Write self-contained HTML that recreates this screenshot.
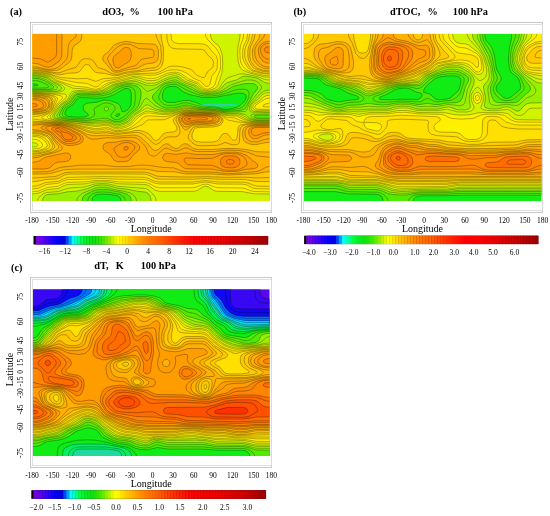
<!DOCTYPE html>
<html><head><meta charset="utf-8"><style>
html,body{margin:0;padding:0;background:#fff;}
svg{display:block;font-family:"Liberation Serif", serif;filter:blur(0.35px);}
</style></head><body>
<svg width="550" height="516" viewBox="0 0 550 516">
<rect width="550" height="516" fill="#fff"/>
<text x="10" y="14.8" font-size="10.3" text-anchor="start" font-weight="bold" fill="#000">(a)</text>
<text x="102.3" y="15" font-size="10.3" text-anchor="start" font-weight="bold" fill="#000">dO3,</text>
<text x="129.5" y="15" font-size="10.3" text-anchor="start" font-weight="bold" fill="#000">%</text>
<text x="157.6" y="15" font-size="10.3" text-anchor="start" font-weight="bold" fill="#000">100 hPa</text>
<rect x="30.5" y="22.5" width="241.0" height="190.0" fill="#fff" stroke="#c8c8c8" stroke-width="1"/>
<rect x="32.5" y="24.5" width="239.0" height="186.0" fill="#fff" stroke="#d8d8d8" stroke-width="0.8"/>
<rect x="32.50" y="33.90" width="237.00" height="167.10" fill="#10ec14"/>
<path fill-rule="evenodd" fill="#50ec00" d="M120.0,114.1 119.6,115.4 118.3,116.8 116.3,116.8 115.6,116.1 115.6,115.1 117.0,113.8 119.3,113.4ZM131.0,90.7 131.6,94.7 131.6,100.7 131.0,105.8 129.6,108.1 127.6,110.1 124.6,111.8 121.6,111.4 120.6,107.1 119.3,104.8 117.6,103.4 110.6,100.7 104.6,100.1 96.9,102.4 87.9,103.1 85.2,104.1 83.6,106.1 83.2,108.4 83.9,110.1 88.6,114.4 88.6,115.4 86.9,116.8 83.6,117.4 70.2,117.1 66.2,116.1 64.5,114.1 64.9,111.4 65.9,109.4 67.9,107.4 72.9,104.8 74.2,103.4 76.2,99.7 78.6,97.7 79.6,97.4 87.9,97.4 93.6,98.1 103.9,97.7 108.6,96.7 114.6,94.4 124.3,88.4 125.6,88.0 128.3,88.4 129.6,89.0ZM162.0,95.1 164.0,89.4 166.0,87.4 171.0,86.0 175.0,86.0 178.4,87.4 182.4,91.0 185.0,92.7 189.7,94.4 203.1,97.4 215.8,97.1 229.1,94.7 235.1,93.1 241.1,92.7 244.8,93.7 246.5,96.1 246.5,97.7 244.8,101.1 238.8,106.8 229.8,109.4 225.1,109.8 214.4,106.8 205.7,106.4 202.7,105.8 196.4,102.7 189.4,100.7 186.4,100.4 182.7,100.7 174.7,102.7 166.7,102.4 164.7,101.4 162.3,98.7ZM32.5,33.9 32.5,83.7 36.8,84.0 38.2,85.0 37.2,86.0 32.5,86.0 32.5,201.0 91.6,201.0 92.6,197.3 94.6,195.3 97.9,194.0 108.6,194.0 116.0,195.0 118.6,196.0 120.6,198.0 121.3,199.3 121.3,201.0 269.5,201.0 269.5,33.9Z"/>
<path fill-rule="evenodd" fill="#98f000" d="M107.3,107.1 105.9,107.1 104.6,107.8 104.3,109.4 104.9,110.4 106.3,110.8 108.3,109.4 108.6,108.4ZM141.0,90.4 141.3,91.7 141.0,98.4 139.3,104.4 138.0,107.1 135.6,109.4 132.6,111.4 130.0,114.1 127.0,118.1 122.3,120.8 119.3,121.8 114.9,121.8 106.6,118.5 100.9,118.5 90.2,120.5 80.9,120.5 80.6,120.1 71.6,119.8 64.2,118.8 60.5,117.4 58.9,115.8 58.9,114.4 62.9,107.1 65.5,104.8 70.2,102.4 72.2,100.1 73.6,97.1 75.6,95.1 78.2,94.1 89.9,94.1 90.2,94.4 101.9,94.1 108.3,92.4 111.6,90.7 116.0,87.4 120.3,85.7 126.0,84.4 130.3,84.4 136.3,85.7 138.6,87.0ZM152.3,98.4 152.3,96.1 153.0,94.7 156.7,91.4 161.7,85.4 165.4,83.4 172.0,81.7 177.4,82.0 199.4,93.1 203.7,94.4 211.4,94.4 218.4,93.4 226.1,90.4 233.4,86.0 246.8,83.0 253.5,83.4 255.8,84.4 257.8,86.7 257.5,89.4 253.5,94.1 251.1,98.7 247.5,104.4 245.5,108.8 243.5,110.1 240.1,110.8 223.8,111.4 217.1,109.4 201.7,108.4 193.1,106.8 188.7,105.4 183.4,105.4 175.4,108.1 166.0,108.4 163.4,107.8 159.3,105.4 155.3,102.4 153.7,100.7ZM32.5,33.9 32.5,78.0 37.5,78.0 44.9,80.4 51.2,84.0 54.2,87.0 54.2,87.7 53.2,88.7 49.5,89.7 32.5,89.7 32.5,201.0 81.9,201.0 82.2,198.0 82.9,196.7 84.9,194.7 93.6,190.3 99.9,189.0 107.3,189.3 115.6,191.3 121.0,192.0 126.3,193.6 128.3,194.7 130.6,197.0 131.6,201.0 269.5,201.0 269.5,118.5 257.8,118.5 254.8,117.8 253.8,116.8 253.8,116.1 255.5,115.1 269.5,114.8 269.5,33.9Z"/>
<path fill-rule="evenodd" fill="#d0f400" d="M269.5,90.4 265.5,90.7 262.2,92.4 251.5,103.1 250.1,105.4 249.5,108.1 249.8,110.4 251.1,111.8 254.1,112.4 269.5,112.4ZM32.5,33.9 32.5,75.7 38.5,75.7 46.9,77.7 50.2,79.7 53.9,82.7 59.9,85.4 61.9,87.4 61.9,89.0 60.2,90.7 55.9,91.7 32.5,91.0 32.5,201.0 42.2,201.0 43.2,197.3 45.2,195.3 48.5,194.0 58.9,193.6 66.5,191.6 77.6,191.0 87.2,188.6 94.9,185.3 100.6,184.6 107.3,185.0 117.0,188.0 127.6,189.0 138.0,191.3 144.7,191.6 146.7,192.3 149.7,195.0 151.0,198.0 151.3,201.0 269.5,201.0 269.5,120.5 258.2,120.5 252.5,119.8 249.1,118.1 246.5,115.4 244.5,114.4 239.5,113.1 236.1,113.1 235.8,112.8 224.4,113.1 218.4,111.1 214.4,110.4 202.7,110.1 189.1,108.1 184.0,108.1 176.7,110.4 172.4,111.1 169.0,111.1 168.7,111.4 162.7,111.1 155.0,109.1 148.0,105.1 145.3,105.4 140.0,110.8 134.6,113.8 132.6,115.8 130.6,119.1 128.3,121.5 119.6,124.8 115.3,124.8 110.6,122.8 106.9,121.8 102.3,121.8 94.3,122.8 88.2,122.8 87.9,122.5 82.6,122.5 66.2,120.8 55.9,118.5 53.9,116.4 54.5,114.1 56.9,111.4 60.2,106.1 62.5,103.7 67.9,100.7 70.2,98.1 71.9,94.1 74.9,92.1 83.9,91.4 84.2,91.7 89.2,91.7 92.3,92.4 98.6,92.4 104.9,90.4 113.6,85.0 125.3,82.0 131.0,81.4 137.0,81.4 139.3,82.0 144.7,84.7 147.3,85.4 153.3,85.4 157.0,84.4 165.0,80.0 172.4,77.3 175.4,77.0 178.7,78.3 182.4,81.4 185.0,82.7 190.7,84.4 195.7,86.7 201.1,91.0 205.1,92.4 209.7,92.4 217.8,90.7 220.1,89.4 223.4,85.4 226.4,82.7 230.8,81.0 236.8,79.7 240.8,77.0 243.5,76.0 247.8,76.0 255.5,77.3 259.5,79.0 263.8,82.0 266.8,83.0 269.5,83.0 269.5,33.9Z"/>
<path fill-rule="evenodd" fill="#fff000" d="M269.5,95.4 266.5,95.7 264.2,96.7 259.2,101.4 254.8,103.7 253.5,105.1 252.8,106.8 253.5,109.1 255.8,110.1 258.5,110.4 269.5,110.4ZM32.5,92.4 32.5,142.5 34.8,142.5 36.8,143.2 38.2,144.5 38.2,145.5 36.5,146.9 32.5,147.2 32.5,193.6 36.2,193.6 38.8,193.0 44.9,190.0 47.2,189.3 55.2,189.0 58.9,188.3 64.2,185.3 68.9,184.0 83.2,184.0 83.6,183.6 86.9,183.6 95.6,181.6 107.9,181.6 117.3,183.6 144.3,184.0 148.0,185.0 154.7,190.0 159.0,191.3 193.7,191.3 195.7,191.0 198.7,189.6 201.4,187.3 203.4,186.3 206.7,186.0 209.1,187.0 213.4,190.3 217.1,191.3 242.8,191.3 253.1,193.6 269.5,194.0 269.5,121.5 253.1,121.5 247.5,120.1 239.1,115.8 236.8,115.1 226.8,115.1 215.8,111.8 200.7,111.1 189.1,109.8 185.0,109.8 180.7,110.8 176.4,112.4 167.7,113.8 163.0,113.8 153.3,112.4 150.0,111.4 145.7,111.4 142.0,113.1 136.6,116.4 133.0,121.1 129.3,124.5 118.6,128.1 114.9,127.8 107.9,124.5 102.3,124.5 98.3,125.5 93.9,125.5 81.9,123.8 79.2,123.8 54.9,120.1 51.2,118.8 49.5,117.1 50.2,115.4 53.9,111.4 58.2,104.1 65.9,97.7 66.2,95.1 64.9,94.1 55.9,94.1 49.9,93.1 39.8,92.7 39.5,92.4ZM240.1,33.9 240.1,38.2 238.5,44.3 237.8,48.6 237.8,58.6 238.5,63.0 240.5,68.0 243.1,70.3 250.5,73.3 256.1,74.3 263.8,76.7 269.5,77.0 269.5,33.9ZM32.5,33.9 32.5,73.7 39.5,74.0 48.9,76.0 50.9,77.0 55.9,81.0 62.5,83.0 71.6,87.7 73.9,88.4 86.6,88.7 94.3,90.4 96.9,90.4 99.6,89.7 102.3,88.4 106.6,85.0 111.9,82.7 119.0,81.4 132.6,77.7 138.0,77.3 146.3,80.4 152.7,80.7 156.7,80.0 164.7,75.7 168.7,74.3 173.4,73.3 176.4,73.3 180.0,74.7 185.4,79.0 197.7,84.0 203.1,89.4 204.7,90.0 209.7,90.0 215.4,88.0 217.8,85.4 221.4,74.7 222.4,70.3 222.8,60.6 222.4,60.3 222.4,56.3 220.4,48.9 218.4,45.6 215.1,43.3 211.8,39.9 210.4,36.2 210.4,33.9Z"/>
<path fill-rule="evenodd" fill="#ffe000" d="M269.5,103.4 267.5,103.4 263.8,104.8 262.8,106.1 264.5,106.8 269.5,106.8ZM32.5,93.7 32.5,136.2 37.5,136.5 41.8,138.2 46.9,142.8 47.5,144.2 47.2,146.9 44.2,148.9 39.2,150.5 32.5,150.9 32.5,189.0 37.8,188.3 44.2,185.0 47.5,184.0 57.9,183.3 64.5,180.3 68.2,179.3 85.2,179.3 93.6,178.3 109.6,178.3 118.3,179.3 145.0,179.3 148.7,180.3 154.0,183.0 158.7,184.0 193.4,184.0 202.4,182.0 208.4,182.0 217.4,184.0 243.8,184.0 246.8,184.6 252.8,188.0 255.1,188.6 269.5,189.0 269.5,122.8 254.5,122.8 254.1,122.5 247.1,122.1 240.5,120.8 235.5,118.1 226.4,117.4 219.1,113.8 215.1,112.8 185.7,111.1 182.4,111.8 174.7,114.8 166.4,116.8 159.0,116.8 150.7,115.8 145.7,116.1 143.7,117.1 139.0,121.8 132.0,127.1 126.3,129.5 120.3,130.8 113.9,130.5 109.6,128.1 106.3,127.1 102.9,127.5 98.6,128.8 94.6,128.8 80.6,125.5 76.9,125.1 69.6,123.5 63.2,122.8 59.2,121.8 52.2,121.1 42.5,118.8 41.5,117.8 42.2,116.4 49.5,113.1 52.2,110.4 53.5,108.1 54.9,104.1 57.5,99.4 57.5,98.1 56.5,97.1 53.9,95.7 50.2,94.7 40.8,93.7ZM247.8,33.9 247.1,39.2 243.8,45.6 242.8,48.9 242.8,58.0 243.5,60.6 244.8,63.3 248.1,68.0 251.5,70.7 262.2,73.7 269.5,74.0 269.5,33.9ZM32.5,33.9 32.5,72.3 38.8,72.3 48.9,74.0 51.9,75.0 55.9,77.7 58.9,79.0 69.6,80.7 77.6,82.7 86.6,83.0 94.3,86.7 97.9,86.4 102.6,82.0 105.6,80.7 110.3,79.7 117.0,79.0 125.0,76.3 134.6,74.3 140.7,74.3 147.0,75.3 153.7,75.3 159.0,74.0 166.0,70.7 171.0,69.7 178.0,69.7 185.0,72.0 188.1,73.7 192.7,77.7 200.4,81.0 204.7,85.7 206.1,86.4 208.4,86.0 209.7,84.4 210.4,79.0 211.4,76.0 216.1,71.0 217.4,67.0 217.4,59.6 216.1,55.6 211.1,50.6 209.4,47.9 207.1,45.6 205.4,44.6 202.7,43.9 176.0,43.6 173.7,42.6 172.0,40.9 171.0,38.6 170.7,33.9Z"/>
<path fill-rule="evenodd" fill="#ffc800" d="M269.5,123.8 245.8,123.8 240.8,124.8 238.5,127.1 237.8,129.5 237.5,137.2 236.5,139.5 235.1,140.5 232.4,140.2 230.8,138.5 228.1,134.5 226.1,133.5 224.4,133.5 222.8,134.2 221.4,135.5 219.4,139.2 217.8,140.8 214.4,142.2 197.7,142.2 194.4,140.8 192.7,139.2 191.7,137.2 191.7,134.5 192.4,131.8 193.4,129.8 194.7,128.5 199.1,127.1 210.4,127.1 216.8,126.5 220.8,124.8 222.1,123.5 223.1,121.1 222.4,118.1 219.4,115.4 214.1,113.8 192.7,112.8 192.4,112.4 185.0,112.4 180.0,114.1 176.7,116.1 173.4,119.1 173.4,121.1 177.0,126.8 177.0,129.8 175.0,131.8 174.0,132.2 167.4,132.5 163.7,133.8 161.3,136.2 160.7,137.5 158.3,139.8 157.0,140.5 155.0,140.5 153.3,139.5 150.7,135.8 147.3,132.8 139.7,130.5 135.6,130.5 129.3,132.2 119.0,133.5 113.6,133.2 107.6,131.2 103.3,131.2 99.3,132.2 93.9,132.2 88.2,130.8 82.6,128.5 72.2,125.5 60.5,123.1 47.2,121.8 32.5,121.5 32.5,133.2 39.8,133.8 46.9,136.5 49.2,138.5 52.9,145.2 52.9,146.9 52.2,148.2 49.5,150.2 39.8,152.9 32.5,153.2 32.5,181.6 37.2,181.3 45.9,179.3 55.9,178.9 59.2,177.9 64.2,174.9 67.9,173.9 96.3,173.9 96.6,173.6 145.3,173.9 149.0,174.9 154.7,178.3 157.3,178.9 194.1,179.3 202.7,178.3 208.4,178.3 216.4,179.3 246.5,179.3 255.1,181.3 269.5,181.6ZM32.5,94.7 32.5,114.4 37.8,114.4 44.2,113.1 48.5,111.4 50.9,109.1 52.2,105.8 52.9,102.4 52.9,99.4 51.2,97.4 49.2,96.4 45.9,95.7ZM252.5,33.9 252.1,38.9 248.8,46.3 247.8,50.6 247.8,56.3 248.1,58.6 249.5,62.3 252.1,66.7 256.1,69.3 262.5,71.3 269.5,71.7 269.5,33.9ZM32.5,33.9 32.5,70.3 33.8,70.7 41.2,71.0 45.2,72.0 51.5,72.7 58.2,74.7 60.9,74.7 68.2,73.0 74.6,73.0 77.9,72.3 80.9,70.0 82.6,67.0 84.6,65.0 87.6,64.3 89.2,65.0 90.9,66.7 92.6,69.7 94.6,71.7 95.9,72.3 98.9,73.0 103.9,73.0 111.9,75.3 117.0,75.7 124.6,73.3 130.0,72.3 140.0,71.7 145.7,70.7 152.7,70.7 156.7,70.0 160.3,67.7 162.3,64.3 163.0,61.6 163.4,47.6 161.0,37.9 161.0,33.9Z"/>
<path fill-rule="evenodd" fill="#ffb000" d="M243.8,128.1 242.8,130.5 242.8,136.5 243.8,140.2 246.1,142.5 252.5,144.5 257.1,144.5 264.5,142.5 269.5,142.2 269.5,125.1 251.8,125.1 246.1,126.5ZM32.5,124.1 32.5,130.8 38.8,131.2 48.2,133.8 51.5,136.5 54.5,141.5 58.2,145.5 58.9,146.9 58.9,147.9 57.5,149.5 52.5,152.2 43.5,154.2 38.5,155.9 32.5,156.2 32.5,173.9 49.9,173.6 53.2,172.9 63.2,169.6 70.2,169.3 70.6,168.9 114.3,168.9 114.6,169.3 145.3,168.9 150.3,169.6 156.3,171.3 174.7,171.6 183.0,173.6 186.4,173.6 186.7,173.9 216.8,173.9 225.4,174.9 234.8,174.9 243.8,173.9 255.5,173.9 259.8,173.3 264.2,171.9 269.5,171.6 269.5,152.2 255.5,151.9 246.8,149.5 240.8,148.9 234.1,148.9 233.8,148.5 224.1,148.5 212.8,149.9 196.1,149.5 192.4,148.2 188.4,144.9 186.4,143.9 183.0,144.2 179.4,147.5 177.4,148.5 173.4,148.2 169.0,144.5 167.7,143.9 165.4,143.9 162.7,145.5 159.7,148.9 157.3,150.5 154.7,150.9 152.7,149.9 150.0,146.2 140.0,136.8 137.3,135.5 132.6,135.2 132.3,135.5 118.6,136.2 118.3,136.5 112.3,136.2 107.3,135.2 100.6,135.8 92.3,135.8 86.9,134.5 80.6,130.8 71.6,127.1 59.5,124.1 49.2,123.8 48.9,123.5ZM178.4,119.1 178.7,121.1 180.0,123.8 182.7,127.8 185.0,129.8 187.1,129.5 191.7,125.8 194.4,124.8 213.4,123.8 217.1,122.8 219.4,120.5 219.4,118.1 218.8,117.1 216.8,115.8 214.4,115.1 209.7,114.4 190.1,113.8 189.7,113.4 184.7,113.8 182.7,114.4 179.0,117.4ZM32.5,96.4 32.5,112.4 36.8,112.4 42.8,111.4 47.2,109.8 49.2,107.8 49.9,105.8 49.9,101.7 49.2,100.1 47.9,98.7 40.8,96.7ZM102.9,57.3 102.9,59.6 103.9,61.6 108.6,66.3 109.9,68.7 112.3,71.0 115.3,72.3 118.3,72.3 126.6,69.7 137.0,68.3 139.7,67.3 142.7,65.0 145.3,63.6 153.7,63.0 155.3,62.3 157.0,60.6 158.0,58.3 158.3,50.6 157.0,46.3 155.7,44.9 152.7,43.9 139.0,43.9 128.6,41.6 124.3,41.6 119.6,42.6 114.3,44.9 112.3,46.9 110.9,49.3 107.6,52.6 103.9,55.3ZM260.2,33.9 259.5,37.9 258.2,40.2 254.8,44.3 252.8,48.6 252.5,50.6 252.8,58.0 255.1,62.6 259.8,66.7 264.8,68.7 269.5,69.0 269.5,33.9ZM32.5,68.0 37.8,68.3 46.9,70.3 56.9,70.3 60.5,69.0 70.6,60.6 71.9,56.3 71.9,50.6 72.6,47.6 74.6,44.9 78.2,42.9 80.2,41.3 81.6,38.2 81.9,33.9 32.5,33.9Z"/>
<path fill-rule="evenodd" fill="#ff9c00" d="M70.6,155.5 68.2,153.2 64.5,153.2 60.2,154.5 45.9,157.2 38.8,161.6 36.2,162.2 32.5,162.2 32.5,168.9 45.5,168.9 48.5,168.2 50.5,167.2 54.5,163.2 56.5,162.2 60.9,161.6 65.9,161.6 68.2,160.9 70.6,158.6ZM257.8,165.6 257.5,164.2 256.1,162.9 252.5,160.9 248.5,156.6 246.5,155.2 239.8,152.9 235.5,152.2 224.8,152.2 214.8,154.5 210.4,154.5 210.1,154.9 194.1,154.5 187.1,152.9 184.7,152.9 178.0,154.5 173.4,154.5 169.7,153.5 165.7,153.5 164.0,154.5 162.7,156.9 163.0,159.2 165.7,161.2 175.0,161.9 177.4,162.6 179.4,163.9 183.0,167.6 187.1,168.9 212.8,168.9 217.1,169.6 223.1,171.3 234.1,171.6 239.1,170.9 244.8,169.3 251.8,168.9 255.5,168.2 257.5,166.6ZM139.7,147.2 138.3,144.5 136.3,142.8 134.3,141.8 129.3,140.5 123.6,140.5 114.9,142.5 106.9,142.8 104.6,143.9 103.6,144.9 102.9,146.5 103.6,149.5 105.9,151.5 108.3,152.5 110.9,155.2 112.6,158.6 114.6,160.6 117.6,161.6 125.6,161.6 128.6,160.6 131.0,158.2 132.6,155.5 139.0,149.9ZM248.8,130.1 248.8,132.8 250.1,136.2 252.1,138.2 254.1,138.8 256.1,138.8 258.2,138.2 261.2,136.2 264.5,134.8 269.5,134.5 269.5,126.5 253.1,126.8 250.1,128.1ZM41.2,127.1 41.2,128.1 41.8,128.8 50.9,132.5 54.9,136.2 55.9,137.8 59.5,141.5 62.5,143.5 67.2,145.5 71.9,145.5 79.6,143.9 82.2,141.8 83.2,139.5 82.2,136.2 79.2,133.5 69.9,128.8 62.2,126.1 57.5,125.1 50.9,125.1 43.2,126.1ZM181.4,120.1 182.0,121.8 184.0,123.8 185.7,124.5 188.1,124.5 194.7,122.5 208.4,122.1 212.4,121.5 215.1,120.5 216.1,118.5 214.1,116.8 209.4,115.8 187.4,114.8 183.0,116.1 181.7,117.4ZM32.5,98.4 32.5,110.4 35.8,110.4 41.5,109.4 44.5,108.1 45.9,106.8 46.2,104.1 45.5,102.7 43.5,100.7 38.5,98.7ZM129.3,48.3 126.6,47.3 123.3,48.3 119.3,52.3 114.3,56.0 112.9,58.6 112.9,61.3 113.9,64.6 115.6,67.3 117.3,68.0 119.0,67.7 124.3,64.0 128.6,62.0 129.6,61.0 131.0,58.0 131.0,51.3ZM269.5,41.3 265.8,41.6 262.2,43.3 259.8,45.6 258.5,48.3 258.5,53.3 260.2,58.0 262.5,61.0 264.5,62.3 266.8,63.0 269.5,63.0ZM32.5,33.9 32.5,63.0 38.8,63.6 45.5,67.0 49.9,67.0 52.2,66.0 58.2,62.0 60.2,60.0 61.2,58.0 61.9,55.0 61.9,33.9Z"/>
<path fill-rule="evenodd" fill="#ff8400" d="M221.1,158.9 220.8,163.9 222.8,166.6 225.4,167.6 227.8,167.9 235.1,167.6 238.1,166.2 239.8,163.2 239.8,160.2 239.1,158.6 237.8,157.2 233.8,155.9 224.8,156.2 223.1,156.9ZM124.3,147.2 124.0,148.9 125.0,149.9 127.0,149.9 128.3,148.2 128.3,147.5 127.0,146.5 125.6,146.5ZM51.9,128.1 51.9,129.5 53.2,130.8 57.2,133.5 63.5,140.2 66.9,141.5 71.9,141.2 75.2,139.8 76.6,138.5 76.6,137.2 75.6,135.8 71.6,133.2 60.5,127.8 58.5,127.1 53.9,127.1ZM184.7,119.8 185.0,120.5 186.4,121.1 190.1,121.1 194.1,120.1 204.7,119.8 207.4,119.1 207.7,118.5 206.7,117.8 201.4,117.1 187.1,116.8 184.7,118.1ZM32.5,103.4 32.5,106.8 35.5,106.8 37.2,106.1 37.5,105.4 36.8,104.4 35.5,103.7ZM269.5,46.6 265.8,47.3 264.5,48.6 264.5,50.6 265.8,52.3 267.5,52.9 269.5,52.9Z"/>
<path fill="none" stroke="#000" stroke-opacity="0.6" stroke-width="0.5" d="M32.5,86.0 37.3,85.7 38.2,85.0 36.2,84.2 32.5,83.9M227.9,109.4 236.5,107.4 240.3,105.4 243.8,102.0 245.6,99.4 246.2,96.7 245.5,94.6 242.8,93.2 237.5,93.1 216.8,97.0 208.1,97.6 202.4,97.4 191.7,95.0 186.0,93.2 183.0,91.6 177.7,87.3 175.7,86.5 173.4,86.2 168.4,86.8 165.5,88.0 163.9,90.0 162.5,94.1 162.2,96.7 162.8,99.1 164.7,101.1 167.4,102.3 174.0,102.5 183.4,100.6 188.4,100.5 195.1,102.2 204.1,105.8 215.1,106.8 223.4,109.2 227.9,109.4M83.8,117.1 87.1,116.4 88.4,115.1 87.9,113.8 84.6,111.1 83.4,109.1 83.3,106.4 84.7,104.4 87.6,103.1 96.3,102.2 103.9,100.1 109.3,100.4 116.6,102.9 118.6,104.1 120.1,105.8 122.0,111.5 123.6,111.7 126.3,110.7 129.3,108.1 131.0,104.7 131.3,94.4 130.5,90.4 129.3,89.1 128.0,88.5 124.6,88.6 112.9,95.2 108.3,96.8 103.6,97.8 96.3,98.2 81.9,97.5 78.9,97.8 76.9,99.2 73.2,104.5 66.9,108.5 65.0,112.1 65.0,114.8 67.5,116.3 74.7,117.1 83.8,117.1M118.3,116.4 119.7,114.8 119.3,113.7 117.0,114.1 115.7,115.4 116.3,116.6 118.3,116.4M121.3,201.0 120.2,197.7 117.3,195.7 109.6,194.4 102.6,194.0 97.8,194.3 94.6,195.6 92.7,197.7 91.9,201.0M32.5,88.1 45.9,87.9 48.2,87.4 48.9,86.4 46.8,84.4 40.3,81.7 36.8,80.8 32.5,80.5M230.0,110.1 239.7,108.4 242.0,107.4 243.6,106.1 247.1,101.0 248.8,97.4 249.1,93.1 247.8,90.4 244.5,89.2 237.8,89.4 234.5,90.1 227.8,92.7 218.8,95.1 210.8,96.0 204.4,96.0 200.1,95.2 191.8,92.4 185.4,89.5 177.7,84.9 175.4,84.2 173.0,84.2 166.7,85.3 163.5,87.0 161.5,89.7 158.7,96.4 159.0,99.1 160.9,101.7 164.0,104.3 167.0,105.4 174.4,105.4 183.0,103.0 187.1,102.8 203.3,107.1 215.4,108.0 225.1,110.3 230.0,110.1M118.7,119.5 121.8,118.1 125.3,115.5 132.6,108.1 134.5,105.1 135.3,99.4 135.1,91.7 133.9,89.0 130.9,87.0 127.3,86.4 123.3,87.0 118.7,89.0 111.3,93.5 103.3,95.6 97.3,96.2 82.2,95.8 77.6,96.4 75.6,97.9 71.9,103.4 65.1,107.8 63.5,110.4 62.3,114.1 62.5,115.4 63.4,116.4 67.4,117.8 82.2,118.8 89.2,118.4 92.4,117.1 94.5,115.1 94.8,113.1 94.0,109.4 94.8,108.1 102.2,103.7 104.9,103.0 107.6,102.9 112.4,104.4 114.2,105.8 115.2,107.4 114.8,109.8 111.0,114.8 111.1,116.8 112.4,118.1 114.6,119.3 116.6,119.7 118.7,119.5M125.4,201.0 124.9,198.7 123.9,197.0 120.0,194.4 108.9,192.3 102.3,191.9 96.6,192.3 92.5,194.0 89.1,197.0 88.2,198.7 87.8,201.0M32.5,89.4 49.2,89.4 52.7,88.7 54.0,87.4 53.2,86.0 51.2,84.4 45.2,80.8 38.8,78.6 32.5,78.1M231.3,111.1 242.1,110.2 245.1,108.8 253.1,94.5 257.4,89.0 257.6,87.0 256.6,85.4 254.8,84.1 252.5,83.5 244.8,83.6 233.4,86.3 226.1,90.4 219.1,93.2 213.4,94.2 206.1,94.6 200.1,93.4 177.7,82.5 175.7,81.8 173.4,81.8 166.0,83.4 162.3,85.2 153.7,94.2 152.5,96.4 152.9,99.1 155.0,101.7 161.2,106.4 165.4,108.0 174.4,107.9 183.0,105.5 186.7,105.1 202.4,108.2 216.4,109.3 224.8,111.3 231.3,111.1M119.4,121.5 123.2,120.1 126.3,118.4 131.1,112.8 136.5,108.4 138.3,106.1 140.7,98.4 141.1,92.7 140.1,89.0 137.1,86.4 131.6,84.8 125.3,84.8 116.6,87.4 108.9,92.2 101.6,94.1 95.6,94.7 80.9,94.1 76.6,94.8 74.3,96.4 70.7,102.1 65.4,105.1 63.5,106.8 59.0,115.1 59.6,116.4 61.2,117.4 68.2,119.2 87.2,120.3 104.6,118.2 107.9,118.8 114.9,121.5 119.4,121.5M106.3,110.8 104.5,110.1 104.2,108.4 105.3,107.3 107.3,107.0 108.4,107.8 108.6,109.1 107.6,110.3 106.3,110.8M269.5,115.1 256.8,115.2 254.8,115.6 253.9,116.4 254.7,117.4 257.1,118.1 269.5,118.2M131.4,201.0 131.0,198.4 130.2,196.7 128.6,195.1 126.4,194.0 120.6,192.2 108.3,189.8 101.9,189.3 94.9,190.1 85.6,194.5 83.0,197.0 82.0,201.0M32.5,90.1 51.5,90.3 56.2,89.4 57.7,88.0 56.7,86.4 46.2,79.6 39.2,77.4 32.5,76.9M119.2,122.8 125.0,120.9 127.8,119.1 132.6,113.1 139.3,108.2 143.7,100.4 145.0,98.9 146.3,98.2 148.0,99.0 152.6,103.4 155.7,105.8 161.0,108.4 165.0,109.5 174.7,109.1 183.0,106.8 186.4,106.5 202.4,108.9 215.8,109.8 225.8,112.1 245.1,111.5 246.8,110.1 248.4,105.4 250.0,102.4 260.5,89.7 261.4,88.0 261.5,86.7 259.5,83.7 255.8,81.0 251.8,80.0 246.1,80.0 230.8,84.9 222.4,90.4 218.9,92.1 214.1,93.1 206.7,93.7 203.7,93.5 200.7,92.5 192.0,87.4 183.7,84.1 177.7,80.7 175.4,79.9 172.4,80.2 164.0,82.8 155.0,88.7 147.7,91.4 146.3,90.9 141.4,86.4 137.6,84.3 132.6,83.5 125.3,83.7 116.0,86.2 108.3,90.9 100.6,93.3 95.3,93.8 80.6,93.1 75.2,94.1 73.3,95.7 69.9,101.2 64.5,104.4 62.5,106.1 56.7,115.4 57.2,116.8 59.0,117.8 67.5,119.8 87.2,121.3 105.6,120.0 108.9,120.6 115.3,122.8 119.2,122.8M269.5,113.9 253.8,114.1 251.5,114.7 250.8,115.8 252.0,117.8 254.8,118.9 269.5,119.2M136.6,201.0 135.9,198.3 134.6,196.3 132.5,194.3 129.6,192.8 123.9,191.3 114.3,189.6 107.6,187.8 101.9,187.3 95.3,188.1 82.5,193.3 78.4,196.7 77.3,198.7 76.7,201.0M32.5,91.0 56.5,91.3 60.2,90.4 61.4,89.4 61.8,88.4 61.4,87.0 60.2,85.9 53.9,82.7 47.2,78.1 39.8,76.2 32.5,75.7M269.5,83.3 264.8,82.5 258.8,78.9 255.6,77.7 247.5,76.3 243.8,76.2 241.5,77.0 236.5,79.9 226.8,82.8 224.4,84.6 220.6,89.0 218.1,90.6 213.8,91.8 207.1,92.6 204.1,92.3 201.7,91.5 194.7,86.4 184.0,82.3 178.0,78.2 175.7,77.4 171.4,78.0 163.7,80.9 156.7,84.5 152.7,85.5 146.0,85.1 136.3,81.5 125.6,82.3 114.3,85.1 106.4,89.7 99.6,92.2 94.9,92.6 80.2,91.7 76.6,92.0 73.9,92.7 72.0,94.4 68.8,100.1 63.2,103.5 60.7,105.8 54.8,114.1 54.1,116.1 54.7,117.4 56.5,118.4 66.2,120.5 87.9,122.5 106.3,121.7 109.3,122.3 115.3,124.5 118.3,124.7 124.6,122.9 128.3,121.1 134.0,114.3 140.5,110.1 145.0,105.5 147.0,104.8 148.7,105.3 155.0,108.8 164.0,111.0 173.7,110.6 183.7,108.1 188.1,108.0 202.4,109.7 215.4,110.5 226.1,113.0 239.1,113.1 245.4,114.8 249.8,118.3 252.8,119.6 257.5,120.1 269.5,120.2M269.5,112.6 252.5,112.2 250.1,111.0 249.4,108.4 249.9,105.8 251.5,103.0 256.7,98.1 260.9,93.4 264.8,90.9 269.5,90.1M151.1,201.0 150.6,197.7 149.6,195.3 147.8,193.3 145.3,192.1 137.0,191.2 129.0,189.5 116.6,187.9 107.3,185.3 101.6,184.9 94.9,185.6 87.2,188.6 77.2,191.1 67.5,191.8 58.5,193.7 47.5,194.5 45.5,195.3 43.8,196.8 42.8,198.7 42.4,201.0M269.5,80.0 265.2,79.6 257.1,76.6 246.1,74.2 242.5,73.8 239.1,74.0 228.8,77.5 226.1,78.9 223.1,82.0 219.6,87.7 217.4,89.5 213.1,90.9 207.1,91.7 202.4,90.7 196.1,85.5 184.7,81.1 178.7,76.7 175.7,75.7 173.4,75.7 170.4,76.5 164.4,78.9 157.3,82.4 153.7,83.3 146.0,83.1 139.0,80.4 136.3,79.8 126.0,81.2 113.0,84.4 102.9,90.0 98.9,91.4 94.9,91.7 86.6,90.8 80.2,90.6 75.2,90.9 72.2,91.7 70.6,93.3 68.2,98.8 59.8,105.1 53.0,114.8 52.4,116.4 53.1,117.8 55.0,118.8 65.2,120.9 92.3,123.5 106.6,122.8 109.6,123.4 115.3,125.8 118.0,126.1 122.6,124.9 128.6,122.4 130.9,120.5 135.0,115.1 146.3,108.1 148.3,108.2 156.3,110.8 165.7,112.2 174.4,111.4 183.4,109.0 187.1,108.7 215.4,111.0 226.4,113.7 237.5,113.8 242.1,115.1 249.1,119.1 252.1,120.1 256.8,120.7 269.5,120.7M32.5,91.5 58.2,92.3 62.8,91.0 64.1,90.0 64.6,88.7 64.0,87.0 62.3,85.4 54.7,82.0 48.0,77.3 39.8,75.4 32.5,74.9M269.5,111.8 254.1,111.4 251.6,110.1 250.8,107.8 251.1,105.8 252.5,103.5 258.1,99.1 262.2,94.7 265.2,93.0 269.5,92.5M156.3,201.0 155.4,197.7 153.1,194.3 149.0,190.3 145.7,188.5 118.3,186.4 108.3,183.9 101.6,183.5 94.9,184.0 84.2,187.0 68.2,188.2 58.2,191.5 46.5,192.5 43.5,193.7 40.4,196.0 38.3,198.3 37.2,201.0M210.5,33.9 210.9,37.2 212.0,39.9 213.8,41.9 218.4,45.6 220.4,48.9 222.3,55.6 222.8,63.6 222.0,72.7 217.8,85.4 215.4,88.1 210.4,89.9 206.7,90.4 203.7,89.7 202.1,88.7 197.4,84.1 186.5,79.7 180.0,74.9 176.0,73.6 172.4,73.8 167.5,75.0 163.7,76.5 157.7,79.7 153.7,80.6 146.3,80.4 138.0,77.7 133.3,77.9 111.6,83.1 106.6,85.3 100.3,89.5 95.6,90.5 86.2,89.0 72.9,88.2 63.4,83.7 55.9,81.0 50.9,77.3 48.5,76.2 39.8,74.4 32.5,74.0M269.5,77.2 264.2,76.8 250.5,73.3 243.1,70.3 240.4,68.0 238.3,62.3 237.6,54.6 237.9,47.3 239.7,38.6 240.1,33.9M32.5,92.3 47.5,92.9 57.5,93.9 64.2,94.0 65.7,94.4 66.5,95.7 66.0,97.7 58.2,104.5 54.4,110.8 50.2,115.8 50.0,117.4 51.7,118.8 54.9,119.8 76.6,123.2 95.6,125.3 106.6,124.2 109.6,125.0 114.9,127.5 118.6,127.8 125.3,125.9 129.3,124.1 131.8,122.1 136.6,116.4 145.7,111.3 148.3,111.1 159.7,113.1 166.4,113.5 174.7,112.5 182.7,110.2 186.7,109.7 214.4,111.6 218.1,112.2 226.1,114.7 236.8,115.1 239.8,116.0 246.6,119.5 252.5,121.1 269.5,121.4M269.5,110.5 255.8,110.2 253.5,109.1 252.7,107.4 253.1,105.8 254.1,104.3 259.6,100.7 263.8,96.8 266.2,95.7 269.5,95.3M32.5,147.1 36.8,146.5 38.1,145.2 37.8,144.2 36.5,143.3 32.5,142.6M269.5,194.0 254.5,193.8 242.1,191.6 216.8,191.3 213.8,190.5 208.6,187.0 205.7,186.2 203.1,186.7 197.7,190.3 194.1,191.3 159.7,191.4 155.3,190.3 149.0,185.8 145.0,184.4 119.0,183.8 108.3,182.0 101.6,181.7 94.9,182.0 84.9,183.9 67.9,184.4 64.9,185.3 58.2,188.5 47.2,189.6 38.2,193.2 32.5,194.0M205.3,33.9 205.8,36.6 207.3,39.2 215.8,48.1 218.1,51.3 219.8,55.1 220.5,59.3 220.6,66.0 220.1,70.3 216.6,78.7 215.1,84.5 213.2,87.0 209.1,88.9 206.4,89.2 204.1,88.5 198.1,82.8 189.0,79.0 180.5,73.3 176.0,72.2 172.0,72.3 166.7,73.4 157.3,77.6 153.7,78.4 147.0,78.3 138.0,76.2 132.6,76.6 108.3,82.8 104.6,84.5 99.7,88.4 95.9,89.3 93.2,89.0 86.2,87.2 75.6,86.4 57.1,80.4 51.5,76.6 48.9,75.4 39.5,73.6 32.5,73.3M269.5,75.9 263.5,75.4 251.1,72.3 245.8,69.3 242.3,65.6 240.9,62.6 240.2,59.6 239.8,50.6 240.5,45.6 243.2,38.2 243.7,33.9M32.5,92.8 50.5,93.8 60.2,95.6 62.4,96.7 62.3,98.4 57.2,103.8 53.1,111.1 47.5,116.4 47.3,117.4 48.4,118.5 54.8,120.5 94.6,126.5 97.6,126.6 103.6,125.4 106.6,125.3 109.3,126.1 114.9,128.8 119.6,129.0 126.3,127.1 130.0,125.4 132.8,123.1 138.6,117.1 142.6,114.4 145.3,113.3 148.7,112.9 161.3,114.5 166.4,114.6 174.4,113.4 182.7,110.8 186.7,110.3 216.1,112.3 226.1,115.5 236.5,116.2 243.8,119.6 251.1,121.5 269.5,121.9M269.5,109.5 257.5,109.1 255.5,108.4 254.6,107.1 255.8,105.0 264.5,99.4 266.8,98.4 269.5,98.0M32.5,149.1 39.5,148.2 41.8,146.9 42.7,145.2 41.7,142.8 39.2,140.7 36.5,139.6 32.5,139.2M269.5,191.8 254.1,191.5 250.8,190.7 245.1,188.5 242.1,188.0 217.4,187.7 214.8,187.1 209.1,184.7 206.1,184.1 202.4,184.5 196.1,187.2 192.7,187.8 159.7,187.8 155.7,187.0 149.0,183.4 145.0,182.3 118.6,181.9 108.3,180.6 101.6,180.4 94.9,180.6 85.2,181.9 67.5,182.4 64.5,183.2 57.5,186.4 47.5,187.4 38.5,191.1 32.5,191.8M170.9,33.9 171.6,39.6 172.7,41.4 174.4,42.7 178.7,43.6 200.4,43.7 204.7,44.3 208.4,46.6 211.9,51.3 215.9,55.3 216.9,57.3 217.5,60.0 217.2,68.3 215.9,71.3 211.6,76.3 210.1,83.7 208.7,85.8 207.1,86.5 205.4,86.2 200.5,81.4 193.2,78.0 187.0,73.3 181.4,70.8 176.4,69.8 172.0,69.9 167.4,70.6 158.0,74.5 154.7,75.2 148.0,75.4 137.3,74.5 130.5,75.3 118.0,78.8 104.9,81.2 102.0,82.7 98.3,86.2 95.9,87.0 93.6,86.5 86.9,83.4 76.9,82.6 58.9,79.0 56.5,78.1 51.9,75.3 48.9,74.3 39.2,72.7 32.5,72.4M269.5,74.3 262.5,73.7 251.8,70.8 248.1,68.0 244.2,62.3 242.7,57.6 242.7,49.6 243.6,45.9 246.8,39.5 247.5,33.9M32.5,93.5 40.5,93.7 50.2,94.7 54.8,96.1 57.6,98.1 57.5,99.7 52.2,110.6 48.9,113.5 42.1,116.8 41.6,117.8 42.3,118.5 50.9,120.6 70.9,123.7 94.9,128.6 98.3,128.6 106.3,127.1 108.6,127.7 114.9,130.5 118.0,130.7 121.3,130.3 128.0,128.7 131.4,127.1 138.2,122.1 143.2,117.4 146.0,116.0 149.0,115.7 161.7,116.6 166.0,116.5 175.0,114.4 182.7,111.6 186.7,111.0 215.8,112.9 219.4,113.9 226.4,117.1 234.8,117.9 241.1,120.7 247.0,121.8 254.5,122.5 269.5,122.5M269.5,107.1 264.2,106.8 263.1,106.4 262.7,105.8 265.2,104.0 269.5,103.2M32.5,150.7 38.2,150.4 42.6,149.2 46.5,147.2 47.5,145.2 45.7,141.8 41.5,138.3 37.8,136.8 32.5,136.4M269.5,189.0 255.1,188.7 252.1,187.7 246.8,185.0 242.8,184.2 217.8,184.0 205.4,182.0 192.7,184.0 159.7,184.0 155.3,183.4 148.0,180.3 144.3,179.5 118.6,179.3 101.6,178.4 85.6,179.3 67.9,179.6 64.9,180.4 57.9,183.3 46.5,184.5 38.2,188.3 32.5,189.0M166.8,33.9 167.1,39.2 167.9,42.9 169.4,45.8 171.4,47.6 173.7,48.5 177.0,48.9 202.4,49.4 204.6,50.6 207.9,55.3 212.2,59.0 213.4,62.0 213.0,66.3 211.9,68.0 207.6,71.7 204.6,77.3 202.7,77.6 197.7,75.7 195.9,74.3 192.7,70.7 189.7,68.8 182.0,66.8 176.0,66.1 171.7,66.2 168.7,66.8 160.0,71.7 156.0,73.1 133.0,73.8 125.6,75.2 117.0,77.7 103.3,78.6 95.9,81.4 86.9,78.4 76.9,78.8 59.9,77.5 49.5,73.7 38.8,72.0 32.5,71.7M269.5,73.3 262.5,72.8 253.0,70.0 249.8,67.4 246.3,61.6 244.8,57.0 244.8,50.3 245.6,46.9 248.8,39.9 249.6,33.9M32.5,94.0 40.8,94.2 49.9,95.4 53.9,97.1 54.9,98.1 55.4,99.4 52.7,108.1 51.5,110.2 49.9,111.9 46.9,113.5 39.2,115.9 32.5,116.8M32.5,119.0 58.9,122.2 69.6,124.0 94.6,130.0 98.3,130.0 106.3,128.7 113.6,131.2 117.3,131.8 123.6,131.0 131.0,129.3 142.7,124.5 146.7,120.7 148.3,119.9 164.4,119.7 181.4,112.6 186.4,111.6 216.1,113.4 220.7,115.1 228.1,120.1 237.8,122.0 252.5,122.9 269.5,123.0M32.5,151.8 39.2,151.3 46.2,149.3 49.2,147.6 50.0,145.5 48.2,141.5 44.4,137.8 39.2,135.6 32.5,135.0M269.5,186.4 256.1,186.1 248.1,183.0 243.5,182.2 217.8,182.0 205.4,180.6 192.7,182.0 159.7,182.0 155.0,181.3 147.7,178.1 144.0,177.3 101.6,176.6 68.2,177.4 65.2,178.2 57.9,181.4 45.9,182.5 37.5,185.7 32.5,186.4M161.1,33.9 161.4,38.6 163.5,48.6 163.3,60.3 162.5,64.0 161.2,66.7 159.0,68.9 156.3,70.1 131.3,72.5 125.3,73.5 118.0,75.5 114.3,75.8 105.3,73.5 98.3,72.9 95.6,72.3 93.3,70.6 89.9,65.8 88.6,64.9 86.9,64.6 85.2,64.9 83.9,65.7 80.4,70.7 77.9,72.4 75.2,72.9 67.5,73.4 60.9,74.7 57.9,74.6 51.2,72.9 39.5,71.1 32.5,70.6M269.5,72.0 262.5,71.3 254.8,68.8 251.8,66.3 249.2,61.6 247.9,57.0 247.8,50.3 248.7,46.6 251.7,39.2 252.4,33.9M32.5,94.7 40.5,95.0 48.9,96.3 52.2,98.1 53.1,100.4 51.6,107.8 50.5,109.8 48.9,111.3 46.2,112.5 40.8,113.9 32.5,114.7M32.5,121.2 47.2,121.8 60.5,123.1 71.2,125.2 80.7,127.8 89.2,130.8 94.9,131.9 98.6,131.9 106.3,130.9 113.9,132.9 118.3,133.2 128.0,132.1 136.0,130.4 140.0,130.5 144.3,131.6 147.9,133.2 149.9,134.8 153.3,139.2 154.9,140.2 156.3,140.4 158.9,139.2 162.3,134.9 164.4,133.3 167.0,132.5 173.7,131.9 176.0,130.8 176.9,129.1 176.9,127.1 173.4,121.5 173.2,119.5 175.7,116.8 182.0,113.2 188.1,112.2 209.4,113.3 216.1,114.1 220.1,115.8 222.5,118.1 223.2,120.5 222.3,123.1 219.8,125.5 214.1,126.9 197.7,127.6 195.4,128.3 193.7,129.8 191.9,135.2 192.0,137.2 192.7,138.8 194.4,140.5 196.3,141.5 202.1,142.2 212.1,142.1 216.1,141.5 218.8,139.6 222.1,134.6 223.4,133.8 225.1,133.4 226.8,133.7 228.4,134.7 232.3,139.8 234.8,140.4 236.1,139.6 237.0,137.8 238.3,127.5 239.3,125.8 240.7,124.8 246.8,123.7 269.5,123.6M32.5,153.2 39.2,152.7 48.5,150.3 51.7,148.5 52.7,146.2 52.2,144.2 50.2,140.5 48.6,138.2 46.9,136.7 39.8,134.1 32.5,133.5M269.5,181.6 256.5,181.5 244.5,179.5 218.4,179.3 206.4,178.5 192.4,179.3 159.7,179.2 155.3,178.5 148.7,175.1 144.7,174.2 101.6,173.9 68.2,174.2 64.5,175.1 59.3,177.9 56.5,178.9 45.5,179.6 37.2,181.3 32.5,181.6M155.8,33.9 156.6,37.2 160.7,45.9 161.4,54.6 161.1,59.6 160.0,63.3 158.0,66.1 155.3,67.6 146.7,68.5 139.0,70.4 126.0,72.1 118.3,74.2 114.6,74.3 110.9,73.1 104.9,69.7 98.3,67.7 96.8,66.3 94.3,62.1 92.6,60.3 89.9,59.0 86.6,58.6 83.2,59.1 80.9,60.5 76.9,66.3 75.2,67.7 67.5,69.7 60.2,72.6 56.5,72.8 38.5,70.1 32.5,69.8M269.5,70.9 263.1,70.3 256.9,68.0 253.5,65.4 250.8,61.0 249.7,56.3 249.9,49.3 250.8,45.9 254.2,38.9 255.0,33.9M32.5,95.3 40.5,95.6 48.2,97.1 50.9,98.7 51.8,101.7 50.8,107.4 49.6,109.4 48.1,110.8 45.5,111.9 40.5,113.1 32.5,113.8M32.5,122.3 47.9,122.5 60.5,123.6 71.0,125.8 80.2,128.8 87.6,131.9 94.3,133.3 98.3,133.4 106.3,132.6 113.9,134.1 118.0,134.3 135.0,132.4 138.3,132.5 141.3,133.4 144.5,135.2 153.0,143.1 154.7,144.1 156.3,144.4 159.0,143.2 164.0,138.7 166.4,137.3 169.0,136.8 175.4,136.8 177.4,136.2 178.8,135.2 179.9,132.8 179.9,129.1 178.9,126.1 176.4,121.5 176.0,119.5 177.6,116.8 181.4,114.1 185.0,113.0 189.7,112.8 211.8,113.9 215.8,114.6 218.4,115.6 220.7,117.4 221.6,119.8 220.8,122.1 218.8,124.0 213.1,125.4 195.7,126.4 192.8,127.8 190.7,130.5 188.1,136.2 188.2,137.8 189.1,139.5 192.1,142.6 195.1,144.7 197.7,145.5 202.1,145.7 216.8,145.4 220.2,144.5 225.1,142.4 231.8,144.7 236.8,144.7 238.5,143.7 239.3,142.2 240.0,129.8 240.8,127.5 242.1,126.1 245.1,124.9 250.1,124.3 269.5,124.1M32.5,154.3 38.8,153.8 49.9,151.1 53.3,149.2 54.4,147.9 54.7,146.5 54.1,144.5 50.8,138.8 48.0,135.8 40.2,133.1 32.5,132.4M269.5,177.6 256.1,177.9 245.1,177.2 226.4,177.4 206.4,176.7 189.1,177.1 160.7,176.5 156.3,176.0 149.3,173.0 144.3,172.1 74.6,172.0 65.2,172.6 57.5,175.9 54.5,176.6 32.5,178.0M81.9,33.9 81.6,38.2 80.5,40.9 78.9,42.6 74.6,45.2 72.9,47.6 72.2,50.3 71.7,57.6 70.6,60.6 69.2,62.3 60.9,68.8 57.2,70.3 51.5,70.6 45.9,70.2 37.2,68.5 32.5,68.3M269.5,69.1 264.2,68.6 259.8,66.7 255.1,62.7 252.9,58.6 252.4,53.3 252.9,48.3 254.4,44.9 258.9,38.6 259.9,33.9M118.3,72.3 114.6,72.2 111.7,70.7 107.3,65.0 103.8,61.6 102.7,59.0 102.9,57.0 103.9,55.3 109.2,50.9 112.8,46.3 114.6,44.7 121.0,42.2 127.0,41.4 138.3,43.5 153.0,43.9 155.3,44.7 157.0,46.3 158.3,49.9 158.4,56.3 157.5,60.0 155.7,62.1 153.3,63.0 145.0,64.1 137.3,68.3 126.6,69.9 118.3,72.3M32.5,96.2 40.2,96.6 46.9,98.2 49.3,100.1 50.1,103.7 49.2,107.8 46.8,110.1 39.8,112.1 32.5,112.6M186.4,129.9 184.7,129.8 183.4,128.7 179.8,123.5 178.4,120.5 178.5,118.5 179.4,116.8 181.4,115.1 183.5,114.1 189.1,113.4 211.8,114.6 217.1,115.9 218.8,117.1 219.6,118.5 219.7,119.8 219.1,121.2 216.1,123.2 209.7,124.2 194.7,125.0 191.4,126.3 186.4,129.9M32.5,123.9 48.9,123.5 60.5,124.3 70.8,126.8 80.6,130.8 87.2,134.3 92.6,135.6 97.6,135.7 106.3,135.1 117.3,136.2 133.3,135.1 137.0,135.4 140.7,137.3 148.3,144.3 152.7,149.5 155.0,150.6 158.0,149.9 163.4,144.9 165.7,143.8 168.4,144.0 173.0,147.7 176.0,148.5 178.4,147.9 182.7,144.3 185.0,143.6 187.7,144.3 193.4,148.4 197.4,149.4 212.4,149.5 225.1,148.5 236.5,148.6 246.5,149.5 256.8,151.7 269.5,152.0M269.5,142.4 265.2,142.7 255.8,144.7 252.1,144.5 248.5,143.6 245.5,142.1 243.8,140.3 242.9,137.5 242.6,133.2 242.8,130.5 243.5,128.5 244.8,127.1 247.5,126.0 254.1,124.9 269.5,124.8M32.5,156.1 38.2,155.6 51.9,152.1 57.2,149.5 58.2,148.5 58.7,147.2 58.0,145.5 54.5,141.5 51.5,136.8 49.2,134.7 46.5,133.5 40.2,131.7 32.5,131.0M269.5,171.7 265.2,172.0 255.5,173.9 227.4,175.0 212.4,174.0 185.7,173.9 174.0,171.8 157.3,171.4 149.3,169.7 144.7,169.2 75.9,169.2 63.9,169.8 53.2,172.9 48.9,173.8 32.5,174.1M76.5,33.9 75.6,37.3 70.9,40.8 69.1,43.6 68.2,47.6 67.7,56.0 66.8,58.6 64.5,61.6 59.1,66.7 55.0,68.7 49.2,69.5 44.9,69.0 37.5,67.1 32.5,66.8M269.5,67.2 264.5,66.6 260.8,64.6 256.7,60.3 255.0,55.6 254.8,50.6 255.7,46.9 257.7,43.9 263.4,37.6 265.0,33.9M119.0,70.7 115.6,70.8 112.9,69.3 108.2,61.0 107.6,58.6 108.0,57.0 109.5,55.0 115.6,48.6 119.1,45.9 123.6,44.1 128.0,43.9 131.6,44.9 139.0,48.6 151.0,49.2 152.7,49.7 153.7,50.8 154.2,54.6 153.7,56.3 152.7,57.3 142.3,59.1 140.0,60.6 136.8,64.3 135.0,65.7 126.0,68.1 119.0,70.7M32.5,96.9 39.8,97.4 45.5,99.1 47.9,101.1 48.8,104.4 47.9,107.8 45.5,109.6 39.5,111.3 32.5,111.8M187.1,126.9 185.0,126.9 183.0,125.5 180.8,122.8 179.7,120.1 179.7,118.5 180.6,116.8 182.1,115.4 184.4,114.4 189.7,114.0 210.8,115.1 216.1,116.3 217.4,117.1 218.3,118.5 218.3,119.8 217.7,120.8 214.7,122.5 208.1,123.4 195.1,124.0 191.9,124.8 187.1,126.9M32.5,125.2 50.5,124.1 56.9,124.3 61.5,125.1 69.6,127.2 79.6,131.7 82.7,133.5 88.6,138.0 91.9,139.1 96.3,139.1 106.3,137.6 116.3,138.1 130.3,137.3 135.6,137.8 138.6,139.4 143.3,143.9 145.9,147.2 148.8,153.9 150.7,155.4 152.7,156.1 154.7,155.9 156.7,155.0 163.4,149.3 165.4,148.2 167.4,148.3 172.5,150.5 176.0,151.1 179.0,150.6 184.0,148.2 185.7,147.9 187.4,148.2 193.1,150.8 197.7,151.6 213.8,151.5 226.4,150.1 238.1,150.4 247.6,152.2 257.1,156.0 269.5,157.3M269.5,138.7 264.8,139.3 257.1,142.0 251.9,141.8 248.7,140.5 246.5,138.5 245.4,136.2 245.0,132.5 245.3,130.1 246.2,128.5 247.9,127.1 250.1,126.2 255.5,125.5 269.5,125.4M32.5,157.9 37.8,157.4 44.9,155.0 56.0,152.2 60.9,150.2 62.0,149.2 62.5,147.9 61.4,145.9 56.2,141.3 52.1,135.8 49.8,133.8 46.9,132.5 39.5,130.4 32.5,129.6M269.5,166.5 266.2,167.2 260.2,170.5 256.6,171.6 233.4,173.5 224.4,173.4 212.8,172.1 186.0,171.9 182.0,171.1 173.7,167.9 162.3,167.4 150.0,165.5 143.0,165.1 137.6,165.3 128.3,166.5 121.6,166.7 114.3,166.5 102.9,165.1 79.6,165.2 59.9,167.4 51.5,170.9 48.2,171.7 32.5,172.1M62.0,33.9 61.8,55.3 61.0,58.6 59.2,61.2 51.9,66.3 48.5,67.3 44.9,66.8 38.2,63.8 32.5,63.2M269.5,63.3 265.2,62.6 261.8,60.3 259.2,56.0 258.2,50.6 259.0,46.9 261.5,43.8 264.8,41.8 269.5,41.2M118.0,68.0 115.6,67.4 114.1,65.3 112.8,60.3 113.4,57.3 114.9,55.3 119.3,52.0 123.3,48.2 126.0,47.3 128.6,47.8 130.3,49.4 131.2,51.9 131.2,56.6 130.3,60.0 128.2,62.3 124.0,64.5 119.9,67.3 118.0,68.0M32.5,98.3 37.8,98.6 41.8,99.8 45.1,102.1 46.4,105.1 45.4,107.4 42.6,109.1 38.2,110.2 32.5,110.5M188.1,124.5 186.0,124.6 184.4,124.0 181.7,121.1 181.2,119.5 181.5,117.8 184.0,115.5 189.1,114.7 207.1,115.5 213.8,116.7 215.4,117.4 216.1,118.5 216.1,119.5 215.4,120.3 212.1,121.6 206.7,122.3 195.1,122.7 188.1,124.5M71.9,145.5 67.2,145.5 62.9,143.7 57.9,140.2 51.5,133.2 48.9,131.7 42.4,129.1 41.1,128.1 40.9,127.5 42.8,126.2 46.7,125.5 54.2,125.0 59.2,125.4 69.2,128.5 80.7,134.5 82.3,136.2 83.2,138.2 83.1,140.2 82.2,141.9 78.9,144.1 71.9,145.5M269.5,134.7 264.2,135.2 257.5,138.5 254.1,138.9 252.1,138.2 250.3,136.5 249.1,134.2 248.6,131.5 248.9,129.8 249.7,128.5 253.1,126.8 257.5,126.4 269.5,126.4M125.6,161.6 118.3,161.7 116.0,161.2 114.1,160.2 109.6,153.9 104.9,150.9 103.6,149.5 102.9,146.9 103.8,144.5 105.3,143.4 107.3,142.7 115.6,142.1 125.6,140.3 132.0,141.0 137.0,143.3 138.6,144.9 139.5,146.5 139.7,148.2 139.1,149.9 133.6,154.7 129.6,159.9 128.0,160.9 125.6,161.6M234.1,171.6 224.1,171.4 212.4,169.2 186.0,168.8 183.0,167.6 179.0,163.9 176.7,162.6 167.4,161.6 164.8,160.9 163.0,159.2 162.6,156.9 164.4,154.2 167.0,153.2 176.0,154.4 186.0,152.8 195.7,154.4 210.4,154.5 215.1,154.2 224.8,152.2 235.5,152.2 241.1,153.2 246.8,155.4 252.1,160.4 256.6,163.2 257.8,164.9 257.4,166.9 254.8,168.5 245.8,169.4 238.5,171.1 234.1,171.6M32.5,162.2 38.5,161.4 44.2,157.9 46.9,156.8 65.2,153.0 67.2,153.0 68.9,153.5 70.1,154.5 70.8,156.2 70.4,158.9 68.6,160.7 65.9,161.6 58.9,162.0 56.2,162.6 54.0,163.9 50.5,167.3 48.2,168.4 44.2,169.0 32.5,168.9M56.7,33.9 56.6,53.6 56.1,56.0 55.0,57.6 48.9,61.7 47.2,62.2 40.2,58.8 32.5,58.1M269.5,59.2 266.2,58.7 263.5,57.1 261.2,53.6 260.4,49.9 261.2,47.1 263.1,44.9 265.8,43.8 269.5,43.4M32.5,99.7 37.2,100.0 40.2,101.1 42.7,103.1 43.7,105.4 42.8,107.1 40.5,108.4 37.2,109.2 32.5,109.5M188.4,123.2 185.4,123.0 183.0,121.1 182.5,118.5 184.0,116.4 186.0,115.7 188.7,115.4 205.1,116.0 211.1,116.9 213.7,118.5 213.0,119.8 209.1,121.0 195.1,121.8 188.4,123.2M71.9,143.5 67.2,143.7 62.9,142.1 59.5,139.5 53.6,133.5 46.6,129.1 45.7,127.8 47.1,126.8 51.9,125.9 55.9,125.7 59.5,126.1 68.7,129.5 79.4,135.5 80.8,138.2 79.9,140.6 77.2,142.3 71.9,143.5M269.5,132.5 263.5,133.0 257.1,135.4 255.1,135.7 253.8,135.3 252.4,134.2 251.4,132.5 251.1,130.8 252.0,128.8 254.8,127.6 269.5,127.4M125.0,157.2 120.6,157.2 117.5,155.9 114.5,150.9 113.9,149.2 114.0,148.2 118.6,144.9 123.1,142.8 127.3,142.4 131.4,143.5 134.4,145.9 134.9,147.2 134.5,148.9 129.0,155.0 127.0,156.5 125.0,157.2M233.1,170.3 226.8,170.2 222.8,169.7 214.4,166.1 211.4,165.3 188.7,164.8 187.1,164.2 185.7,163.0 184.4,160.9 184.1,159.2 185.2,158.2 187.4,157.9 197.1,158.5 211.4,158.4 214.1,157.7 221.4,154.4 227.1,153.4 237.1,153.9 240.4,154.9 243.3,156.6 245.0,158.2 246.3,160.6 247.1,163.2 246.8,164.9 244.7,166.6 240.2,168.9 236.8,169.9 233.1,170.3M269.5,53.2 265.8,52.3 264.5,50.9 264.2,49.6 264.7,48.3 265.8,47.3 269.5,46.5M32.5,103.4 36.2,104.0 37.6,105.4 36.2,106.6 32.5,107.1M190.1,121.2 187.4,121.4 185.7,121.0 184.6,119.8 184.7,118.1 186.4,116.9 189.7,116.5 204.4,117.3 206.8,117.8 207.9,118.5 207.5,119.1 205.1,119.8 195.7,120.2 190.1,121.2M70.2,141.5 66.5,141.5 63.2,140.0 58.5,134.8 52.4,130.1 51.6,129.1 51.7,128.1 52.9,127.4 55.2,126.9 59.8,127.5 69.9,132.2 75.9,136.2 76.7,137.8 76.1,139.2 73.9,140.5 70.2,141.5M127.0,149.9 125.6,150.1 124.3,149.5 123.8,148.2 124.6,146.9 126.6,146.4 128.1,147.2 128.3,148.5 127.0,149.9M232.8,167.9 225.8,167.7 222.1,166.1 221.0,164.6 220.5,162.2 220.7,159.9 221.8,157.9 224.7,156.2 229.1,155.7 234.8,156.0 238.3,157.6 239.3,158.9 239.9,160.9 239.9,163.2 239.3,164.9 237.1,166.9 232.8,167.9M189.7,119.2 188.4,119.3 187.7,118.8 188.7,118.3 190.4,118.5 190.6,118.8 189.7,119.2M69.6,139.9 66.9,139.9 64.5,138.8 62.9,136.8 61.2,132.9 56.2,130.6 55.3,129.5 55.5,128.8 56.9,128.4 58.8,128.8 62.2,131.7 67.9,133.1 71.0,134.8 72.6,136.5 72.8,137.8 71.6,139.2 69.6,139.9M232.4,163.9 229.8,164.2 227.4,163.7 226.4,162.6 226.5,160.9 227.4,160.0 228.8,159.5 232.8,159.9 233.8,160.7 234.1,161.9 233.6,163.2 232.4,163.9"/>
<ellipse cx="219" cy="105" rx="19" ry="1.5" fill="#30d0b0" opacity="0.85"/>
<text x="22.7" y="41.8" font-size="7.5" text-anchor="middle" font-weight="normal" fill="#000" transform="rotate(-90 22.7 41.8)">75</text>
<text x="22.7" y="66.6" font-size="7.5" text-anchor="middle" font-weight="normal" fill="#000" transform="rotate(-90 22.7 66.6)">60</text>
<text x="22.7" y="85.4" font-size="7.5" text-anchor="middle" font-weight="normal" fill="#000" transform="rotate(-90 22.7 85.4)">45</text>
<text x="22.7" y="96.2" font-size="7.5" text-anchor="middle" font-weight="normal" fill="#000" transform="rotate(-90 22.7 96.2)">30</text>
<text x="22.7" y="107.5" font-size="7.5" text-anchor="middle" font-weight="normal" fill="#000" transform="rotate(-90 22.7 107.5)">15</text>
<text x="22.7" y="116.9" font-size="7.5" text-anchor="middle" font-weight="normal" fill="#000" transform="rotate(-90 22.7 116.9)">0</text>
<text x="22.7" y="126.5" font-size="7.5" text-anchor="middle" font-weight="normal" fill="#000" transform="rotate(-90 22.7 126.5)">-15</text>
<text x="22.7" y="138.3" font-size="7.5" text-anchor="middle" font-weight="normal" fill="#000" transform="rotate(-90 22.7 138.3)">-30</text>
<text x="22.7" y="154.4" font-size="7.5" text-anchor="middle" font-weight="normal" fill="#000" transform="rotate(-90 22.7 154.4)">-45</text>
<text x="22.7" y="172.4" font-size="7.5" text-anchor="middle" font-weight="normal" fill="#000" transform="rotate(-90 22.7 172.4)">-60</text>
<text x="22.7" y="198.1" font-size="7.5" text-anchor="middle" font-weight="normal" fill="#000" transform="rotate(-90 22.7 198.1)">-75</text>
<text x="13" y="114.2" font-size="10" text-anchor="middle" font-weight="normal" fill="#000" transform="rotate(-90 13 114.2)">Latitude</text>
<text x="32" y="223" font-size="7.5" text-anchor="middle" font-weight="normal" fill="#000">-180</text>
<text x="52.6" y="223" font-size="7.5" text-anchor="middle" font-weight="normal" fill="#000">-150</text>
<text x="72.5" y="223" font-size="7.5" text-anchor="middle" font-weight="normal" fill="#000">-120</text>
<text x="91" y="223" font-size="7.5" text-anchor="middle" font-weight="normal" fill="#000">-90</text>
<text x="110.5" y="223" font-size="7.5" text-anchor="middle" font-weight="normal" fill="#000">-60</text>
<text x="130" y="223" font-size="7.5" text-anchor="middle" font-weight="normal" fill="#000">-30</text>
<text x="152.7" y="223" font-size="7.5" text-anchor="middle" font-weight="normal" fill="#000">0</text>
<text x="173" y="223" font-size="7.5" text-anchor="middle" font-weight="normal" fill="#000">30</text>
<text x="193.8" y="223" font-size="7.5" text-anchor="middle" font-weight="normal" fill="#000">60</text>
<text x="213" y="223" font-size="7.5" text-anchor="middle" font-weight="normal" fill="#000">90</text>
<text x="232.7" y="223" font-size="7.5" text-anchor="middle" font-weight="normal" fill="#000">120</text>
<text x="253.5" y="223" font-size="7.5" text-anchor="middle" font-weight="normal" fill="#000">150</text>
<text x="271.3" y="223" font-size="7.5" text-anchor="middle" font-weight="normal" fill="#000">180</text>
<text x="151.2" y="232.4" font-size="10" text-anchor="middle" font-weight="normal" fill="#000">Longitude</text>
<rect x="33.5" y="236" width="234.5" height="8.5" fill="#000"/>
<rect x="35.70" y="236" width="3.28" height="8.5" fill="#7a00e2"/>
<rect x="38.68" y="236" width="3.28" height="8.5" fill="#6a00e7"/>
<rect x="41.66" y="236" width="3.28" height="8.5" fill="#5a00ed"/>
<rect x="44.63" y="236" width="3.28" height="8.5" fill="#4800f2"/>
<rect x="47.61" y="236" width="3.28" height="8.5" fill="#3400f9"/>
<rect x="50.59" y="236" width="3.28" height="8.5" fill="#2000ff"/>
<rect x="53.57" y="236" width="3.28" height="8.5" fill="#1000ff"/>
<rect x="56.55" y="236" width="3.28" height="8.5" fill="#0000ff"/>
<rect x="59.53" y="236" width="3.28" height="8.5" fill="#0000ef"/>
<rect x="62.50" y="236" width="3.28" height="8.5" fill="#0000e0"/>
<rect x="65.48" y="236" width="3.28" height="8.5" fill="#0047f7"/>
<rect x="68.46" y="236" width="3.28" height="8.5" fill="#009eff"/>
<rect x="71.44" y="236" width="3.28" height="8.5" fill="#00fdff"/>
<rect x="74.42" y="236" width="3.28" height="8.5" fill="#00ffc8"/>
<rect x="77.39" y="236" width="3.28" height="8.5" fill="#00ff8b"/>
<rect x="80.37" y="236" width="3.28" height="8.5" fill="#00ff43"/>
<rect x="83.35" y="236" width="3.28" height="8.5" fill="#00f62e"/>
<rect x="86.33" y="236" width="3.28" height="8.5" fill="#02ee1e"/>
<rect x="89.31" y="236" width="3.28" height="8.5" fill="#08e818"/>
<rect x="92.29" y="236" width="3.28" height="8.5" fill="#0ee212"/>
<rect x="95.26" y="236" width="3.28" height="8.5" fill="#1ce20c"/>
<rect x="98.24" y="236" width="3.28" height="8.5" fill="#30e505"/>
<rect x="101.22" y="236" width="3.28" height="8.5" fill="#48e900"/>
<rect x="104.20" y="236" width="3.28" height="8.5" fill="#67ed00"/>
<rect x="107.18" y="236" width="3.28" height="8.5" fill="#8bf000"/>
<rect x="110.16" y="236" width="3.28" height="8.5" fill="#baf000"/>
<rect x="113.13" y="236" width="3.28" height="8.5" fill="#dcf700"/>
<rect x="116.11" y="236" width="3.28" height="8.5" fill="#fbfe00"/>
<rect x="119.09" y="236" width="3.28" height="8.5" fill="#fff200"/>
<rect x="122.07" y="236" width="3.28" height="8.5" fill="#ffe200"/>
<rect x="125.05" y="236" width="3.28" height="8.5" fill="#ffd400"/>
<rect x="128.02" y="236" width="3.28" height="8.5" fill="#ffc600"/>
<rect x="131.00" y="236" width="3.28" height="8.5" fill="#ffba00"/>
<rect x="133.98" y="236" width="3.28" height="8.5" fill="#ffae00"/>
<rect x="136.96" y="236" width="3.28" height="8.5" fill="#ffa000"/>
<rect x="139.94" y="236" width="3.28" height="8.5" fill="#ff9300"/>
<rect x="142.92" y="236" width="3.28" height="8.5" fill="#ff8900"/>
<rect x="145.89" y="236" width="3.28" height="8.5" fill="#ff8000"/>
<rect x="148.87" y="236" width="3.28" height="8.5" fill="#ff7700"/>
<rect x="151.85" y="236" width="3.28" height="8.5" fill="#ff7000"/>
<rect x="154.83" y="236" width="3.28" height="8.5" fill="#ff6900"/>
<rect x="157.81" y="236" width="3.28" height="8.5" fill="#ff6200"/>
<rect x="160.78" y="236" width="3.28" height="8.5" fill="#ff5900"/>
<rect x="163.76" y="236" width="3.28" height="8.5" fill="#ff4f00"/>
<rect x="166.74" y="236" width="3.28" height="8.5" fill="#ff4600"/>
<rect x="169.72" y="236" width="3.28" height="8.5" fill="#ff3d00"/>
<rect x="172.70" y="236" width="3.28" height="8.5" fill="#ff3500"/>
<rect x="175.68" y="236" width="3.28" height="8.5" fill="#ff2d00"/>
<rect x="178.65" y="236" width="3.28" height="8.5" fill="#ff2500"/>
<rect x="181.63" y="236" width="3.28" height="8.5" fill="#ff1d00"/>
<rect x="184.61" y="236" width="3.28" height="8.5" fill="#ff1600"/>
<rect x="187.59" y="236" width="3.28" height="8.5" fill="#ff0f00"/>
<rect x="190.57" y="236" width="3.28" height="8.5" fill="#ff0700"/>
<rect x="193.54" y="236" width="3.28" height="8.5" fill="#ff0000"/>
<rect x="196.52" y="236" width="3.28" height="8.5" fill="#fd0000"/>
<rect x="199.50" y="236" width="3.28" height="8.5" fill="#fb0000"/>
<rect x="202.48" y="236" width="3.28" height="8.5" fill="#f90000"/>
<rect x="205.46" y="236" width="3.28" height="8.5" fill="#f70000"/>
<rect x="208.44" y="236" width="3.28" height="8.5" fill="#f50000"/>
<rect x="211.41" y="236" width="3.28" height="8.5" fill="#f20000"/>
<rect x="214.39" y="236" width="3.28" height="8.5" fill="#f00000"/>
<rect x="217.37" y="236" width="3.28" height="8.5" fill="#ed0000"/>
<rect x="220.35" y="236" width="3.28" height="8.5" fill="#eb0000"/>
<rect x="223.33" y="236" width="3.28" height="8.5" fill="#e80000"/>
<rect x="226.31" y="236" width="3.28" height="8.5" fill="#e40000"/>
<rect x="229.28" y="236" width="3.28" height="8.5" fill="#e00000"/>
<rect x="232.26" y="236" width="3.28" height="8.5" fill="#dc0000"/>
<rect x="235.24" y="236" width="3.28" height="8.5" fill="#d70000"/>
<rect x="238.22" y="236" width="3.28" height="8.5" fill="#d30000"/>
<rect x="241.20" y="236" width="3.28" height="8.5" fill="#cf0000"/>
<rect x="244.17" y="236" width="3.28" height="8.5" fill="#c90000"/>
<rect x="247.15" y="236" width="3.28" height="8.5" fill="#c40000"/>
<rect x="250.13" y="236" width="3.28" height="8.5" fill="#be0000"/>
<rect x="253.11" y="236" width="3.28" height="8.5" fill="#b90000"/>
<rect x="256.09" y="236" width="3.28" height="8.5" fill="#b20000"/>
<rect x="259.07" y="236" width="3.28" height="8.5" fill="#ab0000"/>
<rect x="262.04" y="236" width="3.28" height="8.5" fill="#a40000"/>
<rect x="265.02" y="236" width="3.28" height="8.5" fill="#a00000"/>
<text x="44.4" y="254.3" font-size="7.5" text-anchor="middle" font-weight="normal" fill="#000">&#8722;16</text>
<text x="65.2" y="254.3" font-size="7.5" text-anchor="middle" font-weight="normal" fill="#000">&#8722;12</text>
<text x="86.3" y="254.3" font-size="7.5" text-anchor="middle" font-weight="normal" fill="#000">&#8722;8</text>
<text x="106.3" y="254.3" font-size="7.5" text-anchor="middle" font-weight="normal" fill="#000">&#8722;4</text>
<text x="127" y="254.3" font-size="7.5" text-anchor="middle" font-weight="normal" fill="#000">0</text>
<text x="148" y="254.3" font-size="7.5" text-anchor="middle" font-weight="normal" fill="#000">4</text>
<text x="169" y="254.3" font-size="7.5" text-anchor="middle" font-weight="normal" fill="#000">8</text>
<text x="189" y="254.3" font-size="7.5" text-anchor="middle" font-weight="normal" fill="#000">12</text>
<text x="210" y="254.3" font-size="7.5" text-anchor="middle" font-weight="normal" fill="#000">16</text>
<text x="232.7" y="254.3" font-size="7.5" text-anchor="middle" font-weight="normal" fill="#000">20</text>
<text x="255" y="254.3" font-size="7.5" text-anchor="middle" font-weight="normal" fill="#000">24</text>
<text x="293.6" y="14.8" font-size="10.3" text-anchor="start" font-weight="bold" fill="#000">(b)</text>
<text x="390" y="15" font-size="10.3" text-anchor="start" font-weight="bold" fill="#000">dTOC,</text>
<text x="427.5" y="15" font-size="10.3" text-anchor="start" font-weight="bold" fill="#000">%</text>
<text x="452.8" y="15" font-size="10.3" text-anchor="start" font-weight="bold" fill="#000">100 hPa</text>
<rect x="301.5" y="22.5" width="241.0" height="190.0" fill="#fff" stroke="#c8c8c8" stroke-width="1"/>
<rect x="303.5" y="24.5" width="239.0" height="186.0" fill="#fff" stroke="#d8d8d8" stroke-width="0.8"/>
<rect x="304.00" y="33.90" width="237.50" height="167.10" fill="#10ec14"/>
<path fill-rule="evenodd" fill="#50ec00" d="M378.8,98.7 378.8,98.1 379.8,97.1 383.5,95.7 395.9,89.0 400.2,88.0 409.9,88.4 416.6,92.1 420.6,92.7 422.2,93.7 422.2,95.7 421.6,97.1 419.6,99.1 417.9,99.7 394.5,99.4 390.5,100.1 382.2,100.1 379.5,99.4ZM461.3,80.0 460.3,86.4 459.0,90.0 451.6,97.4 449.3,98.7 441.0,100.1 436.6,99.7 434.6,98.7 429.6,94.1 426.3,93.1 424.6,93.1 423.3,92.1 423.6,89.7 425.3,86.7 433.6,79.4 437.9,77.0 446.0,75.7 456.0,75.7 459.3,77.0 460.7,78.3ZM304.0,33.9 304.0,77.7 315.0,78.0 318.4,78.7 320.4,79.7 324.7,84.0 327.4,85.4 333.1,87.0 340.1,88.4 348.4,93.1 357.1,95.7 359.1,97.4 359.1,98.4 357.4,99.7 347.4,100.4 340.7,102.1 336.4,102.1 330.7,100.7 326.0,98.7 321.7,94.4 319.4,93.1 313.0,91.0 304.0,90.4 304.0,191.3 335.7,191.3 340.4,192.0 346.8,193.6 376.8,194.0 380.5,195.3 382.2,197.0 383.2,199.0 383.2,201.0 412.9,201.0 413.9,198.3 415.2,197.0 419.2,195.7 449.0,195.7 454.7,195.0 541.5,195.0 541.5,33.9 512.1,33.9 511.8,38.9 510.1,44.6 508.8,53.3 508.8,58.0 508.4,58.3 508.8,58.6 509.1,66.0 510.1,70.3 511.4,72.7 512.8,74.0 517.1,76.7 518.8,78.7 520.8,84.4 520.8,88.4 520.1,89.7 517.8,92.1 514.4,94.1 511.4,97.1 509.1,98.4 507.1,98.7 505.1,98.4 502.8,97.1 496.1,90.4 495.7,87.0 496.7,85.0 500.7,80.4 501.1,77.0 500.4,75.3 498.1,72.7 496.1,69.0 494.4,56.3 492.4,48.9 490.7,45.9 486.0,40.9 484.7,37.2 484.7,33.9Z"/>
<path fill-rule="evenodd" fill="#98f000" d="M304.0,33.9 304.0,75.0 311.7,75.0 319.7,76.0 323.7,77.7 331.7,83.0 335.4,84.4 339.7,85.0 353.1,88.7 358.8,91.0 366.5,95.4 368.1,95.7 370.8,95.4 373.8,94.1 380.8,92.1 387.5,88.4 395.2,86.0 404.2,85.0 418.2,85.7 421.2,84.4 427.6,78.0 436.6,73.7 447.6,71.0 458.3,71.3 465.0,74.3 468.7,78.0 468.7,81.0 465.7,86.4 463.0,97.1 461.7,99.7 459.7,101.7 457.3,102.7 446.6,103.1 439.3,104.8 434.3,104.8 430.3,103.7 425.3,103.7 421.2,104.8 416.6,104.8 409.2,103.1 396.9,103.1 387.5,105.1 376.8,105.1 371.1,103.7 367.5,103.4 360.1,105.1 348.1,105.4 340.1,108.1 337.1,108.1 324.4,103.4 320.0,101.1 316.4,99.7 311.0,96.4 309.0,95.7 304.0,95.4 304.0,185.6 337.7,185.6 348.4,189.0 377.5,189.3 381.2,190.3 388.5,193.6 397.5,195.0 405.5,195.0 416.2,192.6 450.6,192.3 457.0,191.3 541.5,191.3 541.5,33.9 519.5,33.9 519.1,38.9 514.8,46.9 512.4,55.6 512.8,63.0 514.1,67.3 515.4,69.7 523.1,77.3 525.5,81.0 529.5,85.4 530.5,87.0 530.8,88.7 530.1,90.7 528.1,92.7 525.8,94.1 519.1,101.1 516.8,102.4 513.4,103.1 497.4,102.7 494.4,101.4 492.1,98.1 490.1,90.7 490.4,86.7 493.7,78.7 493.7,76.3 492.4,71.3 492.1,67.3 489.1,56.0 485.0,49.6 480.7,40.9 479.7,37.2 479.7,33.9Z"/>
<path fill-rule="evenodd" fill="#d0f400" d="M524.5,33.9 524.5,36.2 523.8,38.9 519.1,47.6 516.1,55.6 515.8,60.0 516.8,63.3 520.1,70.0 523.5,73.7 526.8,76.0 529.8,77.3 536.2,82.0 539.8,83.0 541.5,83.0 541.5,33.9ZM304.0,33.9 304.0,73.0 310.3,73.0 320.7,74.3 328.7,77.7 333.4,81.0 336.1,82.4 357.8,86.7 366.5,91.7 367.8,92.1 371.8,91.7 378.2,89.7 386.8,86.0 389.8,85.7 396.2,84.0 405.9,83.0 417.2,82.7 420.6,81.0 424.3,77.0 427.6,75.0 430.9,74.0 440.0,69.3 445.0,67.7 449.0,67.0 457.0,66.7 460.3,67.3 462.7,68.3 469.3,72.3 472.7,75.7 474.4,79.0 474.0,84.4 470.7,91.4 469.3,97.1 469.3,99.4 470.7,104.8 470.7,107.1 469.0,109.1 466.3,110.1 457.7,110.1 455.0,109.4 449.6,107.1 445.6,107.1 441.0,108.8 437.3,109.4 418.9,109.4 415.2,108.8 412.2,107.4 408.2,106.4 397.9,106.4 389.5,109.1 387.2,109.4 365.5,109.4 362.1,110.1 347.4,109.8 342.1,111.1 335.1,111.1 327.7,109.4 318.0,105.4 310.0,103.4 304.0,103.1 304.0,182.6 336.7,182.6 341.4,183.3 349.1,185.3 376.2,185.3 380.5,186.0 390.8,190.0 398.2,191.3 407.9,191.3 420.6,190.0 449.3,190.0 457.7,188.3 541.5,188.3 541.5,103.1 527.8,103.4 524.8,105.1 522.5,108.1 519.8,110.8 518.5,111.4 515.8,111.1 510.8,107.8 508.8,107.1 504.4,107.1 498.1,109.1 488.7,109.1 485.0,107.8 484.0,106.1 485.0,101.1 485.0,95.1 483.7,91.0 483.0,87.0 484.0,84.7 487.4,81.4 489.1,77.3 488.7,69.0 488.1,66.0 484.4,56.0 478.4,45.9 473.7,40.2 472.4,36.6 472.4,33.9Z"/>
<path fill-rule="evenodd" fill="#fff000" d="M318.4,136.2 319.4,135.2 322.0,134.2 329.7,133.8 331.7,134.5 333.4,136.2 333.4,137.8 332.1,139.5 330.7,140.2 325.4,140.5 319.7,138.5 318.4,137.2ZM304.0,110.4 304.0,180.3 337.1,180.3 348.8,182.6 376.8,182.6 383.8,184.0 397.5,188.0 445.6,187.6 450.6,187.0 457.0,185.3 541.5,185.3 541.5,120.1 517.8,120.1 513.8,118.8 508.4,114.1 504.4,112.8 478.4,112.8 469.3,115.1 460.3,115.4 453.6,114.8 445.6,112.8 417.9,112.8 408.6,110.8 401.5,110.4 401.2,110.8 397.5,110.8 388.2,112.8 368.1,112.8 360.5,114.4 356.4,114.4 351.1,113.1 335.4,113.8 328.7,112.8 320.0,112.8 312.4,110.8ZM476.7,92.4 475.4,93.1 474.0,94.7 473.4,96.7 473.4,99.1 474.0,101.1 475.4,102.7 476.7,103.4 478.0,103.4 480.4,101.4 481.4,98.7 481.4,97.1 480.0,93.7 478.0,92.4ZM532.1,33.9 531.1,37.9 529.1,40.2 524.5,44.3 522.8,46.9 519.5,57.3 519.8,61.3 522.5,68.3 525.5,71.7 528.1,73.0 535.8,75.0 541.5,75.3 541.5,33.9ZM304.0,33.9 304.0,71.0 308.7,71.0 320.7,72.7 329.4,75.7 332.1,77.0 336.1,80.0 338.7,81.0 346.4,82.7 359.5,84.4 362.8,85.7 366.5,88.0 369.1,88.7 383.2,85.0 388.5,84.4 396.9,82.4 410.6,81.0 415.9,80.0 419.2,78.3 424.3,74.3 431.3,71.7 436.9,67.3 440.6,65.6 445.3,64.6 453.3,63.6 460.7,63.6 463.7,64.3 468.3,66.3 475.0,73.0 477.7,74.3 479.7,74.3 481.7,73.3 483.0,71.7 483.7,69.7 483.7,66.7 481.7,58.0 480.0,54.6 477.4,51.9 473.7,49.6 469.3,45.6 466.7,44.3 459.0,43.6 456.0,42.3 454.0,40.2 453.0,38.2 452.3,33.9Z"/>
<path fill-rule="evenodd" fill="#ffe000" d="M304.0,115.4 304.0,132.2 309.3,131.8 316.4,129.8 320.4,129.8 325.7,130.8 331.1,130.8 336.4,131.5 338.1,132.2 339.7,133.8 340.4,135.5 340.1,137.8 338.1,140.2 334.4,142.2 330.7,143.2 324.0,143.2 319.7,142.5 314.7,141.2 310.0,139.2 307.0,138.5 304.0,138.5 304.0,177.9 337.4,177.6 349.1,180.3 376.8,180.3 398.9,184.6 444.0,184.6 444.3,184.3 448.6,184.3 457.7,182.6 541.5,182.6 541.5,125.1 515.4,125.1 510.8,124.1 506.1,122.5 504.1,121.1 501.1,118.1 498.1,116.8 496.1,116.4 486.4,116.8 484.4,117.8 482.7,120.1 482.4,133.5 481.0,137.2 479.0,138.8 477.4,139.5 469.3,139.8 467.3,139.5 464.3,138.2 460.0,133.8 457.7,132.8 441.6,132.5 438.3,132.2 435.9,131.2 433.9,128.8 433.6,127.8 433.9,125.8 436.3,123.1 438.6,121.8 440.3,119.8 440.3,118.8 439.0,117.4 436.9,116.8 416.9,116.4 409.9,115.4 396.2,115.4 389.2,116.4 368.1,117.1 366.5,117.8 364.8,119.5 364.1,122.1 364.8,122.5 377.2,122.5 379.8,123.5 381.8,125.8 381.8,127.8 380.2,130.1 378.5,131.2 374.8,131.2 369.5,129.8 365.8,128.1 364.1,125.8 363.5,122.8 359.1,122.5 356.8,121.8 352.1,118.1 348.8,116.8 338.4,117.1 338.1,116.8 328.7,116.4 324.0,118.1 320.0,121.1 317.4,121.5 315.4,120.5 311.7,116.8 308.0,115.4ZM541.5,41.3 536.2,41.9 529.8,44.9 526.5,47.6 524.5,51.3 522.8,56.3 522.8,60.6 525.5,67.0 528.5,69.3 533.8,70.3 541.5,70.7ZM304.0,33.9 304.0,68.3 311.3,69.0 321.7,71.3 325.7,73.0 331.1,74.3 338.1,78.3 346.4,80.7 360.5,82.0 368.8,84.7 379.2,84.0 389.8,82.7 395.9,81.0 407.9,79.0 414.2,77.3 424.6,72.0 429.9,70.0 436.9,64.0 441.3,62.6 452.0,61.3 457.7,59.6 462.0,59.6 468.0,60.6 471.7,62.3 476.0,67.0 477.7,67.3 478.4,66.3 478.0,59.6 475.7,56.6 467.0,54.0 459.7,53.6 455.7,51.9 444.3,40.6 443.0,37.6 442.6,33.9Z"/>
<path fill-rule="evenodd" fill="#ffc800" d="M304.0,142.5 304.0,175.3 320.7,174.6 329.4,173.6 336.4,173.6 341.7,174.6 346.1,176.6 349.1,177.3 377.5,177.6 387.8,180.3 400.2,181.6 444.3,181.6 457.0,180.3 541.5,180.3 541.5,139.8 526.8,139.8 516.1,142.2 491.1,142.2 490.7,142.5 487.4,142.5 478.4,144.5 466.3,144.5 457.3,142.5 448.3,142.2 440.0,140.2 427.3,139.8 420.6,138.8 408.6,138.5 405.5,137.5 400.9,133.8 397.2,132.5 388.8,132.8 386.2,134.2 381.8,137.8 378.8,139.2 375.1,138.8 371.5,136.5 367.1,134.8 365.8,134.8 358.8,132.8 351.4,132.5 349.8,132.8 347.4,134.5 345.1,140.5 342.7,143.2 337.1,145.2 330.1,146.2 326.7,146.2 318.0,145.2 309.0,142.5ZM541.5,46.6 538.2,46.6 534.5,47.9 528.5,54.0 526.8,57.3 526.8,59.3 527.5,61.0 528.8,62.3 530.5,63.0 541.5,63.3ZM304.0,43.9 304.0,63.0 309.7,64.0 316.4,67.7 320.7,69.0 325.7,71.3 332.7,73.0 338.7,75.7 349.1,78.3 360.5,78.7 375.1,81.7 386.2,81.7 390.8,81.0 416.6,73.3 427.9,68.3 436.9,60.6 440.6,59.3 447.0,58.3 448.6,57.0 448.6,55.6 443.6,50.9 441.6,47.6 436.6,41.6 435.3,38.2 434.9,33.9 370.8,33.9 370.8,38.2 368.8,48.9 367.8,50.9 365.8,52.9 364.8,53.3 360.5,53.3 359.1,52.6 357.1,50.6 356.1,48.6 353.8,39.2 353.4,33.9 314.0,33.9 313.7,37.2 312.0,40.6 308.3,43.3Z"/>
<path fill-rule="evenodd" fill="#ffb000" d="M304.0,145.5 304.0,172.6 314.4,172.3 321.4,171.3 329.4,169.3 340.1,169.3 348.8,171.3 367.8,171.6 379.8,174.3 387.2,177.3 395.5,178.3 447.6,178.3 454.0,177.6 541.5,177.6 541.5,144.9 536.5,144.9 536.2,144.5 526.5,144.9 520.1,147.2 513.8,148.2 502.4,148.2 502.1,148.5 494.4,148.5 494.1,148.9 465.7,148.9 461.0,148.2 447.3,147.9 438.3,144.9 428.3,144.5 418.9,142.5 407.6,142.2 399.2,139.5 393.9,139.2 387.2,140.5 380.5,143.9 378.2,144.5 374.5,146.5 370.5,150.9 368.1,151.9 365.8,152.2 358.4,151.9 350.8,149.9 328.1,149.9 317.4,148.2 309.7,145.9ZM315.4,47.6 314.0,51.3 314.0,56.0 314.7,58.3 316.0,60.6 322.4,67.0 324.7,68.7 328.7,70.3 337.1,72.3 342.1,73.0 349.4,72.3 352.1,70.3 353.1,68.0 353.4,65.6 353.1,58.3 350.4,47.6 349.1,45.3 347.1,43.6 342.7,41.9 336.4,41.6 328.4,43.6 319.7,44.3 317.7,45.3ZM370.1,70.7 371.1,74.0 372.1,75.7 373.8,77.3 375.8,78.3 382.2,79.7 389.2,79.7 392.5,78.7 395.9,77.0 412.6,71.7 417.6,69.7 428.3,64.3 432.6,60.3 434.9,55.6 434.6,48.6 430.3,38.6 429.9,33.9 422.9,33.9 422.9,35.2 421.9,37.9 419.6,39.9 415.9,39.6 413.9,37.6 412.9,33.9 375.8,33.9 375.5,38.2 372.8,45.3 371.5,53.3 369.8,59.6Z"/>
<path fill-rule="evenodd" fill="#ff9c00" d="M304.0,170.3 310.0,170.3 320.4,167.9 324.4,165.9 328.4,162.9 331.1,161.9 348.8,161.2 351.1,159.6 351.4,157.6 350.4,156.2 348.1,155.2 331.7,154.9 320.4,151.2 314.7,150.5 309.3,149.2 304.0,149.2ZM375.1,164.9 375.1,165.9 376.8,168.2 383.2,171.6 387.2,173.3 395.2,174.6 411.2,174.6 411.6,174.3 421.9,173.9 422.2,173.6 476.7,173.6 485.7,174.6 528.5,174.6 528.8,174.3 541.5,173.6 541.5,149.9 525.8,149.2 518.1,150.9 508.1,150.9 496.7,152.2 467.3,152.2 456.3,150.9 446.3,150.9 436.3,148.9 427.9,148.9 424.6,148.2 418.9,146.2 408.2,145.5 400.9,143.2 394.9,142.8 387.8,144.9 384.8,146.5 382.5,148.9 380.5,152.9 379.2,158.9ZM341.4,48.3 338.7,47.3 336.7,47.6 335.4,48.3 330.7,52.6 327.4,54.3 325.4,56.3 324.7,58.6 325.0,61.3 326.0,64.3 328.4,67.0 334.7,68.7 339.7,68.7 342.1,67.3 342.7,66.3 343.4,63.3 343.4,53.6 342.7,50.3ZM373.8,69.3 375.1,72.3 377.2,74.3 380.5,76.0 384.8,77.3 389.2,77.3 394.5,75.0 401.5,73.0 410.6,68.7 418.6,63.0 424.9,61.0 427.6,59.6 429.3,57.6 429.9,55.3 429.9,50.6 429.3,47.9 426.6,45.3 418.6,45.9 415.9,45.3 409.9,42.3 406.9,41.3 396.9,39.6 393.9,37.2 392.9,33.9 383.5,33.9 382.5,37.9 376.8,43.6 375.1,46.9 373.5,57.6Z"/>
<path fill-rule="evenodd" fill="#ff8400" d="M304.0,167.6 309.3,167.2 312.0,166.6 320.7,162.9 323.4,160.6 324.4,157.9 323.7,156.2 322.4,154.9 318.7,153.5 309.0,152.2 304.0,152.2ZM383.5,157.6 383.8,165.2 386.5,168.2 392.5,170.6 399.2,171.6 410.2,171.3 416.2,169.6 421.2,168.9 425.6,168.9 425.9,169.3 475.0,168.9 485.0,171.3 488.7,171.3 489.1,171.6 525.5,171.6 530.8,170.9 536.8,169.3 541.5,168.9 541.5,154.5 537.2,154.5 529.5,152.5 523.5,152.5 520.1,153.2 513.1,153.2 512.8,153.5 505.4,153.5 496.4,155.5 469.7,155.9 459.0,153.5 444.3,153.2 437.9,152.2 418.9,152.2 408.2,149.9 401.2,146.9 397.2,146.2 393.5,147.2 387.8,150.2 386.2,151.5 384.5,153.9ZM409.6,47.3 403.9,44.9 393.9,43.3 390.8,42.3 386.8,42.3 380.8,45.3 378.5,47.6 377.2,52.3 376.8,65.3 378.2,69.3 380.8,71.7 386.2,74.0 389.5,74.0 399.2,71.3 402.9,69.3 410.6,61.0 412.6,57.0 412.9,54.6 412.6,51.3 411.9,49.6Z"/>
<path fill-rule="evenodd" fill="#ff6c00" d="M531.5,160.2 530.8,158.6 529.5,157.2 526.8,156.2 508.4,156.6 505.4,157.2 497.7,161.9 487.1,162.9 485.7,163.6 485.0,165.2 486.7,166.9 490.1,167.6 524.5,167.9 528.8,166.9 530.5,165.6 531.5,163.6ZM425.3,158.2 425.3,159.2 425.9,160.2 429.6,161.6 455.0,161.6 458.0,160.9 459.3,159.6 459.3,158.9 457.0,157.2 444.6,156.9 440.3,156.2 428.9,156.2 426.6,156.9ZM304.0,161.6 310.3,160.9 315.0,159.2 316.0,157.9 312.7,156.6 304.0,156.2ZM387.8,156.9 387.8,159.6 389.5,162.6 393.2,165.9 396.9,167.6 406.2,167.9 409.2,167.2 411.9,165.2 412.6,163.6 412.6,159.2 411.9,157.6 409.9,155.5 400.9,151.2 399.5,150.9 395.2,151.2 390.2,153.9ZM386.8,47.3 385.5,47.9 383.5,49.9 381.8,54.0 381.5,61.3 383.5,67.0 385.2,68.7 387.2,69.7 389.2,70.0 393.9,69.3 398.5,67.7 400.5,65.3 402.5,58.6 402.9,53.6 401.9,50.3 400.2,48.6 397.5,47.6 393.9,46.9Z"/>
<path fill-rule="evenodd" fill="#ff5000" d="M396.2,157.6 396.2,158.6 397.9,159.9 399.2,159.9 400.2,159.2 400.2,157.6 398.9,156.6 397.5,156.6ZM388.8,56.0 387.5,57.3 387.5,59.3 388.8,61.0 389.8,61.0 391.2,60.0 391.5,58.0 390.2,56.0Z"/>
<path fill="none" stroke="#000" stroke-opacity="0.6" stroke-width="0.5" d="M484.8,33.9 485.1,37.6 486.0,40.5 490.8,45.9 492.5,49.3 494.3,55.3 496.4,69.0 501.1,77.0 501.2,79.0 500.6,80.7 496.3,86.4 496.1,89.7 497.6,92.1 503.1,97.1 505.0,98.1 507.1,98.4 510.5,97.4 518.2,91.4 520.0,89.4 520.8,87.0 520.2,83.4 518.7,79.0 517.1,77.0 511.4,72.7 510.1,70.3 509.3,67.0 508.5,60.6 508.6,55.3 509.7,46.6 511.5,38.2 511.8,33.9M441.2,99.7 447.0,99.0 450.1,98.1 457.8,91.4 459.4,88.4 461.0,81.7 460.9,79.4 459.7,77.5 457.0,76.2 452.6,75.8 446.0,76.0 438.6,77.1 434.0,79.4 425.6,86.7 423.7,90.0 423.7,92.4 429.9,94.2 435.9,99.2 438.3,99.8 441.2,99.7M304.0,90.3 311.3,90.7 317.7,92.4 321.4,94.1 325.6,98.1 327.7,99.4 337.1,101.9 340.1,101.9 348.1,100.3 356.1,99.7 358.3,99.1 359.0,98.1 358.6,97.1 357.1,96.1 347.4,92.7 340.7,88.9 326.0,84.9 323.8,83.4 320.4,80.0 318.6,79.0 314.4,78.3 304.0,78.0M390.6,99.7 400.5,99.2 417.6,99.5 419.6,98.8 420.9,97.7 421.8,96.1 422.2,94.1 421.6,93.3 416.2,92.0 409.6,88.6 405.9,88.1 400.1,88.4 394.9,89.7 387.5,93.9 379.7,97.4 378.9,98.4 379.8,99.2 382.2,99.7 390.6,99.7M383.2,201.0 382.6,198.3 381.3,196.3 379.2,194.9 376.2,194.2 348.8,193.9 335.1,191.6 304.0,191.6M541.5,195.1 461.3,195.1 446.6,195.7 420.9,195.8 417.6,196.3 415.2,197.3 413.9,198.7 413.2,201.0M482.6,33.9 483.0,38.2 483.9,41.3 489.5,49.9 491.7,54.6 494.6,70.0 497.2,77.0 497.0,79.7 493.5,87.0 493.3,89.4 493.9,91.7 496.1,95.4 499.4,98.4 503.0,100.1 507.1,100.6 511.4,100.0 515.2,98.1 522.1,91.8 523.7,89.7 524.2,88.0 523.8,85.4 520.5,77.9 518.5,75.5 513.9,72.0 512.4,70.0 510.6,63.3 510.2,58.3 510.7,52.9 512.2,45.6 515.0,38.2 515.5,33.9M389.1,102.1 401.5,100.9 418.6,101.9 421.2,101.3 425.9,98.9 427.6,98.5 429.6,99.0 434.3,101.3 437.3,101.9 451.8,100.1 456.3,97.6 460.2,93.1 464.0,81.4 464.1,78.7 463.1,77.0 461.3,75.6 456.3,73.8 448.3,73.7 439.3,75.1 435.3,76.4 430.1,79.4 422.2,86.6 419.6,88.3 416.6,88.6 410.9,87.1 407.2,86.7 396.5,87.5 390.3,89.7 382.5,93.7 375.7,96.1 373.7,97.4 372.9,98.7 373.8,100.4 377.2,101.9 382.2,102.3 389.1,102.1M304.0,92.5 309.3,92.7 313.4,93.7 317.7,95.8 326.4,101.3 337.7,104.9 340.4,104.7 347.8,102.7 359.8,101.8 362.9,100.4 364.0,98.7 362.6,96.4 359.1,94.2 342.5,87.7 333.7,85.6 329.3,84.0 326.4,82.6 322.1,79.0 319.7,77.8 314.7,76.9 304.0,76.6M388.3,201.0 387.0,198.0 384.4,195.3 381.2,193.3 377.5,192.2 349.1,191.7 345.1,191.0 338.8,189.0 335.4,188.5 304.0,188.5M541.5,193.4 461.3,193.4 446.6,194.2 419.6,194.3 415.3,195.0 412.1,196.3 409.3,198.7 408.0,201.0M479.8,33.9 480.1,37.6 480.8,40.6 489.1,55.9 491.7,65.3 493.8,77.3 493.5,80.0 490.9,86.0 490.4,88.7 490.7,92.7 492.3,98.1 494.1,100.8 496.7,102.3 500.1,102.7 508.8,102.8 515.1,102.6 518.3,101.4 524.5,95.1 529.1,91.6 530.5,89.0 530.3,87.4 529.2,85.4 521.7,76.0 515.1,69.3 513.8,66.6 512.6,62.3 512.2,57.6 512.9,52.9 514.9,46.6 518.7,39.2 519.4,33.9M304.0,95.3 310.7,96.2 316.7,99.6 326.0,103.9 334.7,107.2 337.7,107.9 341.1,107.6 348.4,105.3 359.5,104.9 368.1,103.4 380.8,105.0 387.2,104.8 395.9,103.2 401.9,102.8 409.2,103.1 418.2,104.6 427.6,103.4 434.9,104.5 438.3,104.6 446.6,103.1 456.7,102.6 460.3,101.1 462.4,97.7 465.4,87.0 468.3,81.4 468.7,79.4 468.1,77.3 466.5,75.7 459.7,72.0 454.7,71.1 446.6,71.5 437.3,73.8 429.3,77.3 426.6,79.1 421.9,83.9 418.9,85.6 416.2,85.9 406.2,85.3 395.9,86.2 387.3,88.7 380.2,92.3 371.1,95.3 368.5,95.8 365.5,95.0 358.8,91.4 352.1,88.6 333.1,83.6 329.1,81.6 323.1,77.7 320.4,76.5 314.7,75.5 304.0,75.2M541.5,191.5 459.7,191.5 446.6,192.6 418.6,192.8 407.2,194.8 399.2,195.0 389.2,193.9 380.5,190.3 376.5,189.5 349.8,189.2 346.1,188.5 339.8,186.3 336.1,185.8 304.0,185.7M477.2,33.9 477.5,37.2 478.3,39.9 487.2,56.6 490.6,67.3 491.9,75.3 491.9,78.3 491.1,81.2 488.3,86.7 487.8,89.4 489.4,101.6 490.2,103.4 491.4,104.5 496.1,105.6 506.4,104.3 515.4,105.5 517.4,105.3 519.8,104.0 526.5,98.1 533.5,95.0 535.6,92.4 535.8,89.7 534.3,86.7 518.0,70.3 515.7,66.7 514.0,62.0 513.6,58.3 514.2,54.3 516.7,47.3 520.6,39.6 521.5,33.9M304.0,98.0 309.3,98.7 328.1,106.6 334.2,108.8 337.7,109.4 341.1,109.2 350.4,107.1 359.1,107.1 368.5,106.3 378.5,106.8 386.5,106.8 395.9,104.6 400.5,104.2 408.9,104.4 419.6,106.6 427.6,106.2 436.9,106.6 448.3,104.4 460.0,105.8 463.2,104.8 464.9,102.7 467.3,89.7 470.7,82.4 471.1,79.7 470.6,77.3 468.7,75.0 460.7,70.5 455.7,69.3 448.0,69.5 437.9,72.3 427.9,76.7 425.4,78.3 421.3,82.7 418.6,84.2 415.6,84.6 405.2,84.5 395.9,85.4 386.7,87.7 378.2,91.6 371.5,93.7 368.5,94.1 365.1,93.2 358.8,89.6 354.0,87.7 334.4,83.1 324.6,77.3 320.7,75.7 314.4,74.7 304.0,74.3M541.5,190.2 460.3,190.2 447.3,191.5 419.2,191.7 407.2,193.2 399.5,193.3 389.5,192.0 380.5,188.5 376.5,187.7 350.1,187.4 346.8,186.9 340.4,185.0 336.1,184.4 304.0,184.4M472.4,33.9 472.8,37.2 473.8,39.9 479.0,46.8 484.3,55.6 488.6,68.3 489.2,75.0 488.9,78.3 487.6,81.0 484.1,85.0 483.4,87.0 485.3,96.7 485.2,100.1 484.3,105.4 485.0,107.4 488.4,108.7 495.1,109.0 499.1,108.6 505.1,106.9 507.8,106.9 510.8,107.8 515.4,110.7 517.8,111.2 520.1,110.3 524.4,105.4 527.5,103.5 531.1,102.9 541.5,102.8M541.5,83.1 538.2,82.8 535.8,81.9 523.8,74.0 519.7,69.3 516.4,62.3 515.7,58.6 516.1,55.3 519.5,46.6 523.5,38.9 524.3,33.9M304.0,102.8 311.0,103.6 319.4,105.8 327.4,109.0 337.7,111.1 349.4,109.6 358.4,110.0 368.5,109.2 386.8,109.2 390.2,108.6 396.9,106.5 402.2,106.1 408.9,106.5 415.9,108.6 419.6,109.2 437.3,109.1 448.0,106.9 450.6,107.3 457.4,109.8 465.7,109.9 469.0,108.9 470.4,107.1 469.3,99.4 469.5,95.4 470.6,91.4 473.7,84.4 474.3,80.7 473.6,77.7 471.4,74.5 468.3,71.9 463.3,69.0 460.3,67.7 457.3,67.0 448.7,67.3 444.6,68.1 439.6,69.8 426.6,75.8 424.2,77.3 420.2,81.3 417.9,82.5 395.5,84.5 385.8,86.6 373.1,91.4 368.5,92.2 365.5,91.4 360.2,88.0 357.1,86.8 336.1,82.4 328.2,77.7 321.0,74.7 313.4,73.6 304.0,73.2M541.5,188.4 460.7,188.4 446.6,190.2 419.2,190.3 407.6,191.3 400.5,191.4 392.5,190.4 380.8,186.4 376.8,185.7 350.1,185.4 340.1,183.3 336.1,182.9 304.0,182.9M467.2,33.9 467.8,36.6 469.2,39.2 478.4,49.3 481.9,54.0 483.4,57.3 486.2,66.0 486.9,71.0 486.0,76.2 484.2,78.7 480.7,80.5 478.7,80.3 470.4,71.5 464.7,67.6 458.7,65.6 450.6,65.8 444.6,66.7 438.6,68.7 431.9,72.7 424.9,75.7 419.9,80.0 417.2,81.5 395.5,83.8 384.9,86.0 372.5,90.2 368.8,90.8 365.8,90.0 361.1,87.1 358.1,85.9 336.7,81.7 329.1,77.1 321.4,74.1 312.7,72.8 304.0,72.4M541.5,79.5 536.2,78.5 524.5,73.0 520.9,69.0 517.9,62.0 517.3,58.3 517.9,55.0 521.3,45.9 526.0,38.2 526.9,33.9M304.0,106.3 314.4,107.2 325.7,110.4 337.7,112.1 348.8,111.1 358.4,111.9 368.8,110.8 386.8,110.7 390.8,110.1 397.5,108.2 402.9,107.8 408.2,108.1 415.2,110.1 418.9,110.6 437.6,110.7 447.6,109.2 457.0,111.9 467.0,112.0 471.5,110.8 474.0,108.4 474.0,106.8 471.3,100.4 471.2,95.7 472.1,93.1 473.7,90.4 476.0,88.0 477.7,87.3 479.0,87.9 480.7,89.8 483.2,94.7 483.4,100.1 480.8,107.4 481.6,108.8 483.7,109.9 487.7,110.5 495.7,110.7 507.4,109.3 510.1,110.4 515.8,114.7 519.5,115.5 521.8,115.1 524.1,113.9 527.7,109.8 529.5,108.6 532.5,108.2 541.5,108.1M541.5,187.1 461.0,187.1 446.3,189.2 419.2,189.3 400.9,190.1 394.5,189.4 381.5,185.2 377.2,184.4 350.1,184.2 336.1,181.9 304.0,181.9M452.6,33.9 453.4,38.6 456.0,41.9 459.0,43.3 465.3,43.9 468.3,44.9 478.0,52.4 480.0,54.6 481.9,58.6 483.8,67.7 483.2,71.3 481.4,73.7 479.0,74.5 476.4,73.9 473.7,71.9 468.5,66.7 462.7,64.4 456.7,63.7 446.3,64.8 441.6,65.7 437.9,67.0 431.9,71.3 424.2,74.7 418.6,78.9 415.9,80.1 396.5,82.7 383.8,85.2 369.1,88.7 366.8,88.2 362.1,85.7 359.1,84.6 345.8,82.6 338.1,80.9 335.5,79.7 330.3,76.3 321.0,73.1 311.3,71.6 304.0,71.2M541.5,75.6 534.8,74.8 528.1,73.0 525.5,71.7 522.5,68.3 519.7,61.0 519.6,56.3 522.6,47.3 524.8,43.8 530.6,38.2 531.5,36.2 531.9,33.9M478.0,103.4 476.4,103.3 475.0,102.4 473.8,100.7 473.2,98.4 473.4,96.4 474.1,94.4 475.4,93.0 477.0,92.3 478.4,92.5 479.7,93.4 480.9,95.1 481.4,97.1 481.3,99.1 480.7,101.1 479.4,102.7 478.0,103.4M304.0,110.2 311.0,110.5 320.7,112.5 338.1,113.6 349.4,112.9 358.4,114.3 368.8,112.7 388.5,112.4 397.5,110.7 402.2,110.4 407.9,110.7 418.6,112.5 445.6,112.8 454.7,114.7 460.0,115.1 469.0,114.8 479.7,112.6 503.1,112.7 507.8,113.7 513.4,118.3 517.1,119.7 541.5,120.0M329.8,140.2 332.4,138.9 333.4,137.2 332.7,135.5 330.7,134.4 327.4,133.9 323.4,134.2 320.0,135.2 318.5,136.5 319.2,137.8 322.7,139.5 326.7,140.4 329.8,140.2M541.5,185.3 460.7,185.4 456.3,185.7 445.6,187.6 401.5,188.3 395.9,187.7 381.8,183.7 377.5,183.0 350.1,182.7 335.7,180.5 304.0,180.5M448.5,33.9 448.9,37.2 450.1,39.9 452.5,42.9 455.7,45.7 459.0,47.3 465.0,47.9 467.7,48.7 476.4,53.5 478.7,55.4 480.5,58.6 481.8,65.6 481.6,69.0 480.4,71.1 478.4,72.1 476.0,71.5 474.0,70.0 469.7,65.1 467.3,63.9 463.3,62.9 457.0,62.3 445.0,63.9 437.6,65.8 430.9,70.9 423.9,73.9 417.9,77.7 414.6,79.2 369.5,87.0 367.1,86.6 359.8,83.7 346.4,81.9 339.1,80.2 336.4,79.1 330.7,75.6 320.4,72.2 310.3,70.6 304.0,70.3M541.5,73.5 533.1,72.7 528.5,71.7 526.1,70.6 524.5,69.1 523.2,67.0 520.8,59.6 521.3,55.0 524.5,46.6 526.8,44.1 534.4,38.6 536.2,36.2 537.0,33.9M478.0,100.5 476.4,100.4 475.2,98.4 475.6,96.1 477.0,95.0 478.4,95.4 479.4,97.1 479.3,99.1 478.0,100.5M304.0,112.2 311.0,112.8 318.7,115.4 327.4,114.2 338.4,114.7 348.1,114.3 351.4,114.7 358.4,116.6 368.8,114.1 387.5,113.9 398.5,112.4 405.9,112.3 417.9,113.8 440.3,114.3 444.0,115.1 451.3,118.3 460.7,119.1 472.7,118.5 480.8,115.1 484.4,114.3 497.1,114.0 504.1,115.3 511.8,120.3 515.8,121.8 520.8,122.1 541.5,122.2M329.5,141.5 332.9,140.5 335.4,138.5 336.0,136.2 334.3,134.2 329.4,132.7 320.7,132.7 315.7,133.8 314.2,134.8 313.6,135.8 313.6,136.8 314.4,137.8 317.7,139.7 324.7,141.4 329.5,141.5M541.5,184.2 460.7,184.2 456.0,184.6 445.3,186.4 401.9,186.8 396.5,186.3 377.5,182.0 349.8,181.7 335.7,179.5 304.0,179.5M442.8,33.9 443.3,37.9 444.6,40.6 456.0,51.9 459.3,53.2 469.7,54.5 474.4,56.0 476.6,57.3 477.8,59.0 478.5,61.6 478.6,65.0 478.0,67.0 477.0,67.5 476.0,67.1 472.4,63.1 469.0,61.2 461.7,59.9 457.0,60.1 437.9,63.8 435.4,65.3 429.6,70.2 423.3,72.9 416.6,76.4 411.9,78.1 389.5,82.8 370.5,84.8 367.5,84.5 359.8,82.2 344.1,80.2 338.1,78.4 331.1,74.7 320.7,71.4 310.0,69.1 304.0,68.6M541.5,70.7 531.8,70.1 527.1,68.7 525.5,67.0 524.1,64.6 522.9,61.3 522.5,58.3 523.0,55.3 524.5,51.2 525.8,48.5 527.4,46.6 530.3,44.6 535.2,42.2 541.5,41.2M304.0,115.2 308.0,115.4 310.5,116.1 312.4,117.2 315.7,120.4 318.0,121.3 320.4,120.7 325.4,117.3 328.4,116.5 349.1,116.8 351.6,117.8 357.1,121.6 363.5,122.6 364.7,126.5 367.1,128.7 376.8,131.1 379.2,130.5 381.1,128.8 381.7,126.5 380.8,124.6 379.2,123.4 376.5,122.7 364.1,122.3 364.3,120.5 365.6,118.5 367.5,117.3 370.1,116.7 387.8,116.2 400.2,115.2 436.6,116.7 439.5,117.8 440.4,119.5 439.5,121.1 435.6,123.9 434.2,125.8 434.1,128.5 435.8,130.8 440.0,132.1 454.0,132.3 457.7,132.8 460.3,134.0 465.3,138.5 467.7,139.3 470.7,139.6 477.4,139.2 479.7,138.2 481.0,136.8 482.1,133.5 482.7,120.1 484.2,117.8 487.1,116.6 493.4,116.3 498.4,116.8 500.7,117.9 506.1,122.1 514.4,124.7 520.1,125.1 541.5,125.1M304.0,138.3 309.3,138.9 319.4,142.1 329.1,143.1 333.1,142.3 337.2,140.5 339.4,138.5 340.2,136.2 339.7,134.2 338.6,132.8 336.7,131.9 333.7,131.4 317.7,130.0 308.3,132.0 304.0,132.4M541.5,182.8 460.7,182.8 445.0,184.6 401.5,184.8 396.2,184.3 377.2,180.6 349.8,180.4 339.4,178.2 335.4,177.8 304.0,178.0M439.1,33.9 439.5,37.6 440.9,40.6 454.1,54.6 455.1,56.3 454.9,57.6 453.4,59.0 450.3,60.3 437.6,62.7 434.9,64.3 428.6,69.7 416.2,75.2 408.8,77.7 388.8,82.3 377.8,83.2 369.5,83.2 360.1,81.1 344.9,79.4 338.7,77.4 331.7,74.1 320.4,70.5 309.3,67.5 304.0,67.0M541.5,68.1 532.1,67.8 528.1,66.7 526.5,65.2 525.1,63.1 524.0,58.3 524.4,55.6 525.5,52.8 527.1,49.9 529.1,47.7 535.2,44.2 541.5,43.3M304.0,140.3 309.7,140.8 319.4,143.4 327.4,144.2 334.1,143.4 338.1,142.0 340.4,140.7 342.1,138.5 342.9,135.2 342.5,131.2 341.1,128.9 339.1,128.4 332.4,129.6 327.4,129.6 323.1,128.5 320.9,126.8 320.8,125.8 321.2,124.8 324.7,121.1 327.4,119.3 330.4,118.7 346.8,120.5 352.2,124.8 358.8,127.3 364.1,130.5 377.5,134.5 380.8,133.5 385.3,129.1 387.1,125.8 387.4,121.1 389.0,120.1 394.3,119.5 402.9,119.2 426.5,120.1 427.9,120.6 428.6,121.5 427.9,127.1 428.4,130.8 429.6,132.8 431.6,134.3 437.3,135.7 455.7,136.7 458.0,137.4 464.0,140.8 469.3,141.7 479.0,141.2 482.4,139.9 485.0,137.8 486.5,135.8 487.3,133.5 487.9,122.1 488.9,120.8 490.5,120.1 493.4,120.0 495.7,120.5 501.4,125.9 503.8,127.0 507.8,128.0 517.4,129.0 541.5,129.1M304.0,119.2 306.3,119.6 308.1,120.5 309.6,122.5 310.4,124.8 309.9,125.8 308.7,126.4 304.0,126.9M541.5,181.8 460.7,181.9 444.6,183.3 401.2,183.4 394.9,182.8 377.2,179.6 348.8,179.2 336.7,176.4 304.0,176.9M304.0,43.7 308.3,43.0 311.3,41.0 313.2,37.9 313.8,33.9M353.5,33.9 354.1,39.6 357.0,49.9 359.1,52.4 362.8,53.3 366.1,52.4 368.1,49.9 370.2,40.2 370.7,33.9M435.2,33.9 435.6,38.2 436.7,41.3 444.0,51.0 448.5,55.3 448.9,56.3 448.6,57.3 446.6,58.4 440.0,59.8 437.3,60.8 434.6,62.6 428.5,68.0 418.6,72.6 410.2,75.5 390.5,81.1 384.8,81.8 375.5,81.7 361.1,79.1 346.9,78.0 325.4,71.2 315.5,67.3 309.0,64.0 304.0,63.3M541.5,63.3 532.8,63.3 529.8,62.8 527.5,61.0 526.6,58.3 527.0,56.3 527.9,54.6 533.5,48.6 536.8,46.8 541.5,46.3M304.0,142.2 309.7,142.6 318.0,144.9 324.4,145.7 330.4,145.8 336.4,145.0 340.8,143.9 343.6,142.2 345.0,140.2 346.9,135.2 348.4,133.5 350.4,132.6 353.4,132.4 358.4,132.7 368.1,135.1 370.8,136.1 374.8,138.5 377.5,139.0 381.2,138.0 386.2,134.2 388.5,132.9 391.9,132.3 396.5,132.4 400.2,133.4 405.5,137.2 408.9,138.3 439.0,140.0 448.0,141.8 456.7,142.4 468.7,144.4 478.7,144.2 490.1,142.2 515.1,142.0 527.1,139.8 541.5,139.7M541.5,180.5 461.0,180.5 444.6,181.6 400.5,181.6 388.2,180.4 376.5,177.8 349.4,177.3 346.1,176.6 340.4,174.5 336.7,173.9 329.4,173.9 304.0,175.3M304.0,48.9 308.3,47.5 313.4,43.4 317.7,38.2 319.0,33.9M348.3,33.9 348.9,36.9 352.6,43.9 355.8,53.5 359.1,57.2 360.8,58.1 362.8,58.4 364.5,58.1 366.1,57.0 369.2,52.6 372.4,39.2 372.9,33.9M433.1,33.9 434.0,40.2 438.3,48.3 439.8,52.9 440.1,55.3 439.1,57.0 429.6,65.6 425.9,68.0 413.0,73.3 389.5,80.7 384.5,81.0 376.8,80.7 372.4,79.7 366.1,76.8 363.1,75.9 359.5,75.7 349.4,76.5 338.7,74.4 324.4,70.0 316.2,65.6 308.3,59.5 304.0,58.2M541.5,58.0 536.4,57.6 535.2,57.0 534.9,56.3 535.8,54.0 537.5,51.7 539.2,50.8 541.5,50.4M304.0,143.5 309.7,143.9 321.0,146.7 328.4,147.3 334.1,147.1 341.4,146.3 345.4,145.0 348.0,143.2 350.8,138.9 353.0,137.8 357.4,137.7 363.8,138.5 371.5,141.2 376.2,141.6 380.8,140.6 388.5,136.5 393.9,135.7 398.5,136.3 405.0,139.2 408.6,140.1 437.9,142.1 448.6,144.9 467.7,146.2 514.1,145.1 517.4,144.6 526.5,142.1 541.5,141.8M541.5,179.4 461.0,179.4 444.6,180.3 400.2,180.4 388.2,179.3 379.5,176.8 375.5,176.2 349.8,175.4 341.4,172.8 337.1,172.1 329.7,172.1 313.7,173.9 304.0,174.2M430.0,33.9 430.7,38.9 434.3,47.3 435.1,51.9 434.5,57.3 431.5,61.6 426.9,65.1 415.2,70.7 391.2,79.2 385.8,80.0 378.5,79.2 374.5,77.8 371.8,75.3 370.2,71.3 369.6,65.6 369.9,58.6 372.7,45.6 375.2,37.9 375.7,33.9M413.1,33.9 413.6,36.4 414.6,38.2 416.2,39.5 418.2,39.9 419.9,39.5 421.5,38.2 422.3,36.6 422.7,33.9M345.1,73.0 338.7,72.7 328.7,70.3 325.2,69.0 322.0,66.7 316.2,61.0 314.4,57.6 313.9,54.6 314.1,50.9 314.7,48.6 316.0,46.6 318.0,45.0 320.4,44.1 328.1,43.3 337.4,41.5 343.8,42.2 346.4,43.2 348.4,44.5 350.6,47.9 352.9,57.3 353.5,61.6 353.4,66.7 352.5,69.7 351.1,71.5 348.8,72.6 345.1,73.0M304.0,145.4 309.3,145.7 317.4,147.9 328.4,149.6 348.8,149.6 358.8,151.6 363.5,152.0 367.1,151.7 369.8,151.0 375.5,145.8 386.2,140.9 389.8,139.7 394.9,139.1 399.2,139.4 408.2,142.0 418.6,142.5 427.9,144.2 437.9,144.8 448.0,147.7 467.7,148.6 495.4,148.5 514.8,147.8 518.8,147.3 527.1,144.7 541.5,144.5M541.5,177.8 461.0,177.8 444.6,178.3 397.5,178.4 387.5,177.4 378.8,174.3 367.8,171.9 350.4,171.5 341.4,169.7 336.1,169.3 329.4,169.5 321.4,171.3 312.7,172.5 304.0,172.8M407.9,33.9 408.7,36.2 410.5,38.6 413.2,40.8 415.9,42.1 418.2,42.6 420.2,42.4 426.3,39.9 427.3,40.0 428.6,41.0 431.3,44.9 432.7,48.9 433.0,54.6 432.1,58.3 430.5,60.6 427.9,62.7 413.1,70.0 390.8,78.4 386.5,79.1 380.5,78.2 375.8,76.5 373.2,73.7 371.8,69.7 371.5,59.6 373.2,48.3 374.5,44.0 377.7,37.6 378.3,33.9M341.4,71.4 337.4,71.2 329.1,69.4 326.3,68.3 324.2,66.7 319.9,60.3 318.6,57.3 318.6,52.6 320.0,49.6 321.9,48.6 327.7,47.3 334.0,44.6 337.1,43.9 342.1,44.3 344.4,45.3 346.4,46.8 347.9,49.3 348.7,52.6 349.4,60.3 349.1,66.0 348.3,68.0 346.7,69.7 344.4,70.8 341.4,71.4M304.0,146.8 309.7,147.3 329.7,151.5 349.8,152.0 353.7,153.2 360.1,156.6 364.1,157.2 369.1,156.7 373.1,155.1 375.1,153.2 378.6,147.5 384.2,143.7 389.2,141.8 395.5,140.8 399.5,141.0 408.2,143.3 419.2,143.9 427.9,146.0 437.6,146.6 447.0,149.0 468.0,150.1 495.1,150.1 515.1,149.2 519.1,148.7 527.8,146.6 541.5,146.7M541.5,176.3 395.9,176.8 386.8,175.6 373.5,170.7 366.8,167.1 362.5,166.4 349.8,167.5 338.7,166.8 331.4,166.8 319.0,170.4 311.0,171.6 304.0,171.9M393.1,33.9 394.2,37.3 397.2,39.4 407.9,41.5 417.6,45.5 420.2,45.7 425.3,45.1 427.3,45.5 428.6,46.8 429.6,48.9 429.9,55.3 429.1,58.0 427.3,59.9 418.2,63.5 410.0,69.0 401.2,73.2 389.8,77.2 386.8,77.6 382.2,76.7 376.7,74.0 374.4,71.0 373.4,66.7 373.5,57.6 375.1,46.9 376.8,43.6 382.0,38.2 382.9,36.2 383.3,33.9M339.7,68.7 334.7,68.7 328.4,67.0 326.0,64.4 324.7,59.6 325.0,57.0 326.4,55.0 331.3,51.9 335.4,48.2 338.1,47.3 340.1,47.5 341.8,48.6 342.9,50.3 343.4,52.9 343.1,65.3 342.1,67.4 339.7,68.7M541.5,173.8 523.5,174.7 488.7,174.7 467.7,173.8 421.2,173.9 407.9,174.8 397.2,174.7 390.2,174.0 385.5,172.7 377.2,168.6 375.7,167.2 375.1,165.6 375.7,163.6 378.7,159.2 381.0,151.5 383.2,147.9 385.2,146.2 387.8,144.8 395.9,142.7 399.9,142.9 408.6,145.3 418.2,146.0 427.3,148.5 437.6,149.0 447.3,150.6 458.3,151.0 468.3,151.9 496.4,151.9 506.1,151.0 517.8,150.6 528.1,149.0 541.5,149.7M304.0,148.9 309.7,149.2 321.0,151.3 331.1,154.5 347.8,155.1 350.5,156.2 351.6,158.2 350.8,160.1 348.4,161.3 331.1,162.2 328.7,163.0 323.0,166.7 319.7,168.1 311.3,170.1 304.0,170.5M389.5,76.0 387.2,76.3 384.8,76.0 378.2,73.0 375.8,70.3 374.7,66.3 374.8,56.3 375.6,49.9 376.4,46.9 378.8,43.7 386.2,38.5 387.5,37.8 388.8,37.7 395.5,41.1 408.2,43.6 411.6,45.0 418.6,49.0 423.9,50.1 425.3,51.0 425.8,53.6 424.9,56.0 418.2,59.4 407.6,68.3 401.5,72.0 389.5,76.0M336.1,65.0 333.7,65.1 331.5,64.3 330.4,63.1 330.0,61.3 330.4,59.9 331.5,58.6 336.4,56.4 337.1,56.7 337.7,57.9 338.1,61.6 337.5,64.0 336.1,65.0M541.5,172.0 523.5,173.4 488.7,173.4 476.7,172.1 469.3,172.0 421.2,172.1 408.6,173.3 398.5,173.4 391.5,172.6 385.8,171.0 381.0,167.9 380.0,166.6 379.6,165.2 382.1,154.2 384.2,150.0 386.2,148.0 388.8,146.5 393.2,144.7 396.5,144.1 400.5,144.4 408.2,146.9 416.9,147.9 425.6,149.9 437.3,150.4 447.3,151.7 458.7,152.0 469.0,153.3 495.7,153.2 505.8,152.0 517.4,151.7 527.5,150.5 541.5,151.7M304.0,150.3 310.3,150.6 321.7,152.6 326.2,154.9 328.0,156.6 328.5,157.9 328.0,159.6 325.9,161.9 320.6,165.9 311.7,168.8 304.0,169.4M389.5,74.1 386.2,74.1 382.5,72.7 379.2,70.6 377.4,68.0 376.7,63.6 376.8,55.6 377.5,49.9 378.9,46.9 380.8,45.2 384.2,43.3 388.8,42.0 402.9,44.6 407.6,46.2 410.2,47.7 412.1,49.9 412.9,53.3 412.5,57.3 410.8,60.6 404.3,68.0 401.9,70.1 398.9,71.4 389.5,74.1M541.5,169.2 536.8,169.5 528.8,171.3 523.8,171.6 488.4,171.6 484.0,171.1 476.7,169.4 470.4,169.1 420.9,169.3 408.9,171.4 398.9,171.6 392.4,170.6 386.5,168.2 384.0,165.6 383.3,161.2 383.9,155.5 385.8,151.9 388.2,150.0 392.5,147.6 397.5,146.2 400.9,146.7 407.9,149.5 418.6,151.8 436.3,152.1 446.6,153.1 457.3,153.4 470.0,155.6 495.1,155.4 506.4,153.4 526.5,152.3 530.1,152.6 537.5,154.3 541.5,154.5M304.0,152.1 311.0,152.4 320.0,153.8 323.3,155.5 324.4,157.9 323.1,160.9 319.4,163.6 311.0,166.9 304.0,167.6M390.5,72.4 387.5,72.6 384.5,71.7 381.3,69.7 379.5,67.3 378.7,64.0 378.5,58.0 379.0,52.3 380.0,48.9 381.3,47.3 383.6,45.6 388.5,44.0 399.5,45.4 404.6,47.3 407.2,49.3 408.5,51.9 408.6,56.0 407.3,59.6 403.1,66.7 401.0,69.0 397.9,70.5 390.5,72.4M541.5,165.2 537.8,166.0 530.5,169.4 524.5,170.3 487.4,170.1 482.7,169.0 475.7,165.7 471.4,165.1 456.0,166.6 429.9,166.7 419.9,166.1 409.9,169.8 399.9,170.3 393.9,169.3 388.3,166.6 385.8,163.5 385.0,158.9 385.6,155.2 387.6,152.5 394.2,148.9 397.9,148.0 400.9,148.6 417.6,155.0 425.3,153.7 430.3,153.4 456.7,154.5 461.3,155.4 468.0,158.4 471.4,159.1 475.7,159.1 485.4,157.8 495.7,157.4 507.1,154.5 525.8,153.7 530.8,154.4 538.2,157.8 541.5,158.5M304.0,153.4 311.0,153.7 318.4,154.7 321.0,156.0 322.0,157.9 321.0,160.2 318.4,161.9 310.0,165.1 304.0,165.8M389.5,70.0 387.2,69.7 385.1,68.7 383.5,67.0 382.3,64.6 381.3,58.0 381.7,54.3 382.7,51.3 385.0,48.3 388.5,46.7 393.9,46.9 399.7,48.3 402.0,50.3 402.9,53.6 402.5,59.0 400.5,65.3 399.2,67.2 397.5,68.3 389.5,70.0M406.2,167.9 398.2,167.9 395.5,167.2 393.2,165.9 389.8,163.0 388.2,160.6 387.7,157.9 388.5,155.4 390.1,153.9 393.2,152.0 395.9,151.0 398.2,150.7 401.8,151.5 410.0,155.5 411.6,156.9 412.5,158.9 412.9,161.6 412.5,163.9 410.5,166.6 406.2,167.9M304.0,156.0 312.8,156.6 315.3,157.2 316.1,158.2 315.0,159.2 310.7,160.8 304.0,161.7M455.0,161.6 429.9,161.6 426.3,160.6 425.4,159.6 425.2,158.6 425.6,157.6 427.3,156.6 432.6,156.0 454.8,156.9 457.3,157.3 459.0,158.2 459.4,159.2 458.7,160.5 455.0,161.6M524.5,167.9 489.9,167.6 486.4,166.8 485.3,165.9 485.0,164.9 485.7,163.6 487.7,162.6 495.7,162.0 498.4,161.4 503.8,157.9 506.8,156.8 523.8,156.0 527.5,156.3 529.6,157.2 531.1,158.9 531.7,160.9 531.5,163.6 530.8,165.2 529.4,166.6 527.1,167.5 524.5,167.9M390.8,67.3 387.8,66.9 385.7,65.3 384.0,62.3 383.4,58.6 383.9,55.0 385.5,51.8 387.7,49.9 390.5,49.3 394.6,49.9 397.1,51.3 398.3,53.3 398.6,56.6 398.2,61.6 396.9,64.8 394.5,66.5 390.8,67.3M402.9,165.6 397.5,165.3 393.5,162.9 391.5,160.7 390.6,158.9 390.6,157.2 391.5,155.5 394.9,153.3 398.2,152.6 401.8,153.5 405.9,156.2 408.0,159.2 408.0,162.6 406.3,164.6 402.9,165.6M522.5,164.3 509.5,164.2 507.2,163.6 506.7,162.6 507.8,160.9 510.6,159.9 521.8,159.6 524.9,160.2 525.8,161.5 525.5,162.9 524.5,163.8 522.5,164.3M389.8,61.0 388.2,60.6 387.3,59.0 387.7,57.0 389.2,55.8 390.7,56.3 391.6,58.0 391.2,60.0 389.8,61.0M399.2,160.0 397.9,160.0 396.5,159.1 396.1,157.9 396.7,156.9 398.5,156.4 400.0,157.2 400.4,158.9 399.2,160.0"/>
<text x="295.0" y="41.8" font-size="7.5" text-anchor="middle" font-weight="normal" fill="#000" transform="rotate(-90 295.0 41.8)">75</text>
<text x="295.0" y="66.6" font-size="7.5" text-anchor="middle" font-weight="normal" fill="#000" transform="rotate(-90 295.0 66.6)">60</text>
<text x="295.0" y="85.4" font-size="7.5" text-anchor="middle" font-weight="normal" fill="#000" transform="rotate(-90 295.0 85.4)">45</text>
<text x="295.0" y="96.2" font-size="7.5" text-anchor="middle" font-weight="normal" fill="#000" transform="rotate(-90 295.0 96.2)">30</text>
<text x="295.0" y="107.5" font-size="7.5" text-anchor="middle" font-weight="normal" fill="#000" transform="rotate(-90 295.0 107.5)">15</text>
<text x="295.0" y="116.9" font-size="7.5" text-anchor="middle" font-weight="normal" fill="#000" transform="rotate(-90 295.0 116.9)">0</text>
<text x="295.0" y="126.5" font-size="7.5" text-anchor="middle" font-weight="normal" fill="#000" transform="rotate(-90 295.0 126.5)">-15</text>
<text x="295.0" y="138.3" font-size="7.5" text-anchor="middle" font-weight="normal" fill="#000" transform="rotate(-90 295.0 138.3)">-30</text>
<text x="295.0" y="154.4" font-size="7.5" text-anchor="middle" font-weight="normal" fill="#000" transform="rotate(-90 295.0 154.4)">-45</text>
<text x="295.0" y="172.4" font-size="7.5" text-anchor="middle" font-weight="normal" fill="#000" transform="rotate(-90 295.0 172.4)">-60</text>
<text x="295.0" y="198.1" font-size="7.5" text-anchor="middle" font-weight="normal" fill="#000" transform="rotate(-90 295.0 198.1)">-75</text>
<text x="285" y="113.6" font-size="10" text-anchor="middle" font-weight="normal" fill="#000" transform="rotate(-90 285 113.6)">Latitude</text>
<text x="303.3" y="223" font-size="7.5" text-anchor="middle" font-weight="normal" fill="#000">-180</text>
<text x="323.90000000000003" y="223" font-size="7.5" text-anchor="middle" font-weight="normal" fill="#000">-150</text>
<text x="343.8" y="223" font-size="7.5" text-anchor="middle" font-weight="normal" fill="#000">-120</text>
<text x="362.3" y="223" font-size="7.5" text-anchor="middle" font-weight="normal" fill="#000">-90</text>
<text x="381.8" y="223" font-size="7.5" text-anchor="middle" font-weight="normal" fill="#000">-60</text>
<text x="401.3" y="223" font-size="7.5" text-anchor="middle" font-weight="normal" fill="#000">-30</text>
<text x="424.0" y="223" font-size="7.5" text-anchor="middle" font-weight="normal" fill="#000">0</text>
<text x="444.3" y="223" font-size="7.5" text-anchor="middle" font-weight="normal" fill="#000">30</text>
<text x="465.1" y="223" font-size="7.5" text-anchor="middle" font-weight="normal" fill="#000">60</text>
<text x="484.3" y="223" font-size="7.5" text-anchor="middle" font-weight="normal" fill="#000">90</text>
<text x="504.0" y="223" font-size="7.5" text-anchor="middle" font-weight="normal" fill="#000">120</text>
<text x="524.8" y="223" font-size="7.5" text-anchor="middle" font-weight="normal" fill="#000">150</text>
<text x="542.6" y="223" font-size="7.5" text-anchor="middle" font-weight="normal" fill="#000">180</text>
<text x="422.5" y="232.4" font-size="10" text-anchor="middle" font-weight="normal" fill="#000">Longitude</text>
<rect x="304.1" y="235.7" width="234.10000000000002" height="8.400000000000006" fill="#000"/>
<rect x="306.30" y="235.7" width="3.27" height="8.400000000000006" fill="#7a00e2"/>
<rect x="309.27" y="235.7" width="3.27" height="8.400000000000006" fill="#6a00e7"/>
<rect x="312.25" y="235.7" width="3.27" height="8.400000000000006" fill="#5a00ed"/>
<rect x="315.22" y="235.7" width="3.27" height="8.400000000000006" fill="#4800f2"/>
<rect x="318.19" y="235.7" width="3.27" height="8.400000000000006" fill="#3400f9"/>
<rect x="321.17" y="235.7" width="3.27" height="8.400000000000006" fill="#2000ff"/>
<rect x="324.14" y="235.7" width="3.27" height="8.400000000000006" fill="#1000ff"/>
<rect x="327.11" y="235.7" width="3.27" height="8.400000000000006" fill="#0000ff"/>
<rect x="330.08" y="235.7" width="3.27" height="8.400000000000006" fill="#0000ef"/>
<rect x="333.06" y="235.7" width="3.27" height="8.400000000000006" fill="#0000e0"/>
<rect x="336.03" y="235.7" width="3.27" height="8.400000000000006" fill="#0047f7"/>
<rect x="339.00" y="235.7" width="3.27" height="8.400000000000006" fill="#009eff"/>
<rect x="341.98" y="235.7" width="3.27" height="8.400000000000006" fill="#00fdff"/>
<rect x="344.95" y="235.7" width="3.27" height="8.400000000000006" fill="#00ffc8"/>
<rect x="347.92" y="235.7" width="3.27" height="8.400000000000006" fill="#00ff8b"/>
<rect x="350.90" y="235.7" width="3.27" height="8.400000000000006" fill="#00ff43"/>
<rect x="353.87" y="235.7" width="3.27" height="8.400000000000006" fill="#00f62e"/>
<rect x="356.84" y="235.7" width="3.27" height="8.400000000000006" fill="#02ee1e"/>
<rect x="359.82" y="235.7" width="3.27" height="8.400000000000006" fill="#08e818"/>
<rect x="362.79" y="235.7" width="3.27" height="8.400000000000006" fill="#0ee212"/>
<rect x="365.76" y="235.7" width="3.27" height="8.400000000000006" fill="#1ce20c"/>
<rect x="368.73" y="235.7" width="3.27" height="8.400000000000006" fill="#30e505"/>
<rect x="371.71" y="235.7" width="3.27" height="8.400000000000006" fill="#48e900"/>
<rect x="374.68" y="235.7" width="3.27" height="8.400000000000006" fill="#67ed00"/>
<rect x="377.65" y="235.7" width="3.27" height="8.400000000000006" fill="#8bf000"/>
<rect x="380.63" y="235.7" width="3.27" height="8.400000000000006" fill="#baf000"/>
<rect x="383.60" y="235.7" width="3.27" height="8.400000000000006" fill="#dcf700"/>
<rect x="386.57" y="235.7" width="3.27" height="8.400000000000006" fill="#fbfe00"/>
<rect x="389.55" y="235.7" width="3.27" height="8.400000000000006" fill="#fff200"/>
<rect x="392.52" y="235.7" width="3.27" height="8.400000000000006" fill="#ffe200"/>
<rect x="395.49" y="235.7" width="3.27" height="8.400000000000006" fill="#ffd400"/>
<rect x="398.47" y="235.7" width="3.27" height="8.400000000000006" fill="#ffc600"/>
<rect x="401.44" y="235.7" width="3.27" height="8.400000000000006" fill="#ffba00"/>
<rect x="404.41" y="235.7" width="3.27" height="8.400000000000006" fill="#ffae00"/>
<rect x="407.38" y="235.7" width="3.27" height="8.400000000000006" fill="#ffa000"/>
<rect x="410.36" y="235.7" width="3.27" height="8.400000000000006" fill="#ff9300"/>
<rect x="413.33" y="235.7" width="3.27" height="8.400000000000006" fill="#ff8900"/>
<rect x="416.30" y="235.7" width="3.27" height="8.400000000000006" fill="#ff8000"/>
<rect x="419.28" y="235.7" width="3.27" height="8.400000000000006" fill="#ff7700"/>
<rect x="422.25" y="235.7" width="3.27" height="8.400000000000006" fill="#ff7000"/>
<rect x="425.22" y="235.7" width="3.27" height="8.400000000000006" fill="#ff6900"/>
<rect x="428.20" y="235.7" width="3.27" height="8.400000000000006" fill="#ff6200"/>
<rect x="431.17" y="235.7" width="3.27" height="8.400000000000006" fill="#ff5900"/>
<rect x="434.14" y="235.7" width="3.27" height="8.400000000000006" fill="#ff4f00"/>
<rect x="437.12" y="235.7" width="3.27" height="8.400000000000006" fill="#ff4600"/>
<rect x="440.09" y="235.7" width="3.27" height="8.400000000000006" fill="#ff3d00"/>
<rect x="443.06" y="235.7" width="3.27" height="8.400000000000006" fill="#ff3500"/>
<rect x="446.03" y="235.7" width="3.27" height="8.400000000000006" fill="#ff2d00"/>
<rect x="449.01" y="235.7" width="3.27" height="8.400000000000006" fill="#ff2500"/>
<rect x="451.98" y="235.7" width="3.27" height="8.400000000000006" fill="#ff1d00"/>
<rect x="454.95" y="235.7" width="3.27" height="8.400000000000006" fill="#ff1600"/>
<rect x="457.93" y="235.7" width="3.27" height="8.400000000000006" fill="#ff0f00"/>
<rect x="460.90" y="235.7" width="3.27" height="8.400000000000006" fill="#ff0700"/>
<rect x="463.87" y="235.7" width="3.27" height="8.400000000000006" fill="#ff0000"/>
<rect x="466.85" y="235.7" width="3.27" height="8.400000000000006" fill="#fd0000"/>
<rect x="469.82" y="235.7" width="3.27" height="8.400000000000006" fill="#fb0000"/>
<rect x="472.79" y="235.7" width="3.27" height="8.400000000000006" fill="#f90000"/>
<rect x="475.77" y="235.7" width="3.27" height="8.400000000000006" fill="#f70000"/>
<rect x="478.74" y="235.7" width="3.27" height="8.400000000000006" fill="#f50000"/>
<rect x="481.71" y="235.7" width="3.27" height="8.400000000000006" fill="#f20000"/>
<rect x="484.68" y="235.7" width="3.27" height="8.400000000000006" fill="#f00000"/>
<rect x="487.66" y="235.7" width="3.27" height="8.400000000000006" fill="#ed0000"/>
<rect x="490.63" y="235.7" width="3.27" height="8.400000000000006" fill="#eb0000"/>
<rect x="493.60" y="235.7" width="3.27" height="8.400000000000006" fill="#e80000"/>
<rect x="496.58" y="235.7" width="3.27" height="8.400000000000006" fill="#e40000"/>
<rect x="499.55" y="235.7" width="3.27" height="8.400000000000006" fill="#e00000"/>
<rect x="502.52" y="235.7" width="3.27" height="8.400000000000006" fill="#dc0000"/>
<rect x="505.50" y="235.7" width="3.27" height="8.400000000000006" fill="#d70000"/>
<rect x="508.47" y="235.7" width="3.27" height="8.400000000000006" fill="#d30000"/>
<rect x="511.44" y="235.7" width="3.27" height="8.400000000000006" fill="#cf0000"/>
<rect x="514.42" y="235.7" width="3.27" height="8.400000000000006" fill="#c90000"/>
<rect x="517.39" y="235.7" width="3.27" height="8.400000000000006" fill="#c40000"/>
<rect x="520.36" y="235.7" width="3.27" height="8.400000000000006" fill="#be0000"/>
<rect x="523.33" y="235.7" width="3.27" height="8.400000000000006" fill="#b90000"/>
<rect x="526.31" y="235.7" width="3.27" height="8.400000000000006" fill="#b20000"/>
<rect x="529.28" y="235.7" width="3.27" height="8.400000000000006" fill="#ab0000"/>
<rect x="532.25" y="235.7" width="3.27" height="8.400000000000006" fill="#a40000"/>
<rect x="535.23" y="235.7" width="3.27" height="8.400000000000006" fill="#a00000"/>
<text x="308.9" y="255.3" font-size="7.5" text-anchor="middle" font-weight="normal" fill="#000">&#8722;4.0</text>
<text x="330" y="255.3" font-size="7.5" text-anchor="middle" font-weight="normal" fill="#000">&#8722;3.0</text>
<text x="351.7" y="255.3" font-size="7.5" text-anchor="middle" font-weight="normal" fill="#000">&#8722;2.0</text>
<text x="373.4" y="255.3" font-size="7.5" text-anchor="middle" font-weight="normal" fill="#000">&#8722;1.0</text>
<text x="393.4" y="255.3" font-size="7.5" text-anchor="middle" font-weight="normal" fill="#000">0.0</text>
<text x="414.7" y="255.3" font-size="7.5" text-anchor="middle" font-weight="normal" fill="#000">1.0</text>
<text x="433.4" y="255.3" font-size="7.5" text-anchor="middle" font-weight="normal" fill="#000">2.0</text>
<text x="454.2" y="255.3" font-size="7.5" text-anchor="middle" font-weight="normal" fill="#000">3.0</text>
<text x="473.7" y="255.3" font-size="7.5" text-anchor="middle" font-weight="normal" fill="#000">4.0</text>
<text x="493" y="255.3" font-size="7.5" text-anchor="middle" font-weight="normal" fill="#000">5.0</text>
<text x="514.5" y="255.3" font-size="7.5" text-anchor="middle" font-weight="normal" fill="#000">6.0</text>
<text x="11" y="271.3" font-size="10.3" text-anchor="start" font-weight="bold" fill="#000">(c)</text>
<text x="94.2" y="269" font-size="10.3" text-anchor="start" font-weight="bold" fill="#000">dT,</text>
<text x="115.7" y="269" font-size="10.3" text-anchor="start" font-weight="bold" fill="#000">K</text>
<text x="140.7" y="269" font-size="10.3" text-anchor="start" font-weight="bold" fill="#000">100 hPa</text>
<rect x="30.5" y="277.5" width="241.0" height="190.0" fill="#fff" stroke="#c8c8c8" stroke-width="1"/>
<rect x="32.5" y="279.5" width="239.0" height="186.0" fill="#fff" stroke="#d8d8d8" stroke-width="0.8"/>
<rect x="33.00" y="289.40" width="236.50" height="166.60" fill="#5808ee"/>
<path fill-rule="evenodd" fill="#3808f4" d="M33.0,289.4 33.0,456.0 269.5,456.0 269.5,299.4 264.2,298.7 261.2,296.4 259.8,292.7 259.8,289.4Z"/>
<path fill-rule="evenodd" fill="#1008f0" d="M33.0,306.4 33.0,456.0 269.5,456.0 269.5,309.1 239.8,309.1 235.8,308.4 233.8,307.4 231.8,305.4 230.5,302.8 230.1,289.4 62.7,289.4 62.0,293.7 60.7,296.1 58.4,298.1 55.3,299.1 47.0,299.7 45.0,300.8 41.0,304.4 38.7,305.8 36.0,306.4Z"/>
<path fill-rule="evenodd" fill="#0070ff" d="M33.0,311.1 33.0,456.0 269.5,456.0 269.5,316.4 243.1,316.4 235.8,315.4 233.8,314.8 229.8,312.4 225.5,308.1 220.8,299.4 215.5,295.1 214.5,293.1 214.1,289.4 82.4,289.4 82.0,291.4 81.0,293.4 78.4,295.7 69.7,298.4 60.0,304.1 56.7,305.1 48.7,306.4 38.7,310.8Z"/>
<path fill-rule="evenodd" fill="#00d8ff" d="M33.0,315.1 33.0,456.0 269.5,456.0 269.5,321.1 245.8,321.1 233.8,318.4 227.5,315.8 225.8,314.8 223.1,312.1 218.1,303.8 211.8,296.4 210.5,292.1 210.5,289.4 92.0,289.4 91.7,291.7 90.0,294.1 80.0,299.7 71.7,303.8 60.0,307.4 55.7,308.1 51.3,309.4 40.3,314.4 36.7,315.1Z"/>
<path fill-rule="evenodd" fill="#20d8a0" d="M33.0,317.8 33.0,456.0 269.5,456.0 269.5,324.5 244.1,325.1 236.1,322.5 230.8,319.8 224.5,317.4 221.5,315.1 218.5,310.1 214.1,305.1 209.1,297.4 207.5,293.4 207.1,289.4 99.7,289.4 99.4,292.4 97.0,295.4 92.4,297.7 84.0,300.8 79.4,304.4 76.0,306.1 57.7,310.1 54.7,311.1 49.0,314.8 44.0,316.8 38.7,317.8Z"/>
<path fill-rule="evenodd" fill="#00f060" d="M33.0,320.1 33.0,456.0 72.4,456.0 72.4,454.7 73.4,452.0 75.4,450.0 78.0,449.0 109.1,449.0 117.4,450.3 119.4,451.3 121.1,453.0 121.7,456.0 269.5,456.0 269.5,326.8 258.8,327.1 248.2,328.5 240.8,328.1 236.1,326.8 233.1,325.1 229.5,322.1 220.8,318.4 217.8,315.4 216.1,312.8 212.1,308.4 208.8,301.4 204.1,296.1 202.8,292.4 202.8,289.4 104.7,289.4 104.1,293.4 103.4,294.7 100.7,297.4 97.7,299.1 87.7,302.4 78.7,308.4 75.0,309.4 66.0,310.4 60.7,311.8 55.0,314.1 50.0,317.8 47.7,318.8 40.3,320.1Z"/>
<path fill-rule="evenodd" fill="#10ec14" d="M33.0,323.5 33.0,456.0 62.4,456.0 62.4,453.0 63.0,450.3 65.4,447.3 72.0,444.6 78.4,443.6 105.7,444.0 114.1,446.0 119.7,446.7 125.4,448.3 129.1,450.3 131.4,453.7 131.7,456.0 269.5,456.0 269.5,328.8 263.5,328.8 257.5,329.5 246.2,331.8 237.5,331.5 231.5,329.8 229.1,327.8 226.8,324.8 223.8,323.1 220.5,322.1 215.5,319.1 210.5,313.8 208.1,309.8 205.8,303.8 203.8,301.8 201.1,300.1 199.5,298.1 198.1,294.7 197.8,289.4 112.1,289.4 111.7,292.1 111.1,293.4 107.7,296.7 99.7,301.4 91.4,304.4 80.7,310.8 76.0,312.1 69.0,312.4 65.0,313.1 58.0,315.8 50.7,320.4 46.7,322.1 41.0,323.1Z"/>
<path fill-rule="evenodd" fill="#50ec00" d="M33.0,338.5 33.0,446.3 36.7,446.3 39.3,445.7 44.0,442.6 48.3,441.0 57.0,440.3 62.0,439.3 69.0,436.3 74.0,432.3 77.0,430.6 82.4,429.3 86.7,427.6 89.7,427.6 93.7,428.6 96.7,430.0 99.4,432.6 102.4,437.0 112.1,441.6 116.4,443.0 126.7,444.3 135.7,448.3 139.7,449.3 148.1,449.7 155.8,447.3 158.8,447.3 164.4,448.7 169.8,448.7 170.1,449.0 207.8,449.0 215.1,450.0 243.5,450.0 246.2,450.7 247.8,451.7 249.5,453.7 250.2,456.0 269.5,456.0 269.5,330.8 264.2,330.8 256.5,332.5 251.5,334.5 248.5,336.8 246.2,337.8 242.5,337.8 237.1,336.5 232.5,336.1 227.5,335.1 225.1,334.1 219.5,327.8 214.5,324.8 208.5,318.4 203.1,315.4 198.1,310.4 194.1,309.1 187.1,308.8 180.1,306.1 167.4,303.8 164.1,302.1 160.4,298.4 155.4,296.4 148.1,295.1 132.4,295.1 132.1,295.4 121.4,296.1 115.7,297.4 102.0,303.8 94.0,306.4 86.4,311.4 79.4,314.4 67.7,315.1 62.0,316.8 54.3,320.8 50.3,324.1 43.3,328.1 41.3,330.5 38.7,335.5 37.0,337.1 35.0,338.1Z"/>
<path fill-rule="evenodd" fill="#98f000" d="M33.0,343.2 33.0,440.6 38.3,440.3 46.7,438.0 58.7,436.3 62.4,434.6 66.0,431.6 74.7,427.6 79.0,426.3 86.4,421.9 90.0,421.9 98.7,426.3 105.7,433.6 114.1,438.6 119.7,440.0 127.7,440.6 131.1,441.6 136.1,444.0 142.1,445.7 144.4,446.0 148.1,445.7 155.1,442.0 157.8,441.6 165.8,444.0 170.1,444.0 170.4,444.3 200.8,444.0 201.1,444.3 205.8,444.3 215.5,446.3 243.8,446.3 247.5,447.0 255.2,449.7 269.5,450.0 269.5,333.5 265.2,333.8 261.8,335.1 260.5,336.8 259.2,340.5 256.5,342.5 252.2,343.5 248.2,343.5 247.8,343.8 241.8,343.2 236.8,341.1 226.8,338.8 223.5,337.5 221.5,336.1 206.8,322.5 203.8,321.1 197.8,319.8 186.4,316.1 184.4,314.8 180.8,311.1 177.8,309.4 171.8,307.4 163.8,305.8 158.4,302.4 153.8,300.1 149.7,298.7 145.4,298.1 136.1,298.1 123.1,299.7 116.7,301.4 108.1,304.8 105.7,305.1 98.4,307.8 97.4,307.8 91.7,310.8 87.0,314.8 83.4,316.1 77.7,317.1 69.4,317.1 64.4,318.1 57.0,322.1 48.3,329.5 45.7,332.1 40.7,339.5 38.3,341.8 36.0,342.8Z"/>
<path fill-rule="evenodd" fill="#d0f400" d="M33.0,345.2 33.0,437.6 40.0,437.3 44.7,436.0 51.7,435.0 57.7,433.3 67.0,428.0 72.0,426.3 78.0,423.3 85.0,418.9 89.4,418.6 94.4,419.9 97.7,421.6 104.4,428.0 112.4,434.3 114.7,435.6 119.4,437.0 131.1,438.3 137.4,440.0 143.7,442.3 147.1,442.3 154.8,439.0 160.1,439.0 166.1,440.3 180.1,440.3 180.4,440.0 193.1,439.6 193.4,440.0 204.8,440.3 215.1,443.0 244.1,443.3 247.8,444.0 253.8,446.0 256.5,446.3 269.5,446.3 269.5,343.2 264.5,343.5 257.5,345.5 245.1,346.5 235.1,345.2 226.8,342.2 222.1,339.8 215.5,335.1 209.5,328.5 206.5,326.5 202.8,325.5 198.4,325.5 194.1,324.8 185.8,320.8 183.8,319.4 176.8,312.4 171.1,309.4 159.8,306.4 148.4,301.1 144.1,300.4 137.4,300.4 127.1,302.1 117.7,305.1 101.0,308.8 95.4,311.1 89.4,316.4 86.4,317.8 77.0,319.1 68.4,319.1 64.7,320.1 54.0,327.5 51.3,330.1 48.0,334.8 44.0,338.8 40.7,343.2 37.3,344.8Z"/>
<path fill-rule="evenodd" fill="#fff000" d="M33.0,346.5 33.0,435.3 38.0,435.3 41.7,434.6 57.4,430.3 72.4,423.3 76.0,420.6 81.7,417.6 85.7,416.3 89.7,416.3 96.0,417.9 99.4,419.6 104.7,425.0 117.1,433.3 123.4,435.0 130.7,435.6 138.4,437.0 144.7,439.0 148.4,438.6 153.8,437.0 161.8,437.0 165.1,437.6 178.1,437.6 184.8,436.6 196.8,436.6 208.1,438.0 216.5,439.6 245.5,440.3 256.2,443.0 269.5,443.0 269.5,345.8 265.8,345.8 256.5,347.5 245.5,348.2 245.1,348.5 236.8,348.5 232.8,347.8 226.1,345.5 222.1,343.2 219.8,341.1 213.8,337.5 211.5,335.1 209.1,331.8 205.8,329.5 203.1,328.8 193.4,328.5 189.1,327.5 185.1,325.8 171.8,312.1 170.1,311.1 153.8,306.8 146.1,303.4 136.7,303.1 132.7,303.8 118.1,307.8 107.1,309.1 102.4,310.4 96.7,313.1 91.4,317.8 86.4,320.1 76.7,321.1 68.7,321.1 66.0,321.8 63.0,323.8 60.7,326.1 55.0,329.5 53.3,331.1 50.3,336.1 42.0,344.5 38.7,346.2Z"/>
<path fill-rule="evenodd" fill="#ffe000" d="M33.0,347.8 33.0,433.0 40.7,432.3 46.7,430.3 48.0,430.3 58.7,427.3 68.0,422.6 76.0,417.3 83.4,414.3 88.7,413.6 93.0,414.6 99.0,416.9 106.7,423.3 114.4,428.3 119.4,430.6 126.1,432.6 137.1,433.6 144.7,436.0 148.7,436.0 153.1,435.0 177.1,435.3 185.8,433.6 195.4,433.6 203.8,435.3 216.8,436.6 226.8,436.6 233.5,437.6 246.8,437.6 254.2,438.6 269.5,438.6 269.5,347.5 262.8,347.8 258.5,348.8 242.5,350.5 237.5,351.5 233.1,351.2 225.5,348.5 221.5,346.5 211.8,339.1 206.8,333.8 204.5,332.5 191.1,331.8 184.4,330.8 182.1,329.8 179.4,327.1 177.4,323.1 173.1,318.1 171.4,315.4 168.8,312.8 167.4,312.1 159.4,309.8 152.1,308.8 144.4,306.8 134.7,306.4 129.1,307.8 125.4,308.1 117.7,310.1 109.1,310.8 103.7,312.1 99.0,314.8 90.7,320.8 86.0,322.8 78.4,323.8 69.0,323.8 67.0,324.5 61.4,328.8 57.0,330.8 54.7,333.1 52.3,337.5 44.3,344.8 40.0,347.2 36.7,347.8Z"/>
<path fill-rule="evenodd" fill="#ffc800" d="M55.3,394.2 57.4,394.6 59.0,396.9 59.0,400.2 57.0,401.9 55.0,401.2 53.7,399.9 53.0,397.9 53.7,395.6ZM206.1,384.2 206.8,385.2 206.8,387.6 205.5,389.2 204.8,389.2 203.8,387.9 203.8,385.9 205.1,384.2ZM33.0,349.2 33.0,430.3 40.3,429.6 57.7,425.3 60.7,423.9 69.4,417.6 76.0,413.9 84.7,410.6 89.7,410.6 93.0,411.6 98.0,413.9 103.4,417.9 116.4,426.3 125.4,429.3 138.1,430.6 145.7,433.0 176.8,432.6 183.8,431.0 193.8,430.6 206.1,433.0 225.8,433.6 234.1,435.3 248.8,435.3 256.5,434.3 269.5,434.3 269.5,349.2 262.5,349.5 250.8,351.5 244.8,353.2 241.5,355.2 240.5,357.2 240.5,362.2 241.1,364.5 242.8,366.9 248.2,370.2 249.5,371.5 248.8,372.9 244.8,373.9 239.8,373.9 239.5,374.2 226.5,373.9 224.8,373.2 219.8,367.2 216.1,365.2 214.5,363.5 214.5,362.5 217.1,360.5 222.1,359.2 226.5,357.2 227.5,355.8 227.5,354.2 224.8,351.8 214.8,345.8 206.8,338.1 202.1,336.5 186.1,336.5 181.4,338.1 177.1,342.8 174.1,343.2 171.8,341.1 171.1,338.8 171.4,332.8 172.8,327.8 172.4,323.5 169.4,317.8 166.4,314.4 157.8,311.4 145.4,311.1 138.7,309.4 133.4,309.4 127.7,310.1 118.1,312.4 109.1,313.1 106.1,313.8 94.4,320.8 88.7,325.5 83.4,327.8 81.0,330.1 79.0,334.5 77.0,336.5 76.0,336.8 74.4,336.1 70.4,330.8 68.4,330.1 66.4,330.5 58.0,333.8 52.7,341.1 50.0,343.5 46.7,345.5 40.0,348.5Z"/>
<path fill-rule="evenodd" fill="#ffb000" d="M46.3,393.6 47.7,392.2 49.7,391.2 52.7,390.6 58.0,390.6 59.7,391.2 62.4,393.9 63.7,397.6 64.4,400.6 64.4,402.6 63.7,404.3 61.4,406.3 56.7,406.6 49.0,403.2 46.7,400.9 46.0,399.2 45.7,395.2ZM133.1,380.5 134.4,378.9 137.4,378.5 140.1,379.9 141.4,382.2 140.7,383.6 139.4,384.6 136.4,384.9 134.7,384.2 133.4,382.9ZM204.8,378.2 208.8,378.2 210.1,378.9 211.8,380.5 212.5,382.2 212.5,384.2 210.8,390.6 210.1,391.9 208.1,393.9 206.8,394.6 203.1,394.6 201.1,393.6 199.1,391.6 198.1,388.9 198.1,385.6 199.1,382.5 201.5,379.9ZM132.4,362.9 132.4,364.5 131.4,366.5 129.4,368.5 126.4,369.9 122.7,369.9 119.4,368.9 117.7,367.9 116.1,365.5 116.4,363.5 118.4,361.8 125.7,359.5 129.1,359.8 131.1,360.8ZM33.0,350.2 33.0,427.6 40.3,427.3 54.7,423.6 58.4,421.9 64.0,416.6 74.0,409.9 82.4,407.6 90.0,407.3 96.4,409.3 103.4,415.6 118.4,423.9 125.4,426.3 138.7,428.0 146.4,429.6 176.1,429.6 182.4,428.6 197.4,428.6 207.5,430.3 224.5,430.3 234.5,432.6 246.2,432.6 254.5,430.6 269.5,430.6 269.5,350.8 263.2,351.2 252.8,353.8 249.8,355.8 248.5,358.5 248.5,362.5 249.2,364.2 251.5,366.5 257.5,368.5 261.8,370.5 263.5,372.2 263.2,373.2 261.8,374.2 256.5,376.2 244.1,377.9 226.1,377.9 222.1,377.2 219.8,375.9 215.5,370.9 205.5,365.2 203.8,363.2 204.1,361.8 205.1,360.8 214.5,355.8 216.5,354.2 216.5,352.5 206.1,342.5 202.5,341.1 188.4,341.1 185.1,342.2 180.4,346.5 177.4,347.8 172.4,347.8 168.8,346.8 166.1,345.5 164.8,344.2 163.4,339.8 163.4,335.8 164.1,332.1 167.4,325.8 167.4,323.1 165.8,319.8 161.8,316.1 158.1,314.4 156.4,314.1 153.1,314.4 147.7,317.4 144.7,317.8 142.7,316.8 140.1,314.4 137.1,313.1 134.7,312.8 126.7,313.1 119.1,315.1 110.1,315.8 106.1,316.8 103.4,318.1 97.0,322.5 90.4,329.1 86.0,332.5 85.0,334.1 84.0,338.5 82.7,341.8 80.7,344.2 79.0,345.2 76.7,345.8 69.0,345.8 64.7,344.2 60.7,340.8 58.4,340.8 54.0,344.2 50.3,346.2 39.7,349.8Z"/>
<path fill-rule="evenodd" fill="#ff9c00" d="M164.8,359.2 166.1,358.8 167.8,359.2 169.1,360.2 170.1,361.8 169.8,364.9 167.4,366.9 165.1,366.9 163.8,366.2 162.4,364.2 162.4,361.5ZM110.7,362.9 113.1,360.5 114.4,359.8 124.1,357.2 131.7,356.8 135.7,358.2 138.1,361.2 138.4,364.5 137.7,366.5 134.7,370.9 134.7,372.9 147.1,379.9 149.1,382.2 148.7,383.6 147.4,384.9 142.7,386.9 138.7,387.6 135.1,387.2 131.4,385.6 129.4,383.6 128.1,380.9 126.1,378.5 123.7,377.9 117.1,377.5 115.1,376.9 112.1,373.9 110.4,369.5 110.1,364.2ZM269.5,353.2 264.5,353.5 259.2,355.5 254.8,359.2 254.2,360.5 254.5,362.9 255.8,364.2 259.8,366.2 264.2,367.5 269.5,367.9ZM33.0,351.8 33.0,425.3 40.3,425.0 50.3,421.9 54.0,419.9 58.4,415.9 59.7,413.6 59.7,412.3 58.0,410.6 55.0,408.9 47.7,405.9 45.0,404.3 43.0,401.6 41.3,396.2 41.7,391.9 43.3,390.2 45.3,389.2 48.7,388.6 58.4,388.6 60.7,389.2 63.0,390.6 65.7,393.2 67.0,395.6 71.4,400.9 74.7,403.6 77.7,404.3 83.0,403.6 91.7,403.6 95.7,404.6 98.0,405.9 100.7,408.6 103.0,412.3 106.7,415.3 123.4,422.3 133.1,425.0 147.1,426.6 197.4,426.6 204.1,427.6 223.1,427.6 223.5,428.0 227.5,428.0 235.8,429.6 244.5,429.6 252.8,428.0 257.5,428.0 257.8,427.6 269.5,427.6 269.5,376.5 263.5,376.9 256.2,378.9 254.5,378.9 244.5,381.2 231.1,381.2 230.8,381.5 223.8,381.9 221.8,382.9 215.5,389.6 213.8,392.2 210.5,395.6 208.5,396.6 202.5,396.9 196.1,394.6 193.8,393.2 191.8,391.2 190.8,388.9 191.1,384.6 193.1,381.5 199.8,376.9 205.1,373.9 206.1,372.2 203.8,369.9 194.8,364.9 192.8,362.5 192.8,360.5 195.4,357.8 205.8,354.5 207.1,353.2 207.1,351.5 205.5,349.8 201.1,348.5 189.1,348.5 186.8,348.8 182.8,350.5 177.8,351.8 168.1,351.5 162.8,349.8 160.1,347.2 158.8,342.5 158.8,331.5 159.8,327.1 159.8,323.8 158.1,321.5 156.4,320.8 154.1,321.5 150.7,324.5 148.4,325.8 140.4,327.5 138.1,327.5 137.1,327.1 134.7,324.8 132.7,320.4 130.7,318.4 128.4,317.4 117.1,317.8 107.7,319.1 103.7,321.1 93.7,332.5 91.4,336.5 89.7,343.5 88.7,345.8 87.4,347.5 83.4,349.8 78.7,350.8 69.4,350.8 65.4,349.8 60.7,347.5 57.4,346.8 47.0,348.8 40.3,351.2Z"/>
<path fill-rule="evenodd" fill="#ff8400" d="M33.0,397.6 33.0,422.6 39.3,422.3 47.0,419.3 50.7,417.3 52.0,415.9 53.0,413.9 53.0,412.6 52.3,411.3 50.3,409.6 43.3,406.3 36.7,398.6 34.3,397.6ZM269.5,425.3 269.5,379.2 264.5,379.2 256.2,381.5 252.2,383.2 246.2,387.2 242.1,387.9 234.8,388.2 231.8,389.6 229.1,391.9 226.8,393.2 217.8,394.9 210.8,398.2 206.5,399.2 201.1,398.9 183.4,394.9 157.4,394.9 154.8,394.2 148.1,390.6 144.4,389.9 135.4,389.6 130.7,388.2 124.7,385.6 121.4,385.6 121.1,385.2 114.4,385.6 110.1,386.6 105.7,388.2 102.7,391.2 100.4,398.2 100.4,400.9 102.0,405.3 105.7,410.9 108.1,412.9 115.4,416.3 125.7,418.6 132.4,421.3 137.7,422.6 147.7,422.9 148.1,423.3 175.1,423.3 184.1,424.6 197.4,424.6 202.5,425.3 223.1,425.3 235.8,426.6 244.5,426.6 256.2,425.3ZM179.1,372.2 180.1,376.5 181.8,378.2 184.1,379.2 186.8,379.2 188.8,378.5 193.8,375.9 196.4,373.5 196.4,372.2 195.1,370.5 187.1,366.5 183.4,366.5 181.1,367.9 179.4,370.5ZM269.5,358.5 266.2,358.8 264.2,359.8 263.5,360.8 263.8,362.5 265.8,363.5 269.5,363.9ZM33.0,353.8 33.0,387.6 44.7,386.2 59.0,386.9 65.7,389.2 71.0,391.9 76.4,395.6 77.7,395.9 79.4,395.6 81.0,394.2 83.0,390.2 84.0,386.2 84.0,381.2 82.4,377.9 80.7,376.5 78.4,375.5 67.7,373.5 65.7,371.9 66.0,369.9 70.7,365.5 71.4,363.5 70.7,360.5 68.7,358.5 65.4,356.5 60.7,352.5 56.7,350.8 54.3,350.5 46.7,350.8 40.0,353.2ZM107.1,323.1 105.4,324.8 104.4,326.8 102.0,333.5 100.7,335.5 97.0,339.1 95.0,342.8 93.0,352.2 93.4,354.5 94.4,356.2 97.7,358.2 100.7,359.2 105.7,359.8 114.7,356.8 117.7,356.5 127.4,353.8 134.1,350.5 136.1,350.2 137.1,350.5 138.7,352.2 143.4,361.5 143.7,362.9 143.4,371.5 144.4,372.9 146.7,373.9 149.4,373.2 150.7,370.9 151.1,364.2 153.4,354.8 153.1,340.5 152.1,336.5 150.7,333.8 148.4,332.1 146.7,331.8 144.7,332.1 141.7,333.8 139.4,335.8 138.1,336.5 136.7,336.5 133.7,333.5 129.1,324.1 127.1,322.1 123.4,320.8 115.1,320.4 111.7,321.1Z"/>
<path fill-rule="evenodd" fill="#ff6c00" d="M33.0,404.9 33.0,418.9 36.0,418.9 40.3,417.9 44.3,415.9 46.7,413.9 47.0,413.3 46.7,411.9 39.3,406.6 36.3,405.3ZM105.7,400.9 106.4,404.6 107.7,406.6 112.7,411.3 117.4,413.3 130.4,414.9 137.1,416.6 156.1,416.9 164.8,418.9 176.4,419.3 185.4,421.9 195.4,421.9 195.8,422.3 204.1,422.3 204.5,422.6 225.1,422.6 225.5,422.9 232.1,422.9 232.5,423.3 247.2,423.3 251.8,422.6 269.5,422.6 269.5,397.6 265.2,397.2 257.5,395.2 254.2,394.9 235.5,395.2 229.5,396.9 222.1,397.9 210.8,401.2 206.5,401.9 202.8,401.9 186.1,399.9 154.4,399.9 149.1,398.6 139.4,392.9 126.1,390.2 118.1,390.2 114.4,391.2 112.7,392.2 107.1,397.9ZM269.5,382.5 264.8,383.2 263.2,384.6 263.2,385.2 263.8,386.2 265.2,386.9 269.5,387.2ZM33.0,358.5 33.0,367.9 35.3,367.9 39.0,369.2 41.3,371.5 42.7,374.2 43.3,379.9 44.3,381.5 45.3,382.2 50.7,383.9 59.0,384.9 68.4,387.2 75.0,387.2 76.7,386.6 77.7,385.6 78.4,383.2 77.7,381.5 76.7,380.5 71.7,378.5 62.0,376.9 58.0,375.5 55.0,373.5 54.7,371.5 55.3,370.2 60.0,365.2 60.7,362.5 59.4,359.8 52.7,354.5 49.7,353.5 47.3,353.5 43.3,354.8 38.7,357.5 36.7,358.2ZM144.7,341.5 143.1,343.5 143.1,346.5 145.1,352.5 146.1,353.5 146.7,353.5 148.1,350.8 148.1,344.5 147.4,342.5 146.4,341.5ZM120.4,324.8 118.4,324.1 116.1,324.1 113.4,325.5 112.4,327.1 112.1,331.8 110.7,335.8 109.1,337.8 106.1,339.8 103.4,342.8 102.4,346.2 102.4,349.8 103.4,352.5 104.7,353.8 106.4,354.5 110.4,354.5 119.1,352.5 127.7,346.8 129.4,345.2 130.4,341.5 128.1,332.5 127.1,330.8Z"/>
<path fill-rule="evenodd" fill="#ff5000" d="M33.0,410.3 33.0,413.9 36.3,413.6 37.7,412.6 37.3,411.3 34.7,410.3ZM269.5,416.6 269.5,407.3 266.2,407.3 263.8,406.6 261.5,405.3 257.8,401.6 255.8,400.6 251.5,399.9 235.1,399.9 226.1,400.9 222.5,401.9 216.8,404.6 205.1,407.3 171.4,407.3 165.8,407.9 164.4,408.6 163.4,409.9 163.8,412.3 167.1,413.9 177.1,414.3 187.1,416.6 203.1,416.6 215.1,418.9 246.2,418.9 254.8,416.9ZM113.7,401.9 114.4,404.3 116.4,406.3 119.1,407.6 124.4,408.9 129.4,408.9 132.7,408.3 138.4,405.9 139.7,404.3 139.7,401.6 137.4,398.6 135.1,397.2 129.1,395.6 124.1,395.6 118.1,397.2 114.4,400.2ZM47.3,360.2 45.3,361.5 45.0,363.5 46.0,365.2 48.0,365.9 49.0,365.5 50.3,364.2 50.3,361.8 49.0,360.5Z"/>
<path fill-rule="evenodd" fill="#ff3000" d="M247.8,409.9 246.2,408.3 244.1,407.6 240.1,407.6 239.8,407.3 226.1,407.6 216.5,410.3 215.1,410.9 214.5,412.3 215.5,413.3 217.8,413.9 239.8,414.3 240.1,413.9 244.1,413.9 246.2,413.3 247.8,411.6Z"/>
<path fill="none" stroke="#000" stroke-opacity="0.6" stroke-width="0.5" d="M259.9,289.4 260.4,294.1 262.0,297.1 264.8,298.6 269.5,299.1M254.6,289.4 255.3,296.7 256.0,298.7 257.3,300.4 259.3,301.8 261.8,302.6 269.5,303.2M33.0,306.3 36.7,306.0 39.3,305.2 44.7,300.9 47.0,299.7 55.3,298.8 58.4,297.8 60.1,296.4 61.5,294.4 62.4,289.4M230.3,289.4 230.7,302.4 232.1,305.5 234.8,307.8 237.1,308.5 240.1,308.8 269.5,308.9M33.0,308.5 38.9,307.8 47.7,303.2 56.3,301.8 59.4,300.7 62.4,298.4 65.4,295.1 66.9,292.4 67.7,289.4M225.0,289.4 225.5,295.1 227.6,304.1 230.4,308.1 234.1,311.0 237.1,312.0 241.5,312.3 269.5,312.5M33.0,311.0 39.0,310.3 48.0,306.6 60.4,303.7 68.4,299.0 76.4,296.4 79.0,295.1 81.2,292.7 82.1,289.4M214.3,289.4 214.7,292.7 215.8,295.1 221.1,299.7 224.5,306.2 226.8,309.3 229.8,312.1 232.8,314.1 236.8,315.3 244.8,316.3 269.5,316.4M33.0,312.8 39.0,312.2 49.3,308.0 60.4,305.3 78.0,298.0 81.4,296.1 84.2,293.7 85.5,291.7 86.1,289.4M212.5,289.4 213.0,293.4 214.3,296.4 219.6,301.4 223.4,308.1 225.8,311.3 227.8,313.1 231.1,315.1 235.8,316.8 245.1,318.3 269.5,318.4M33.0,314.9 40.5,314.1 52.7,308.9 61.4,306.8 71.7,303.4 78.4,300.4 89.2,294.4 91.1,292.4 92.0,289.4M210.6,289.4 211.1,293.7 212.5,297.1 218.1,303.7 224.0,312.8 226.8,315.1 234.1,318.2 245.1,320.7 269.5,320.9M33.0,316.2 38.0,316.0 41.7,315.3 54.3,309.6 70.4,305.6 74.7,304.0 84.0,298.7 92.6,294.7 94.8,292.4 95.6,289.4M209.3,289.4 209.8,294.1 211.5,297.7 218.8,307.3 222.8,313.6 225.5,315.8 234.1,319.5 245.1,322.6 269.5,322.5M33.0,317.7 39.0,317.4 44.1,316.4 48.0,315.0 56.0,310.6 77.0,305.4 84.7,300.3 93.2,297.1 97.0,295.1 99.0,292.7 99.6,289.4M207.3,289.4 207.8,293.7 209.5,297.4 221.3,314.4 223.8,316.8 235.5,321.9 244.1,324.8 247.8,325.1 269.5,324.3M33.0,318.7 39.7,318.4 45.7,317.3 49.0,316.1 54.0,312.7 57.0,311.4 78.0,306.5 85.7,301.3 98.7,296.1 100.9,293.4 101.7,289.4M205.5,289.4 205.9,292.7 206.6,295.1 213.1,305.8 217.5,310.9 220.5,315.5 223.1,317.7 229.1,320.1 236.8,324.1 243.5,326.3 247.2,326.5 269.5,325.4M33.0,320.1 40.3,319.8 46.7,318.8 50.0,317.5 55.5,313.8 59.0,312.3 65.0,310.6 75.0,309.1 79.0,308.0 87.0,302.8 98.0,298.6 100.9,297.1 103.6,293.7 104.5,289.4M202.9,289.4 203.2,293.1 204.2,295.7 208.8,301.4 212.8,308.9 218.9,316.4 221.8,318.7 228.5,321.5 235.1,326.0 241.8,328.0 246.5,328.3 261.5,326.9 269.5,326.7M121.7,456.0 121.3,454.0 120.3,452.3 118.7,451.2 116.3,450.3 106.1,449.1 89.4,449.0 80.0,449.1 76.0,449.9 73.6,452.0 72.6,456.0M33.0,321.2 40.3,320.9 46.7,320.0 50.3,318.6 57.0,314.4 61.7,312.6 66.7,311.3 76.4,310.0 79.7,309.0 88.3,303.8 99.0,299.6 102.3,297.7 105.8,294.1 106.6,292.1 107.0,289.4M200.9,289.4 201.3,293.7 202.3,296.4 207.5,301.8 211.4,309.8 216.5,316.1 220.4,319.4 228.1,322.8 233.5,327.3 238.1,328.8 244.5,329.6 261.5,327.8 269.5,327.5M125.7,456.0 125.2,453.7 123.9,451.7 121.6,450.0 118.4,448.8 106.1,447.0 88.7,446.8 78.4,447.0 73.4,448.2 71.1,449.7 69.6,451.3 68.7,453.3 68.4,456.0M33.0,323.2 40.0,322.9 46.3,321.9 50.0,320.5 57.7,315.9 63.4,313.6 67.7,312.6 76.7,311.7 80.4,310.6 91.4,304.4 100.7,300.7 106.8,297.1 110.6,293.7 111.5,291.7 111.8,289.4M198.1,289.4 198.3,294.1 199.3,297.4 200.8,299.4 205.8,303.8 209.0,311.1 211.3,314.4 216.7,319.8 226.0,324.1 230.1,328.5 231.8,329.7 236.1,330.9 243.8,331.7 260.5,329.1 269.5,328.6M131.5,456.0 130.8,453.0 129.4,451.0 126.7,449.2 122.4,447.6 105.4,444.3 87.7,443.9 75.7,444.2 71.4,445.1 66.7,446.8 64.7,448.2 63.4,450.0 62.7,452.3 62.5,456.0M33.0,326.5 37.0,326.0 47.0,323.3 57.0,317.5 64.4,314.4 68.0,313.6 77.0,312.9 81.4,311.6 92.7,305.2 101.0,302.0 110.5,297.1 114.9,293.4 116.3,291.4 116.9,289.4M194.0,289.4 194.6,296.7 196.4,300.8 203.1,305.6 207.1,313.1 214.1,320.4 217.1,322.6 223.8,325.8 227.4,330.1 229.2,331.5 234.1,332.9 243.8,333.7 252.8,331.3 259.4,330.1 269.5,329.4M136.6,456.0 135.5,453.3 133.4,451.0 130.3,448.7 126.7,447.1 114.4,444.7 106.7,442.3 96.4,440.3 87.4,439.8 77.4,440.3 65.7,442.9 61.7,444.4 59.4,446.0 58.1,448.0 57.4,451.0 57.2,456.0M33.0,338.2 35.7,337.6 37.7,336.2 41.7,329.8 43.7,327.8 48.7,325.0 55.7,319.9 62.4,316.6 67.0,315.2 77.4,314.5 81.6,313.4 85.7,311.5 93.7,306.6 117.1,296.9 123.4,295.8 136.1,294.9 147.1,295.0 155.1,296.3 159.8,297.9 164.5,302.1 167.1,303.4 179.1,305.8 187.1,308.4 194.4,309.1 197.1,309.8 199.1,311.2 202.8,314.9 209.1,318.9 214.8,324.8 220.1,328.2 224.7,333.5 227.8,334.9 245.5,337.7 247.8,336.9 252.7,333.8 256.3,332.5 262.8,330.9 269.5,330.6M249.8,456.0 249.2,453.7 247.8,452.0 245.5,450.7 242.1,450.2 216.5,450.1 202.5,449.0 168.1,449.0 157.4,447.5 147.4,449.8 139.4,449.3 135.4,448.2 127.1,444.7 116.4,443.0 112.7,441.9 102.8,437.3 101.1,435.6 98.4,431.7 96.4,430.0 92.6,428.6 88.4,427.8 85.7,428.2 76.2,431.3 69.1,436.3 62.7,439.1 58.4,440.1 47.7,441.4 45.0,442.4 39.0,445.8 33.0,446.6M33.0,340.7 35.7,340.3 37.7,339.3 39.7,337.1 43.2,331.5 44.9,329.5 55.3,321.5 62.7,317.5 67.4,316.1 77.7,315.5 82.7,314.4 86.7,312.5 94.4,307.5 116.7,299.0 124.1,297.5 136.1,296.5 146.7,296.5 153.4,297.8 158.4,299.7 162.8,303.1 165.4,304.4 178.4,307.5 187.1,311.9 195.8,313.8 200.8,316.8 207.8,320.1 213.7,326.1 219.1,330.1 222.9,334.5 227.1,336.6 237.5,338.6 243.8,340.5 247.5,340.7 251.5,339.4 255.7,335.1 259.3,333.1 263.8,331.9 269.5,331.6M254.9,456.0 253.5,453.3 250.7,451.0 247.2,449.2 243.1,448.5 216.1,448.3 202.5,446.9 168.1,446.8 164.1,446.4 157.4,444.7 155.4,445.0 150.7,447.1 147.7,447.9 144.4,448.0 140.1,447.5 135.4,446.3 127.4,443.1 117.1,441.6 113.4,440.5 104.4,435.8 99.7,430.2 97.4,428.2 91.7,425.8 88.4,425.0 86.0,425.4 74.4,430.1 64.0,436.3 61.0,437.7 47.0,439.9 38.3,442.9 33.0,443.5M33.0,342.8 36.3,342.4 38.7,341.3 47.6,330.1 55.6,323.1 63.4,318.5 67.7,317.3 78.0,316.8 83.5,315.8 87.4,314.3 93.0,309.8 97.4,307.8 121.1,300.2 136.7,298.0 145.4,298.1 150.4,298.9 156.1,301.1 163.7,305.4 177.9,309.4 180.8,311.1 184.8,314.7 186.8,316.0 204.1,321.2 206.8,322.3 220.7,335.1 223.8,337.3 242.1,342.9 248.0,343.5 255.8,342.4 258.9,340.5 260.7,336.5 262.3,334.8 265.0,333.8 269.5,333.4M269.5,450.1 256.2,449.9 247.2,447.2 243.5,446.6 216.1,446.4 201.8,444.3 168.4,444.3 164.8,443.8 157.4,441.9 154.4,442.5 148.3,445.7 143.1,445.8 136.7,444.2 128.4,441.1 117.7,439.7 113.7,438.5 106.1,434.0 100.4,428.0 97.4,425.6 92.0,422.9 88.4,422.0 85.7,422.5 80.0,425.9 67.8,431.0 62.0,434.9 59.4,436.1 46.3,438.3 38.3,440.4 33.0,440.7M33.0,343.9 36.7,343.5 39.5,342.2 47.3,332.5 52.0,327.5 57.0,323.5 64.0,319.1 68.0,318.0 78.7,317.6 85.0,316.5 88.7,314.8 94.3,310.1 98.4,308.4 123.7,301.0 137.7,299.0 145.1,299.1 149.4,299.8 162.8,306.0 171.1,308.2 176.2,310.1 179.2,311.8 183.8,316.4 186.4,318.1 195.4,321.6 203.8,323.1 206.8,324.3 209.8,326.6 218.7,335.1 223.4,338.5 239.5,343.8 246.5,344.8 256.7,343.8 261.9,341.5 266.5,337.3 269.5,336.6M269.5,448.4 255.8,448.2 246.8,445.8 243.1,445.3 215.8,445.0 202.5,442.6 167.8,442.5 157.4,440.5 154.1,441.1 147.7,444.3 143.7,444.5 129.5,440.0 118.1,438.4 114.1,437.3 107.5,433.0 97.0,423.7 92.1,421.3 88.4,420.5 84.7,421.2 78.8,425.0 66.2,430.3 61.0,433.8 58.4,435.0 39.0,439.0 33.0,439.4M33.0,344.9 37.5,344.5 40.3,343.1 53.0,328.3 64.7,320.1 68.7,319.1 79.4,318.6 85.7,317.7 89.4,316.1 95.7,310.9 102.7,308.2 130.2,301.4 139.7,300.3 145.1,300.5 148.4,301.1 161.1,306.6 172.7,310.1 177.2,312.8 182.8,318.3 186.1,320.7 194.1,324.5 203.5,325.5 206.8,326.6 210.1,329.1 215.5,334.8 220.5,338.5 224.8,341.0 233.1,344.3 240.4,345.8 246.8,346.1 255.5,345.5 264.8,343.4 269.5,343.0M269.5,446.5 255.5,446.2 243.1,443.5 216.5,443.2 206.1,440.8 195.8,440.0 169.4,440.5 156.8,439.1 153.1,439.7 147.4,442.3 144.1,442.4 131.7,438.8 119.1,436.9 115.1,435.8 112.4,434.3 104.7,428.3 97.4,421.7 92.7,419.7 88.4,418.8 86.0,419.0 83.7,419.8 76.9,423.9 65.4,429.0 57.0,433.6 39.7,437.4 33.0,437.9M33.0,345.6 37.8,345.2 41.0,343.6 48.7,335.5 53.7,328.9 65.4,320.7 69.0,319.8 79.7,319.4 86.4,318.5 90.1,316.8 96.1,311.8 103.0,309.0 118.1,305.9 132.7,302.0 140.1,301.4 147.7,302.1 155.1,305.4 171.4,310.4 175.5,313.1 183.1,320.6 186.8,323.3 193.6,326.1 203.5,327.0 206.8,328.0 209.5,329.9 213.6,334.8 216.0,336.8 224.5,342.3 232.3,345.5 237.8,346.7 245.8,347.0 255.2,346.3 264.2,344.7 269.5,344.4M269.5,445.1 255.5,444.9 243.5,442.2 216.5,441.7 206.5,439.6 194.8,438.6 170.1,439.3 156.4,438.2 153.1,438.7 147.4,440.8 144.4,440.9 135.2,438.3 120.7,436.1 115.7,434.7 104.7,426.9 98.0,420.7 93.7,418.9 88.4,417.8 85.7,418.0 83.0,418.9 72.4,425.0 65.0,428.1 56.3,432.5 40.0,436.4 33.0,436.9M33.0,346.4 38.3,345.9 42.0,344.2 49.5,336.8 54.6,329.8 66.0,321.8 69.4,321.0 80.0,320.6 86.7,319.7 90.7,317.9 97.4,312.7 104.1,309.8 118.7,307.3 134.2,303.4 139.7,302.9 146.7,303.6 153.7,306.4 170.1,311.1 173.3,313.4 183.4,324.1 185.4,325.7 192.4,328.0 203.1,328.8 206.1,329.6 208.5,331.1 212.4,335.8 214.7,337.8 224.1,344.2 231.1,347.0 236.1,348.1 244.5,348.2 269.5,345.7M269.5,443.2 255.8,443.0 244.1,440.5 216.1,439.6 206.8,438.1 194.1,436.8 186.4,436.8 172.4,437.9 156.4,437.0 147.4,438.9 144.4,438.9 136.7,436.9 123.4,435.0 117.1,433.3 105.5,425.6 98.4,419.3 93.4,417.4 88.0,416.4 85.0,416.7 81.7,417.9 70.7,424.3 56.7,430.6 40.3,435.0 33.0,435.6M33.0,346.9 38.7,346.4 42.7,344.5 50.0,337.8 55.2,330.5 61.0,326.9 66.7,322.6 69.7,321.9 80.4,321.6 86.7,320.7 90.7,319.0 98.8,313.1 104.4,310.5 118.7,308.3 134.7,304.6 139.1,304.2 146.1,304.9 152.4,307.1 168.9,311.4 172.1,313.8 179.1,321.5 182.4,325.8 184.1,327.2 186.8,328.3 191.4,329.3 202.8,330.0 205.8,330.8 208.1,332.4 213.1,338.0 222.5,344.7 225.5,346.3 231.1,348.3 235.1,349.3 239.5,349.3 269.5,346.5M269.5,441.5 256.2,441.3 244.8,439.4 215.8,438.3 193.4,435.5 186.4,435.6 173.4,436.9 156.1,436.2 147.4,437.7 144.7,437.7 136.4,435.6 124.1,434.0 118.1,432.2 114.7,430.5 106.4,424.9 98.7,418.4 93.7,416.5 88.0,415.4 84.4,415.8 79.1,417.9 75.4,419.8 69.6,423.6 57.7,429.1 40.3,433.9 33.0,434.6M33.0,347.7 39.0,347.1 43.4,345.2 50.7,339.1 56.1,331.5 62.0,328.1 67.7,324.1 70.7,323.6 81.0,323.3 87.4,322.1 90.7,320.5 101.7,313.1 106.1,311.3 117.7,309.8 133.7,306.6 138.1,306.1 144.4,306.7 157.8,309.4 167.8,312.2 170.8,314.5 177.2,322.8 180.1,327.7 182.1,329.5 187.4,331.0 202.1,332.0 205.1,332.7 207.1,334.0 212.8,339.7 221.5,346.2 224.5,347.8 232.5,350.7 237.1,351.2 263.2,347.8 269.5,347.5M269.5,438.9 256.5,438.8 247.2,438.0 235.1,437.8 225.1,436.8 215.5,436.6 192.4,433.8 185.8,434.0 175.1,435.5 156.4,435.0 145.1,436.1 136.7,433.9 125.1,432.5 119.1,430.5 114.7,428.5 108.6,424.6 98.7,417.1 92.7,414.8 87.7,413.9 83.7,414.5 76.0,417.6 68.1,422.6 58.4,427.4 40.0,432.5 33.0,433.1M33.0,348.2 39.3,347.6 44.2,345.5 51.2,340.1 57.0,332.1 68.0,326.0 70.7,325.5 77.4,325.8 87.0,323.6 90.0,322.1 102.6,313.8 106.4,312.2 117.4,310.8 126.4,308.9 137.4,307.5 157.4,310.1 166.8,312.8 169.7,315.1 174.6,322.1 176.0,324.8 177.7,330.1 179.4,332.1 183.1,332.9 201.1,333.7 204.5,334.3 206.8,335.6 213.5,341.8 220.8,347.3 233.8,353.3 236.1,353.5 243.2,351.5 261.8,348.6 269.5,348.1M269.5,437.1 234.8,436.8 225.1,435.6 206.5,434.6 196.8,432.8 192.1,432.5 185.4,432.7 174.8,434.4 156.8,434.1 145.4,434.8 136.7,432.5 125.4,431.2 117.7,428.6 112.4,425.9 98.4,415.9 92.0,413.5 87.7,412.6 83.7,413.2 75.4,416.5 62.9,424.3 58.4,426.5 39.7,431.4 33.0,431.9M33.0,348.8 40.3,348.1 47.9,344.5 52.1,341.5 58.0,333.8 66.4,330.4 68.4,330.1 70.0,330.6 71.4,331.7 74.4,335.9 75.7,336.5 77.0,336.3 78.4,335.1 80.9,330.1 82.7,328.2 88.7,325.1 95.3,320.1 105.7,313.9 109.1,313.1 118.1,312.1 126.7,310.2 136.4,309.2 146.7,311.0 158.0,311.4 164.4,313.4 167.3,315.1 170.5,319.4 172.6,324.1 172.8,327.5 171.5,334.1 171.4,338.1 172.1,341.1 173.8,342.8 175.4,343.1 176.8,342.8 181.4,338.0 185.8,336.5 201.8,336.4 204.8,337.1 207.1,338.4 214.8,345.5 225.9,352.5 227.5,354.2 227.6,355.8 226.1,357.4 216.3,361.2 214.7,362.9 215.2,364.2 220.1,367.4 223.8,372.1 226.1,373.5 230.1,374.0 240.1,373.8 245.8,373.4 249.0,372.5 249.5,371.9 249.0,371.2 243.2,367.2 241.1,364.5 240.4,361.8 240.3,358.8 240.6,356.8 241.4,355.2 244.1,353.4 250.6,351.5 262.8,349.4 269.5,349.1M205.7,388.9 206.5,387.6 206.6,385.9 206.2,384.6 205.5,384.3 204.3,385.2 204.0,387.2 204.7,388.9 205.7,388.9M57.1,401.6 58.7,400.2 58.7,396.9 57.4,394.8 55.3,394.6 53.7,396.0 53.4,398.6 54.9,400.9 57.1,401.6M269.5,434.6 236.1,435.5 224.5,433.8 206.1,433.0 197.1,431.3 191.8,430.9 184.8,431.2 174.1,432.9 157.1,432.6 145.7,433.0 137.4,430.8 125.7,429.4 117.1,426.6 113.2,424.6 97.4,413.9 91.4,411.3 87.4,410.6 83.4,411.3 74.7,414.9 67.4,419.2 61.3,423.6 58.0,425.2 40.0,429.7 33.0,430.3M33.0,349.4 40.7,348.5 50.0,344.5 53.1,342.2 58.4,336.1 61.4,334.8 66.0,334.8 67.4,335.7 69.7,339.0 71.4,340.3 74.4,341.2 77.0,340.9 78.7,339.9 80.0,338.2 82.6,332.1 84.0,330.1 89.7,326.4 95.4,321.4 104.7,315.6 108.4,314.3 117.7,313.3 126.1,311.4 135.4,310.6 139.4,311.0 146.1,313.0 153.8,312.1 157.8,312.4 162.9,314.1 166.4,316.4 169.5,320.8 170.7,324.8 170.4,327.8 167.9,334.5 167.8,340.1 169.1,342.9 172.1,345.0 174.8,345.6 177.4,345.1 179.4,343.8 183.1,339.8 186.8,338.5 201.8,338.3 204.8,338.9 207.1,340.2 213.5,346.5 221.1,351.8 222.6,354.2 222.1,355.5 220.5,356.8 211.8,360.6 210.4,362.2 210.4,363.9 212.4,365.9 218.4,369.2 222.1,373.7 224.8,375.2 229.5,375.7 244.5,375.6 252.8,374.6 256.4,373.5 257.3,372.5 256.8,371.5 249.2,368.0 245.3,364.5 244.1,360.8 244.6,356.5 247.0,354.2 251.5,352.4 262.5,350.2 269.5,349.7M126.4,366.2 127.7,365.5 128.5,364.5 128.6,363.5 127.8,362.5 125.1,362.1 122.5,363.5 122.2,364.5 123.1,365.6 124.7,366.3 126.4,366.2M206.5,392.2 208.5,389.8 209.4,384.6 208.5,381.8 207.1,381.0 205.8,380.8 203.8,381.4 202.2,382.9 201.4,384.9 201.2,387.9 201.7,390.2 202.8,391.7 204.5,392.5 206.5,392.2M59.0,403.9 60.7,402.6 61.3,400.6 60.9,396.6 59.7,393.9 58.0,392.7 56.0,392.2 53.3,392.7 51.1,393.9 50.0,395.2 49.6,397.2 49.9,399.2 50.9,400.9 52.8,402.6 55.0,403.7 57.0,404.2 59.0,403.9M269.5,432.8 256.8,432.9 246.5,434.3 237.1,434.5 224.8,432.5 207.1,431.9 197.1,430.2 191.8,429.9 184.4,430.1 173.8,431.6 146.1,431.6 138.1,429.7 126.1,428.2 117.4,425.4 105.1,418.1 96.0,411.7 91.4,409.8 87.4,409.2 82.7,409.9 74.7,413.1 66.7,417.8 60.7,422.6 57.4,424.3 40.3,428.6 33.0,429.3M33.0,350.1 38.3,349.8 42.7,348.7 51.9,345.2 57.4,341.3 59.0,340.6 61.0,341.0 65.2,344.2 68.0,345.3 74.0,345.7 78.7,345.0 80.7,343.8 82.4,341.8 85.0,334.1 86.4,332.0 91.2,328.1 96.6,322.8 103.7,317.9 109.1,315.9 118.4,314.9 126.7,313.1 133.1,312.7 138.4,313.5 143.4,316.9 145.1,317.5 147.7,317.1 153.0,314.4 156.1,314.1 160.1,315.1 164.3,318.1 166.9,321.5 167.6,324.5 167.1,326.8 164.1,333.1 163.8,340.8 165.0,344.2 168.1,346.3 173.1,347.6 177.4,347.5 180.5,346.2 185.1,342.1 188.8,341.1 201.8,341.1 204.5,341.6 206.5,342.6 215.8,351.5 216.7,353.5 215.0,355.5 205.0,361.2 204.2,362.2 204.2,363.5 206.3,365.5 215.6,370.9 219.8,375.5 222.5,377.0 228.1,377.6 245.5,377.5 256.2,376.0 261.9,373.9 263.3,372.5 262.4,371.2 259.2,369.5 252.2,366.9 249.6,364.9 248.3,361.8 248.7,357.8 250.5,355.2 253.6,353.5 262.5,351.3 269.5,350.8M126.6,369.5 129.7,368.0 131.9,365.2 132.0,362.5 130.4,360.7 127.4,359.8 123.7,360.2 119.0,361.8 116.5,363.9 116.6,366.2 118.7,368.2 122.7,369.6 126.6,369.5M206.9,394.2 209.0,392.9 210.3,390.9 211.8,386.2 212.2,382.9 211.8,380.9 210.8,379.5 208.8,378.5 206.5,378.3 203.1,379.1 200.3,381.2 198.8,383.9 198.3,387.6 199.0,390.9 200.8,393.1 203.8,394.4 206.9,394.2M138.4,384.6 140.0,383.9 140.9,382.9 141.1,381.9 140.4,380.5 139.1,379.4 137.1,378.8 135.4,378.8 133.9,379.5 133.2,381.2 133.8,383.2 135.7,384.4 138.4,384.6M60.6,406.3 63.2,404.6 64.1,401.9 62.9,395.9 61.0,392.5 58.4,391.0 55.0,390.6 49.7,391.6 47.0,393.0 46.0,394.9 46.0,397.6 46.6,400.2 48.0,402.2 50.7,403.9 55.3,405.9 58.0,406.5 60.6,406.3M269.5,430.6 255.8,430.8 246.2,432.7 239.5,432.9 234.1,432.6 224.8,430.7 206.8,430.3 194.1,428.7 184.8,428.8 172.8,429.8 145.7,429.6 126.7,426.6 118.4,424.0 104.7,416.6 96.0,409.4 92.0,407.9 87.4,407.3 82.3,407.9 73.7,410.4 65.0,416.1 58.9,421.6 54.7,423.6 40.3,427.3 33.0,427.9M33.0,350.7 41.0,349.8 58.4,343.9 60.4,344.2 65.7,346.9 69.0,347.7 76.4,347.7 81.0,346.7 83.5,345.2 85.1,343.2 87.4,335.5 89.3,332.5 99.7,322.1 103.8,319.1 107.4,317.5 126.4,314.7 131.4,314.7 136.0,316.1 140.7,321.0 144.4,321.7 147.7,320.8 153.8,316.6 156.8,316.2 158.8,316.8 161.1,318.4 163.3,320.8 164.5,323.1 164.5,325.5 162.0,332.5 161.6,338.5 162.3,343.8 163.2,345.5 164.8,346.9 170.4,348.8 176.4,349.2 180.4,348.1 185.8,344.7 188.1,343.8 201.8,343.7 204.1,344.2 206.1,345.2 212.1,351.5 212.4,353.5 211.2,355.2 208.1,357.1 201.6,359.8 199.8,361.8 200.0,363.5 201.4,365.2 209.5,369.5 212.2,371.5 213.8,373.5 214.4,375.5 213.7,376.5 207.5,376.5 203.5,377.4 199.8,379.5 197.2,382.2 195.9,385.6 196.0,389.6 197.5,392.2 200.5,394.4 203.1,395.4 205.8,395.6 208.1,394.9 210.1,393.6 212.2,390.2 214.6,383.9 215.7,379.2 216.5,378.4 225.5,379.0 244.5,378.8 256.2,377.1 265.2,374.8 269.5,374.5M269.5,370.2 263.5,369.5 254.2,366.1 251.5,364.2 250.5,361.2 251.5,357.5 252.8,356.0 254.7,354.8 262.5,352.2 269.5,351.6M125.3,372.5 127.4,372.1 129.4,371.0 133.6,366.5 134.7,363.2 133.3,360.5 130.1,358.9 125.7,358.7 118.1,360.6 114.5,362.5 113.5,364.2 113.4,365.9 114.2,368.2 115.7,370.1 119.4,372.1 125.3,372.5M139.9,385.6 142.2,384.6 143.4,383.2 143.5,381.5 142.3,379.9 139.7,378.0 137.1,377.1 134.1,377.0 132.1,378.1 131.3,379.5 131.2,381.2 132.8,384.2 136.1,385.8 139.9,385.6M61.5,408.3 66.0,407.4 66.7,406.6 67.0,404.9 66.8,402.2 65.8,399.2 63.7,394.2 62.0,391.9 59.0,390.2 55.0,389.7 48.1,390.6 45.0,392.2 44.0,394.2 44.1,396.9 45.0,400.6 46.5,402.9 49.0,404.5 55.3,407.2 61.5,408.3M269.5,429.4 255.5,429.5 245.8,431.4 239.5,431.6 234.5,431.3 225.1,429.5 206.8,429.2 194.8,427.9 171.8,428.5 145.1,428.2 129.1,425.8 121.2,423.6 116.1,421.5 105.3,415.9 102.7,413.9 98.4,409.2 96.4,407.8 92.4,406.5 87.4,405.9 69.4,408.4 68.0,409.3 65.2,412.9 59.5,418.9 55.2,421.9 50.3,423.9 41.3,426.1 33.0,426.9M33.0,351.5 39.3,351.1 47.7,348.6 57.4,346.8 59.7,347.1 66.0,349.8 69.7,350.6 77.7,350.6 83.7,349.4 86.4,348.0 88.0,346.4 89.2,344.2 91.0,337.5 92.5,334.1 101.1,323.5 103.6,321.1 106.7,319.4 110.7,318.4 127.1,317.2 129.4,317.7 131.4,318.8 132.8,320.4 135.7,325.7 138.4,327.2 148.4,325.5 155.1,320.9 156.8,320.8 158.4,321.6 159.6,323.1 160.0,325.1 158.9,334.1 159.3,344.2 160.9,347.8 164.1,350.2 169.1,351.3 175.8,351.7 180.1,351.1 187.8,348.6 197.8,348.4 203.4,348.8 206.5,350.5 207.3,352.5 206.3,354.2 195.8,358.0 193.8,359.4 192.9,360.8 193.0,362.5 194.3,364.2 204.3,370.2 206.2,372.2 205.2,373.9 193.8,381.2 191.4,384.6 191.0,388.2 192.0,391.2 194.2,393.2 198.3,395.2 204.5,396.9 207.1,396.7 209.5,395.9 212.4,393.6 215.8,389.1 220.8,383.6 223.8,381.9 228.5,381.3 244.5,380.9 263.5,376.8 269.5,376.4M269.5,368.0 264.0,367.5 259.0,365.9 254.9,363.5 254.0,361.2 254.5,359.5 255.5,358.2 260.2,354.9 264.2,353.5 269.5,353.1M138.8,387.2 142.7,386.6 146.4,385.2 148.3,383.9 148.8,382.5 148.3,381.2 147.1,380.2 134.7,372.9 134.7,370.9 137.4,366.5 138.2,364.2 137.8,361.2 136.2,358.8 134.6,357.8 132.4,357.2 125.7,357.2 115.4,359.7 113.1,360.8 111.5,362.2 110.2,364.5 110.2,367.5 111.7,372.5 113.7,375.6 117.1,377.2 125.7,378.3 127.1,379.3 129.7,383.6 131.8,385.6 135.1,387.0 138.8,387.2M167.5,366.5 168.8,365.7 169.6,364.5 169.7,361.5 167.8,359.5 166.4,359.2 164.8,359.5 162.7,361.5 162.8,364.5 164.8,366.5 167.5,366.5M269.5,427.9 255.2,428.0 245.1,429.6 238.5,429.8 224.1,428.0 206.8,427.8 193.4,426.8 148.1,426.7 133.1,425.0 124.2,422.6 115.7,419.4 106.7,415.3 103.6,412.9 98.7,406.7 95.4,404.7 89.4,403.7 78.4,404.3 74.4,403.5 71.7,401.3 65.1,392.9 63.1,390.9 59.4,389.1 54.7,388.6 47.7,389.0 44.0,390.1 41.8,392.2 41.5,395.6 43.0,400.9 44.7,403.6 46.9,405.3 58.6,410.9 59.8,412.6 59.3,414.6 55.4,418.9 50.5,421.9 40.3,425.0 33.0,425.6M33.0,352.3 38.7,351.9 48.0,349.4 56.7,348.5 60.0,349.1 66.4,352.2 70.0,353.3 78.4,354.5 84.0,353.8 86.7,352.3 89.4,349.3 90.8,346.5 93.9,337.1 99.4,329.8 102.6,324.1 104.4,322.2 107.5,320.4 112.4,319.3 118.1,318.8 125.4,318.8 128.1,319.4 130.1,320.7 134.4,328.2 137.1,330.4 138.7,330.5 144.1,328.8 148.1,328.2 153.4,327.8 155.1,328.7 155.9,331.8 157.2,346.5 159.8,353.8 157.8,360.5 157.7,365.5 159.1,369.5 161.4,371.7 164.4,372.7 167.8,372.7 170.4,371.9 172.4,370.4 174.1,367.7 175.4,364.2 175.7,361.2 175.2,357.2 175.8,356.2 183.8,354.4 186.1,354.4 187.3,354.8 187.7,355.8 187.1,359.8 188.4,362.5 191.9,365.5 199.9,369.9 201.8,372.2 201.4,373.5 200.2,374.9 190.1,381.2 187.6,383.6 186.3,385.6 185.9,387.9 186.8,390.2 189.1,392.6 192.6,394.6 202.1,397.5 207.8,397.4 211.1,396.1 216.8,391.8 221.8,389.2 225.5,385.6 227.8,384.3 232.8,383.5 244.1,383.0 262.2,378.1 269.5,377.5M269.5,366.5 264.8,366.2 261.5,365.2 258.7,363.5 257.6,361.5 258.8,358.8 262.0,356.2 265.2,355.0 269.5,354.7M142.9,387.9 153.1,386.2 155.0,384.6 155.4,381.9 154.7,380.2 153.5,379.2 145.1,376.9 141.6,374.9 139.3,372.9 138.6,370.9 140.3,365.5 140.4,362.2 138.8,358.5 136.4,355.9 133.7,355.2 127.4,355.9 115.1,358.7 110.4,360.8 107.0,364.2 105.9,367.5 106.5,372.9 107.9,377.2 110.1,379.5 114.1,380.9 124.4,381.8 130.8,386.2 134.4,387.7 138.1,388.2 142.9,387.9M269.5,426.9 255.5,427.0 244.8,428.3 238.1,428.4 224.5,427.0 207.1,426.9 196.1,426.1 174.8,425.5 147.7,425.4 134.7,424.1 115.7,418.1 107.1,414.3 104.2,411.9 98.4,404.1 94.0,400.8 89.4,400.1 80.4,401.5 77.0,401.2 74.0,399.4 66.9,392.6 63.4,389.9 59.4,388.3 53.7,387.8 47.0,388.0 42.9,388.9 39.8,390.9 39.0,392.2 38.8,393.6 41.4,400.6 43.1,403.6 45.7,405.8 52.0,408.6 54.9,410.6 56.4,412.9 55.9,415.3 52.9,418.6 48.9,420.9 40.0,423.9 33.0,424.5M147.7,373.9 145.1,373.3 143.4,371.6 143.1,369.9 143.7,364.5 143.1,361.5 138.7,352.7 136.4,350.5 134.4,350.6 128.4,353.6 106.1,359.8 103.0,359.8 99.0,358.7 96.0,357.5 94.1,355.8 93.2,354.2 93.0,351.8 95.3,342.2 96.7,339.5 101.6,333.8 104.7,325.8 106.5,323.5 109.5,321.8 114.4,320.5 119.1,320.3 124.1,320.9 126.7,321.9 128.6,323.5 134.4,334.1 136.4,336.1 138.7,336.0 143.1,332.8 145.4,331.9 148.4,332.0 150.6,333.5 152.1,336.4 153.2,340.8 153.6,353.2 151.5,363.5 150.7,371.1 149.7,372.9 147.7,373.9M33.0,353.6 38.7,353.2 46.3,350.9 50.0,350.4 56.0,350.7 60.2,352.2 69.6,359.2 71.2,361.5 71.4,363.5 70.9,365.2 66.3,369.9 65.8,371.2 66.1,372.2 68.4,373.5 77.4,375.3 80.7,376.5 83.4,379.3 84.3,383.6 83.7,387.9 82.0,392.7 80.4,395.0 78.3,395.9 75.7,395.3 70.6,391.9 64.3,388.9 59.0,387.2 46.3,386.5 33.0,387.6M269.5,363.9 264.8,363.2 263.8,362.5 263.3,361.5 263.8,360.2 265.1,359.2 269.5,358.4M186.8,379.2 184.4,379.3 182.1,378.5 180.3,376.9 179.3,374.5 179.1,371.9 180.0,369.2 181.8,367.3 183.8,366.4 186.4,366.3 189.4,367.3 194.7,370.2 196.6,372.2 196.5,373.5 194.8,375.2 190.1,378.0 186.8,379.2M269.5,425.6 255.5,425.6 244.8,426.6 237.5,426.7 225.1,425.7 206.1,425.5 184.4,424.7 174.1,423.6 147.1,423.3 136.7,422.5 126.7,419.2 115.4,416.3 108.0,412.9 105.4,410.6 102.2,405.6 100.6,402.2 100.2,399.6 100.7,396.6 102.0,392.6 103.1,390.6 104.7,388.8 107.4,387.4 111.7,386.1 119.7,385.2 125.4,385.7 134.7,389.1 147.7,390.4 154.1,393.7 157.1,394.5 184.1,394.9 201.5,398.7 207.1,398.8 210.8,397.9 217.5,395.0 226.9,392.9 234.1,388.4 245.5,387.1 247.8,386.2 252.5,383.0 256.2,381.5 263.2,379.4 269.5,378.9M33.0,397.3 35.3,397.8 37.0,398.7 42.5,405.3 45.0,407.0 51.3,410.2 52.6,411.6 53.2,413.3 52.9,414.6 51.8,416.3 48.0,418.9 39.7,422.2 33.0,422.9M147.4,360.8 146.1,360.6 144.4,358.9 142.4,355.6 139.4,348.6 137.7,346.6 136.4,346.0 134.4,346.6 127.7,351.6 118.1,355.3 106.1,357.7 102.4,357.0 98.8,354.8 97.5,353.2 96.9,351.2 97.6,344.2 99.1,341.1 105.2,333.8 107.3,326.8 108.4,324.8 111.7,322.6 116.1,321.6 120.5,321.8 124.7,323.2 126.7,324.8 128.4,326.9 130.6,330.8 133.6,338.1 135.1,340.0 136.4,340.8 138.4,340.3 144.7,335.6 146.7,335.4 148.4,336.2 150.0,338.5 151.0,341.5 151.5,350.8 150.4,357.2 149.1,359.5 147.4,360.8M33.0,355.0 38.3,354.5 45.7,352.1 49.0,351.5 53.7,352.0 58.0,353.7 64.3,359.2 66.3,362.5 65.8,364.9 61.7,370.2 61.4,371.5 61.8,372.9 63.4,374.2 65.4,375.0 75.4,377.0 78.9,378.2 81.2,380.5 81.9,383.9 81.4,386.8 80.0,389.4 78.4,391.1 76.7,391.5 60.4,386.7 43.1,384.9 33.0,382.4M187.1,376.9 183.8,376.5 181.9,374.2 181.7,372.5 182.1,370.9 183.1,369.6 184.4,368.9 186.4,368.6 188.8,369.2 191.0,370.5 192.4,372.2 192.3,373.5 191.3,374.9 187.1,376.9M269.5,424.5 255.8,424.5 244.5,425.4 236.5,425.4 225.1,424.6 186.4,423.8 174.1,421.9 137.7,420.7 128.1,417.7 116.1,415.2 110.8,412.9 107.9,410.9 105.7,408.4 103.3,404.3 102.5,400.9 102.9,398.2 104.1,395.5 105.8,392.9 107.9,390.9 113.4,388.1 120.4,387.3 125.4,387.6 133.4,389.9 143.1,391.4 146.7,392.8 152.1,395.6 155.8,396.7 184.4,397.1 201.8,399.8 207.5,399.8 218.1,396.6 227.8,394.7 235.8,391.5 245.8,390.9 249.5,390.2 252.2,388.8 255.7,384.6 259.1,382.2 263.7,380.5 269.5,380.1M33.0,400.9 36.7,401.9 43.0,407.0 49.0,410.3 50.4,411.6 51.0,413.3 50.3,414.9 49.0,416.3 42.4,419.6 38.0,421.1 33.0,421.4M110.4,354.5 106.1,354.5 103.5,352.8 102.3,349.5 102.7,344.5 104.5,341.1 109.1,337.5 110.7,335.5 111.6,332.8 112.2,327.8 113.1,325.8 115.7,324.1 119.1,324.2 122.7,326.5 126.1,329.5 127.7,331.7 130.2,339.8 130.2,343.5 128.1,346.6 119.8,352.2 116.4,353.4 110.4,354.5M146.7,353.6 145.7,353.4 144.7,352.0 142.9,345.5 143.4,342.7 145.4,341.3 147.2,342.2 148.2,345.2 148.1,351.0 147.5,352.8 146.7,353.6M33.0,358.3 38.0,357.5 44.0,354.5 47.0,353.5 50.0,353.5 53.0,354.6 58.8,359.2 60.1,360.8 60.7,362.5 60.0,365.3 55.3,370.9 54.9,372.2 55.3,373.6 57.1,374.9 60.8,376.2 71.7,378.5 75.6,379.9 78.0,382.0 78.4,383.6 78.1,384.9 77.2,386.2 75.7,387.1 70.0,387.4 46.6,382.9 44.7,381.9 43.6,380.5 42.3,373.9 40.6,370.9 37.3,368.6 33.0,368.0M269.5,387.5 264.8,386.8 263.5,386.0 263.1,384.9 263.6,383.9 264.8,383.1 269.5,382.5M269.5,422.7 255.8,422.7 238.5,423.5 187.8,422.2 183.5,421.6 176.1,419.5 164.4,418.9 155.1,417.1 137.1,416.6 118.4,413.5 114.4,412.3 111.3,410.3 107.9,406.9 106.2,404.3 105.6,401.6 106.0,399.6 107.0,397.9 112.7,392.2 116.1,390.6 121.1,390.0 126.7,390.3 138.4,392.6 141.4,393.7 148.7,398.2 152.8,399.3 156.8,399.8 184.8,399.8 206.1,401.6 210.8,401.0 221.1,398.1 234.1,395.5 239.1,395.0 255.5,395.0 265.2,396.9 269.5,397.2M33.0,404.7 36.3,405.2 39.0,406.4 45.8,410.9 47.1,412.9 45.9,414.9 41.3,417.6 37.7,418.7 33.0,419.1M112.4,350.5 109.8,350.5 108.4,349.7 107.7,347.9 108.1,345.7 109.2,344.2 113.1,341.6 114.8,339.8 118.1,331.9 118.7,331.5 120.1,331.8 122.8,333.5 124.4,335.3 125.3,338.8 125.0,341.5 124.0,342.8 120.1,345.5 116.4,349.2 112.4,350.5M48.7,373.0 47.7,373.1 46.0,371.9 39.3,365.2 38.1,363.2 39.0,361.2 42.5,357.8 45.1,356.2 47.7,355.4 50.1,355.8 52.7,357.5 55.5,360.5 56.4,362.9 55.2,365.9 48.7,373.0M70.7,385.6 66.4,385.5 53.3,382.9 49.2,380.5 48.4,379.2 48.4,377.5 49.0,376.6 50.0,376.5 71.0,380.2 73.4,381.5 74.3,383.2 73.4,384.6 70.7,385.6M269.5,420.8 256.5,420.9 237.8,421.8 186.8,420.4 176.8,417.7 163.4,416.6 160.6,415.6 155.4,412.7 152.4,411.9 148.1,411.8 135.7,412.8 125.1,412.3 118.4,411.4 115.4,410.3 112.2,407.9 109.6,404.9 108.6,402.2 108.9,400.6 109.9,398.9 115.1,394.0 118.4,392.7 124.1,392.2 129.7,392.7 137.7,394.4 140.4,395.9 147.7,402.1 150.1,403.1 153.1,403.5 170.1,402.4 185.4,402.4 206.5,403.3 214.1,402.0 224.1,399.0 238.8,397.0 255.8,397.3 259.2,398.1 265.2,400.7 269.5,401.3M33.0,406.8 36.3,407.2 39.3,408.3 42.5,410.6 43.7,412.6 43.0,414.3 40.3,416.0 37.3,416.9 33.0,417.3M48.0,365.9 46.0,365.2 44.9,363.2 45.7,361.1 47.7,360.1 49.7,360.9 50.7,362.9 49.9,364.9 48.0,365.9M129.4,408.9 123.4,408.8 117.4,406.9 115.5,405.6 114.2,403.9 113.7,402.2 114.1,400.6 115.7,398.7 118.1,397.2 121.4,396.0 125.1,395.4 132.1,396.2 135.4,397.3 137.9,398.9 139.4,400.6 140.0,402.2 139.9,403.9 139.1,405.3 135.7,407.3 129.4,408.9M269.5,416.8 256.8,417.0 243.8,419.1 215.8,419.0 204.1,417.0 187.8,416.7 177.8,414.6 167.4,414.0 164.4,412.9 163.2,410.9 163.5,409.6 164.4,408.6 167.4,407.5 204.5,407.1 216.5,404.4 224.8,401.2 236.5,399.8 249.8,399.8 254.8,400.3 257.9,401.6 263.2,406.1 265.8,406.9 269.5,407.1M33.0,410.1 36.7,410.8 38.0,412.3 36.4,413.6 33.0,414.0M129.1,406.7 125.1,406.8 121.4,405.6 118.8,403.2 118.6,401.9 118.9,400.9 121.3,398.9 125.1,397.7 128.7,397.7 132.1,398.9 134.4,400.9 134.8,402.9 132.7,405.2 129.1,406.7M242.1,417.3 214.5,416.9 211.8,416.3 209.0,414.9 206.9,413.3 206.4,411.9 207.5,410.3 210.8,408.2 227.1,403.0 235.8,402.4 246.8,402.5 251.8,403.2 254.9,404.9 257.6,409.6 257.7,410.6 257.1,411.6 249.5,416.1 246.2,417.0 242.1,417.3M239.8,414.3 218.5,414.0 215.3,413.3 214.4,411.9 215.0,410.9 217.1,409.9 227.8,407.4 243.1,407.4 246.2,408.2 247.7,409.6 247.8,411.6 246.5,413.1 244.1,414.0 239.8,414.3"/>
<text x="23.3" y="296.8" font-size="7.5" text-anchor="middle" font-weight="normal" fill="#000" transform="rotate(-90 23.3 296.8)">75</text>
<text x="23.3" y="321.6" font-size="7.5" text-anchor="middle" font-weight="normal" fill="#000" transform="rotate(-90 23.3 321.6)">60</text>
<text x="23.3" y="340.4" font-size="7.5" text-anchor="middle" font-weight="normal" fill="#000" transform="rotate(-90 23.3 340.4)">45</text>
<text x="23.3" y="351.2" font-size="7.5" text-anchor="middle" font-weight="normal" fill="#000" transform="rotate(-90 23.3 351.2)">30</text>
<text x="23.3" y="362.5" font-size="7.5" text-anchor="middle" font-weight="normal" fill="#000" transform="rotate(-90 23.3 362.5)">15</text>
<text x="23.3" y="371.9" font-size="7.5" text-anchor="middle" font-weight="normal" fill="#000" transform="rotate(-90 23.3 371.9)">0</text>
<text x="23.3" y="381.5" font-size="7.5" text-anchor="middle" font-weight="normal" fill="#000" transform="rotate(-90 23.3 381.5)">-15</text>
<text x="23.3" y="393.3" font-size="7.5" text-anchor="middle" font-weight="normal" fill="#000" transform="rotate(-90 23.3 393.3)">-30</text>
<text x="23.3" y="409.4" font-size="7.5" text-anchor="middle" font-weight="normal" fill="#000" transform="rotate(-90 23.3 409.4)">-45</text>
<text x="23.3" y="427.4" font-size="7.5" text-anchor="middle" font-weight="normal" fill="#000" transform="rotate(-90 23.3 427.4)">-60</text>
<text x="23.3" y="453.1" font-size="7.5" text-anchor="middle" font-weight="normal" fill="#000" transform="rotate(-90 23.3 453.1)">-75</text>
<text x="13" y="369.6" font-size="10" text-anchor="middle" font-weight="normal" fill="#000" transform="rotate(-90 13 369.6)">Latitude</text>
<text x="32" y="477.8" font-size="7.5" text-anchor="middle" font-weight="normal" fill="#000">-180</text>
<text x="52.6" y="477.8" font-size="7.5" text-anchor="middle" font-weight="normal" fill="#000">-150</text>
<text x="72.5" y="477.8" font-size="7.5" text-anchor="middle" font-weight="normal" fill="#000">-120</text>
<text x="91" y="477.8" font-size="7.5" text-anchor="middle" font-weight="normal" fill="#000">-90</text>
<text x="110.5" y="477.8" font-size="7.5" text-anchor="middle" font-weight="normal" fill="#000">-60</text>
<text x="130" y="477.8" font-size="7.5" text-anchor="middle" font-weight="normal" fill="#000">-30</text>
<text x="152.7" y="477.8" font-size="7.5" text-anchor="middle" font-weight="normal" fill="#000">0</text>
<text x="173" y="477.8" font-size="7.5" text-anchor="middle" font-weight="normal" fill="#000">30</text>
<text x="193.8" y="477.8" font-size="7.5" text-anchor="middle" font-weight="normal" fill="#000">60</text>
<text x="213" y="477.8" font-size="7.5" text-anchor="middle" font-weight="normal" fill="#000">90</text>
<text x="232.7" y="477.8" font-size="7.5" text-anchor="middle" font-weight="normal" fill="#000">120</text>
<text x="253.5" y="477.8" font-size="7.5" text-anchor="middle" font-weight="normal" fill="#000">150</text>
<text x="271.3" y="477.8" font-size="7.5" text-anchor="middle" font-weight="normal" fill="#000">180</text>
<text x="151.2" y="487.4" font-size="10" text-anchor="middle" font-weight="normal" fill="#000">Longitude</text>
<rect x="31.3" y="490.2" width="234.5" height="8.600000000000023" fill="#000"/>
<rect x="33.50" y="490.2" width="3.28" height="8.600000000000023" fill="#7a00e2"/>
<rect x="36.48" y="490.2" width="3.28" height="8.600000000000023" fill="#6a00e7"/>
<rect x="39.46" y="490.2" width="3.28" height="8.600000000000023" fill="#5a00ed"/>
<rect x="42.43" y="490.2" width="3.28" height="8.600000000000023" fill="#4800f2"/>
<rect x="45.41" y="490.2" width="3.28" height="8.600000000000023" fill="#3400f9"/>
<rect x="48.39" y="490.2" width="3.28" height="8.600000000000023" fill="#2000ff"/>
<rect x="51.37" y="490.2" width="3.28" height="8.600000000000023" fill="#1000ff"/>
<rect x="54.35" y="490.2" width="3.28" height="8.600000000000023" fill="#0000ff"/>
<rect x="57.33" y="490.2" width="3.28" height="8.600000000000023" fill="#0000ef"/>
<rect x="60.30" y="490.2" width="3.28" height="8.600000000000023" fill="#0000e0"/>
<rect x="63.28" y="490.2" width="3.28" height="8.600000000000023" fill="#0047f7"/>
<rect x="66.26" y="490.2" width="3.28" height="8.600000000000023" fill="#009eff"/>
<rect x="69.24" y="490.2" width="3.28" height="8.600000000000023" fill="#00fdff"/>
<rect x="72.22" y="490.2" width="3.28" height="8.600000000000023" fill="#00ffc8"/>
<rect x="75.19" y="490.2" width="3.28" height="8.600000000000023" fill="#00ff8b"/>
<rect x="78.17" y="490.2" width="3.28" height="8.600000000000023" fill="#00ff43"/>
<rect x="81.15" y="490.2" width="3.28" height="8.600000000000023" fill="#00f62e"/>
<rect x="84.13" y="490.2" width="3.28" height="8.600000000000023" fill="#02ee1e"/>
<rect x="87.11" y="490.2" width="3.28" height="8.600000000000023" fill="#08e818"/>
<rect x="90.09" y="490.2" width="3.28" height="8.600000000000023" fill="#0ee212"/>
<rect x="93.06" y="490.2" width="3.28" height="8.600000000000023" fill="#1ce20c"/>
<rect x="96.04" y="490.2" width="3.28" height="8.600000000000023" fill="#30e505"/>
<rect x="99.02" y="490.2" width="3.28" height="8.600000000000023" fill="#48e900"/>
<rect x="102.00" y="490.2" width="3.28" height="8.600000000000023" fill="#67ed00"/>
<rect x="104.98" y="490.2" width="3.28" height="8.600000000000023" fill="#8bf000"/>
<rect x="107.96" y="490.2" width="3.28" height="8.600000000000023" fill="#baf000"/>
<rect x="110.93" y="490.2" width="3.28" height="8.600000000000023" fill="#dcf700"/>
<rect x="113.91" y="490.2" width="3.28" height="8.600000000000023" fill="#fbfe00"/>
<rect x="116.89" y="490.2" width="3.28" height="8.600000000000023" fill="#fff200"/>
<rect x="119.87" y="490.2" width="3.28" height="8.600000000000023" fill="#ffe200"/>
<rect x="122.85" y="490.2" width="3.28" height="8.600000000000023" fill="#ffd400"/>
<rect x="125.82" y="490.2" width="3.28" height="8.600000000000023" fill="#ffc600"/>
<rect x="128.80" y="490.2" width="3.28" height="8.600000000000023" fill="#ffba00"/>
<rect x="131.78" y="490.2" width="3.28" height="8.600000000000023" fill="#ffae00"/>
<rect x="134.76" y="490.2" width="3.28" height="8.600000000000023" fill="#ffa000"/>
<rect x="137.74" y="490.2" width="3.28" height="8.600000000000023" fill="#ff9300"/>
<rect x="140.72" y="490.2" width="3.28" height="8.600000000000023" fill="#ff8900"/>
<rect x="143.69" y="490.2" width="3.28" height="8.600000000000023" fill="#ff8000"/>
<rect x="146.67" y="490.2" width="3.28" height="8.600000000000023" fill="#ff7700"/>
<rect x="149.65" y="490.2" width="3.28" height="8.600000000000023" fill="#ff7000"/>
<rect x="152.63" y="490.2" width="3.28" height="8.600000000000023" fill="#ff6900"/>
<rect x="155.61" y="490.2" width="3.28" height="8.600000000000023" fill="#ff6200"/>
<rect x="158.58" y="490.2" width="3.28" height="8.600000000000023" fill="#ff5900"/>
<rect x="161.56" y="490.2" width="3.28" height="8.600000000000023" fill="#ff4f00"/>
<rect x="164.54" y="490.2" width="3.28" height="8.600000000000023" fill="#ff4600"/>
<rect x="167.52" y="490.2" width="3.28" height="8.600000000000023" fill="#ff3d00"/>
<rect x="170.50" y="490.2" width="3.28" height="8.600000000000023" fill="#ff3500"/>
<rect x="173.48" y="490.2" width="3.28" height="8.600000000000023" fill="#ff2d00"/>
<rect x="176.45" y="490.2" width="3.28" height="8.600000000000023" fill="#ff2500"/>
<rect x="179.43" y="490.2" width="3.28" height="8.600000000000023" fill="#ff1d00"/>
<rect x="182.41" y="490.2" width="3.28" height="8.600000000000023" fill="#ff1600"/>
<rect x="185.39" y="490.2" width="3.28" height="8.600000000000023" fill="#ff0f00"/>
<rect x="188.37" y="490.2" width="3.28" height="8.600000000000023" fill="#ff0700"/>
<rect x="191.34" y="490.2" width="3.28" height="8.600000000000023" fill="#ff0000"/>
<rect x="194.32" y="490.2" width="3.28" height="8.600000000000023" fill="#fd0000"/>
<rect x="197.30" y="490.2" width="3.28" height="8.600000000000023" fill="#fb0000"/>
<rect x="200.28" y="490.2" width="3.28" height="8.600000000000023" fill="#f90000"/>
<rect x="203.26" y="490.2" width="3.28" height="8.600000000000023" fill="#f70000"/>
<rect x="206.24" y="490.2" width="3.28" height="8.600000000000023" fill="#f50000"/>
<rect x="209.21" y="490.2" width="3.28" height="8.600000000000023" fill="#f20000"/>
<rect x="212.19" y="490.2" width="3.28" height="8.600000000000023" fill="#f00000"/>
<rect x="215.17" y="490.2" width="3.28" height="8.600000000000023" fill="#ed0000"/>
<rect x="218.15" y="490.2" width="3.28" height="8.600000000000023" fill="#eb0000"/>
<rect x="221.13" y="490.2" width="3.28" height="8.600000000000023" fill="#e80000"/>
<rect x="224.11" y="490.2" width="3.28" height="8.600000000000023" fill="#e40000"/>
<rect x="227.08" y="490.2" width="3.28" height="8.600000000000023" fill="#e00000"/>
<rect x="230.06" y="490.2" width="3.28" height="8.600000000000023" fill="#dc0000"/>
<rect x="233.04" y="490.2" width="3.28" height="8.600000000000023" fill="#d70000"/>
<rect x="236.02" y="490.2" width="3.28" height="8.600000000000023" fill="#d30000"/>
<rect x="239.00" y="490.2" width="3.28" height="8.600000000000023" fill="#cf0000"/>
<rect x="241.97" y="490.2" width="3.28" height="8.600000000000023" fill="#c90000"/>
<rect x="244.95" y="490.2" width="3.28" height="8.600000000000023" fill="#c40000"/>
<rect x="247.93" y="490.2" width="3.28" height="8.600000000000023" fill="#be0000"/>
<rect x="250.91" y="490.2" width="3.28" height="8.600000000000023" fill="#b90000"/>
<rect x="253.89" y="490.2" width="3.28" height="8.600000000000023" fill="#b20000"/>
<rect x="256.87" y="490.2" width="3.28" height="8.600000000000023" fill="#ab0000"/>
<rect x="259.84" y="490.2" width="3.28" height="8.600000000000023" fill="#a40000"/>
<rect x="262.82" y="490.2" width="3.28" height="8.600000000000023" fill="#a00000"/>
<text x="36.1" y="509.8" font-size="7.5" text-anchor="middle" font-weight="normal" fill="#000">&#8722;2.0</text>
<text x="54.5" y="509.8" font-size="7.5" text-anchor="middle" font-weight="normal" fill="#000">&#8722;1.5</text>
<text x="74.2" y="509.8" font-size="7.5" text-anchor="middle" font-weight="normal" fill="#000">&#8722;1.0</text>
<text x="93.8" y="509.8" font-size="7.5" text-anchor="middle" font-weight="normal" fill="#000">&#8722;0.5</text>
<text x="116" y="509.8" font-size="7.5" text-anchor="middle" font-weight="normal" fill="#000">0.0</text>
<text x="137.5" y="509.8" font-size="7.5" text-anchor="middle" font-weight="normal" fill="#000">0.5</text>
<text x="159.2" y="509.8" font-size="7.5" text-anchor="middle" font-weight="normal" fill="#000">1.0</text>
<text x="179.9" y="509.8" font-size="7.5" text-anchor="middle" font-weight="normal" fill="#000">1.5</text>
<text x="202.7" y="509.8" font-size="7.5" text-anchor="middle" font-weight="normal" fill="#000">2.0</text>
<text x="224.8" y="509.8" font-size="7.5" text-anchor="middle" font-weight="normal" fill="#000">2.5</text>
<text x="247.5" y="509.8" font-size="7.5" text-anchor="middle" font-weight="normal" fill="#000">3.0</text>
</svg>
</body></html>
